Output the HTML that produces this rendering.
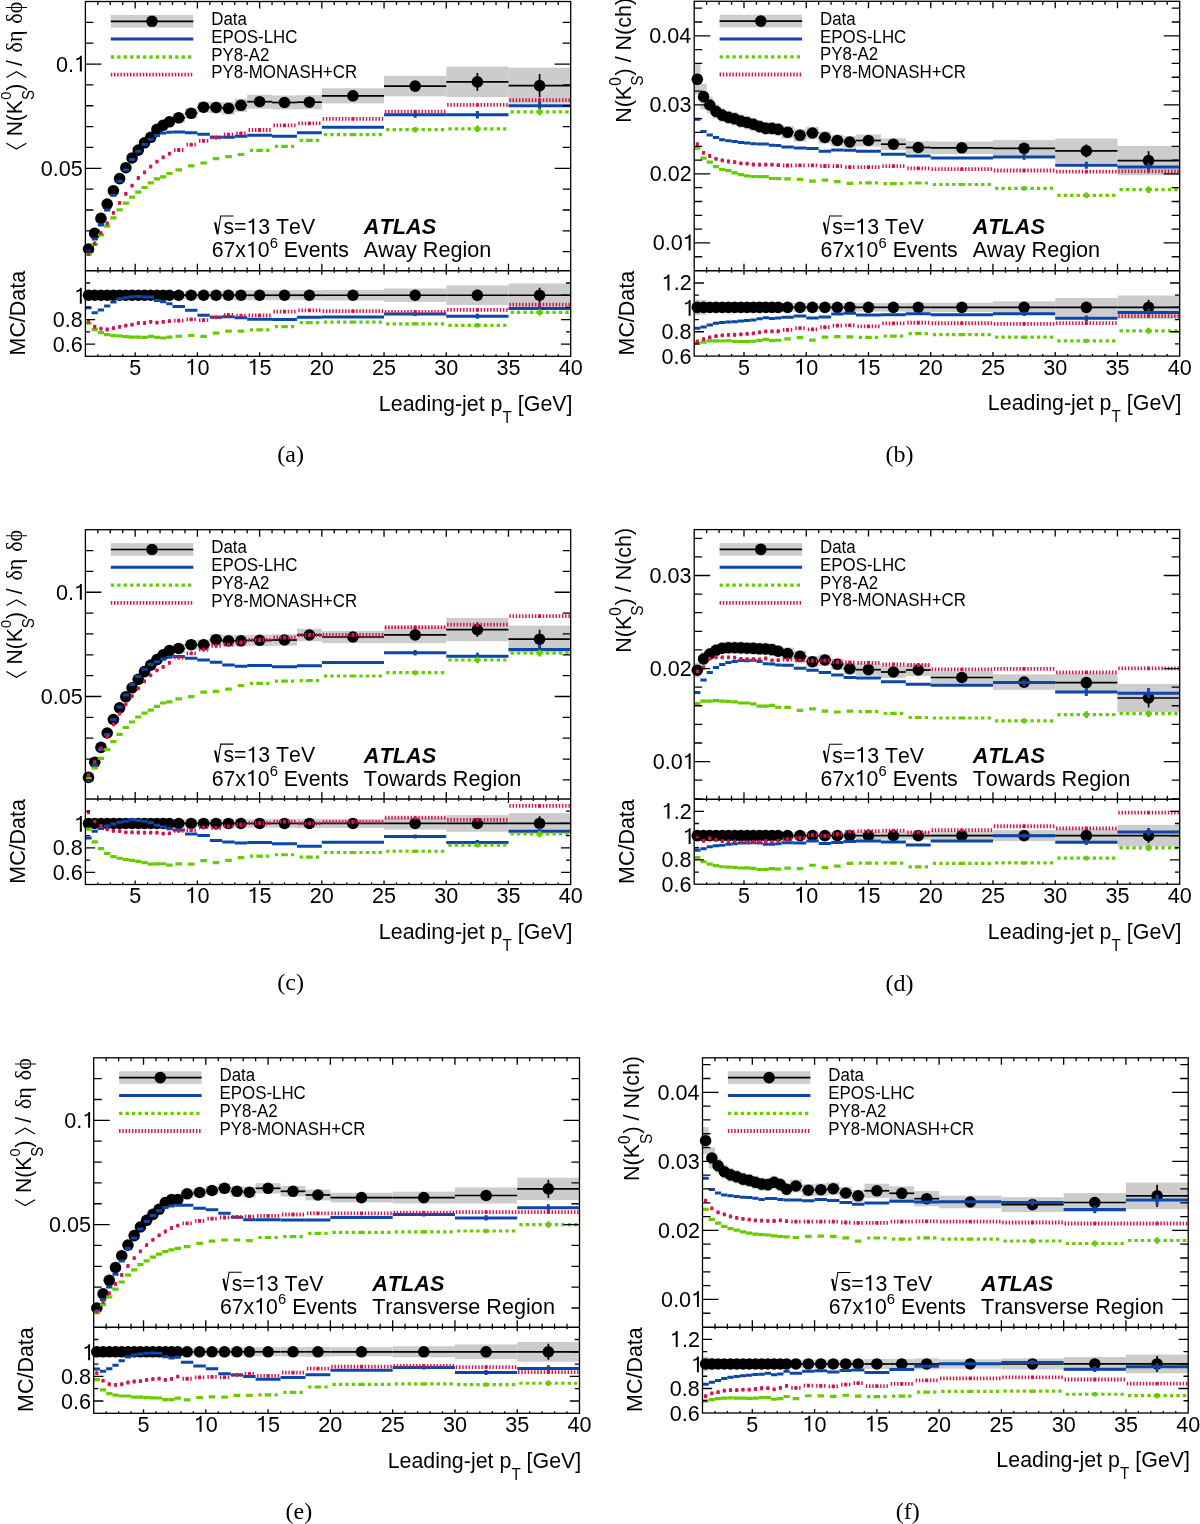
<!DOCTYPE html>
<html><head><meta charset="utf-8"><style>
html,body{margin:0;padding:0;background:#fff;width:1200px;height:1524px;overflow:hidden}
svg{display:block;will-change:transform}

</style></head><body>
<svg width="1200" height="1524" viewBox="0 0 1200 1524">
<rect width="1200" height="1524" fill="#fff"/>
<clipPath id="cma"><rect x="85.4" y="1.5" width="485.3" height="269.3"/></clipPath>
<clipPath id="cra"><rect x="85.4" y="270.8" width="485.3" height="85.5"/></clipPath>
<g clip-path="url(#cma)">
<rect x="85.4" y="248.41" width="6.22" height="1.18" fill="#cccccc"/>
<rect x="91.62" y="232.42" width="6.22" height="1.96" fill="#cccccc"/>
<rect x="97.84" y="217.05" width="6.22" height="2.71" fill="#cccccc"/>
<rect x="104.07" y="202.39" width="6.22" height="3.42" fill="#cccccc"/>
<rect x="110.29" y="188.65" width="6.22" height="4.09" fill="#cccccc"/>
<rect x="116.51" y="176.25" width="6.22" height="4.7" fill="#cccccc"/>
<rect x="122.73" y="165.08" width="6.22" height="5.24" fill="#cccccc"/>
<rect x="128.95" y="155.14" width="6.22" height="5.73" fill="#cccccc"/>
<rect x="135.17" y="147.04" width="6.22" height="6.12" fill="#cccccc"/>
<rect x="141.4" y="139.56" width="6.22" height="6.49" fill="#cccccc"/>
<rect x="147.62" y="133.92" width="6.22" height="6.76" fill="#cccccc"/>
<rect x="153.84" y="125.82" width="6.22" height="7.16" fill="#cccccc"/>
<rect x="160.06" y="121.52" width="6.22" height="7.37" fill="#cccccc"/>
<rect x="166.28" y="118.03" width="6.22" height="7.54" fill="#cccccc"/>
<rect x="172.51" y="113.16" width="12.44" height="9.29" fill="#cccccc"/>
<rect x="184.95" y="108.2" width="12.44" height="10.19" fill="#cccccc"/>
<rect x="197.39" y="101.74" width="12.44" height="10.91" fill="#cccccc"/>
<rect x="209.84" y="101.72" width="12.44" height="11.55" fill="#cccccc"/>
<rect x="222.28" y="102.06" width="12.44" height="12.48" fill="#cccccc"/>
<rect x="234.72" y="98.61" width="12.44" height="13.38" fill="#cccccc"/>
<rect x="247.17" y="94.7" width="24.89" height="14.01" fill="#cccccc"/>
<rect x="272.05" y="95.53" width="24.89" height="13.94" fill="#cccccc"/>
<rect x="296.94" y="95.22" width="24.89" height="13.97" fill="#cccccc"/>
<rect x="321.83" y="88.2" width="62.22" height="15.2" fill="#cccccc"/>
<rect x="384.05" y="75.85" width="62.22" height="20.51" fill="#cccccc"/>
<rect x="446.26" y="66.65" width="62.22" height="30.5" fill="#cccccc"/>
<rect x="508.48" y="67.65" width="62.22" height="35.89" fill="#cccccc"/>
</g>
<line x1="85.4" y1="249" x2="91.62" y2="249" stroke="#000" stroke-width="1.7"/>
<line x1="91.62" y1="233.4" x2="97.84" y2="233.4" stroke="#000" stroke-width="1.7"/>
<line x1="97.84" y1="218.4" x2="104.07" y2="218.4" stroke="#000" stroke-width="1.7"/>
<line x1="104.07" y1="204.1" x2="110.29" y2="204.1" stroke="#000" stroke-width="1.7"/>
<line x1="110.29" y1="190.7" x2="116.51" y2="190.7" stroke="#000" stroke-width="1.7"/>
<line x1="116.51" y1="178.6" x2="122.73" y2="178.6" stroke="#000" stroke-width="1.7"/>
<line x1="122.73" y1="167.7" x2="128.95" y2="167.7" stroke="#000" stroke-width="1.7"/>
<line x1="128.95" y1="158" x2="135.17" y2="158" stroke="#000" stroke-width="1.7"/>
<line x1="135.17" y1="150.1" x2="141.4" y2="150.1" stroke="#000" stroke-width="1.7"/>
<line x1="141.4" y1="142.8" x2="147.62" y2="142.8" stroke="#000" stroke-width="1.7"/>
<line x1="147.62" y1="137.3" x2="153.84" y2="137.3" stroke="#000" stroke-width="1.7"/>
<line x1="153.84" y1="129.4" x2="160.06" y2="129.4" stroke="#000" stroke-width="1.7"/>
<line x1="160.06" y1="125.2" x2="166.28" y2="125.2" stroke="#000" stroke-width="1.7"/>
<line x1="166.28" y1="121.8" x2="172.51" y2="121.8" stroke="#000" stroke-width="1.7"/>
<line x1="172.51" y1="117.8" x2="184.95" y2="117.8" stroke="#000" stroke-width="1.7"/>
<line x1="184.95" y1="113.3" x2="197.39" y2="113.3" stroke="#000" stroke-width="1.7"/>
<line x1="197.39" y1="107.2" x2="209.84" y2="107.2" stroke="#000" stroke-width="1.7"/>
<line x1="209.84" y1="107.5" x2="222.28" y2="107.5" stroke="#000" stroke-width="1.7"/>
<line x1="222.28" y1="108.3" x2="234.72" y2="108.3" stroke="#000" stroke-width="1.7"/>
<line x1="234.72" y1="105.3" x2="247.17" y2="105.3" stroke="#000" stroke-width="1.7"/>
<line x1="247.17" y1="101.7" x2="272.05" y2="101.7" stroke="#000" stroke-width="1.7"/>
<line x1="272.05" y1="102.5" x2="296.94" y2="102.5" stroke="#000" stroke-width="1.7"/>
<line x1="296.94" y1="102.2" x2="321.83" y2="102.2" stroke="#000" stroke-width="1.7"/>
<line x1="321.83" y1="95.8" x2="384.05" y2="95.8" stroke="#000" stroke-width="1.7"/>
<line x1="384.05" y1="86.1" x2="446.26" y2="86.1" stroke="#000" stroke-width="1.7"/>
<line x1="415.16" y1="81.44" x2="415.16" y2="90.76" stroke="#000" stroke-width="1.7"/>
<line x1="446.26" y1="81.9" x2="508.48" y2="81.9" stroke="#000" stroke-width="1.7"/>
<line x1="477.37" y1="72.94" x2="477.37" y2="90.86" stroke="#000" stroke-width="1.7"/>
<line x1="508.48" y1="85.6" x2="570.7" y2="85.6" stroke="#000" stroke-width="1.7"/>
<line x1="539.59" y1="74.01" x2="539.59" y2="97.19" stroke="#000" stroke-width="1.7"/>
<circle cx="88.51" cy="249" r="5.8" fill="#000"/>
<circle cx="94.73" cy="233.4" r="5.8" fill="#000"/>
<circle cx="100.95" cy="218.4" r="5.8" fill="#000"/>
<circle cx="107.18" cy="204.1" r="5.8" fill="#000"/>
<circle cx="113.4" cy="190.7" r="5.8" fill="#000"/>
<circle cx="119.62" cy="178.6" r="5.8" fill="#000"/>
<circle cx="125.84" cy="167.7" r="5.8" fill="#000"/>
<circle cx="132.06" cy="158" r="5.8" fill="#000"/>
<circle cx="138.29" cy="150.1" r="5.8" fill="#000"/>
<circle cx="144.51" cy="142.8" r="5.8" fill="#000"/>
<circle cx="150.73" cy="137.3" r="5.8" fill="#000"/>
<circle cx="156.95" cy="129.4" r="5.8" fill="#000"/>
<circle cx="163.17" cy="125.2" r="5.8" fill="#000"/>
<circle cx="169.39" cy="121.8" r="5.8" fill="#000"/>
<circle cx="178.73" cy="117.8" r="5.8" fill="#000"/>
<circle cx="191.17" cy="113.3" r="5.8" fill="#000"/>
<circle cx="203.61" cy="107.2" r="5.8" fill="#000"/>
<circle cx="216.06" cy="107.5" r="5.8" fill="#000"/>
<circle cx="228.5" cy="108.3" r="5.8" fill="#000"/>
<circle cx="240.94" cy="105.3" r="5.8" fill="#000"/>
<circle cx="259.61" cy="101.7" r="5.8" fill="#000"/>
<circle cx="284.5" cy="102.5" r="5.8" fill="#000"/>
<circle cx="309.38" cy="102.2" r="5.8" fill="#000"/>
<circle cx="352.94" cy="95.8" r="5.8" fill="#000"/>
<circle cx="415.16" cy="86.1" r="5.8" fill="#000"/>
<circle cx="477.37" cy="81.9" r="5.8" fill="#000"/>
<circle cx="539.59" cy="85.6" r="5.8" fill="#000"/>
<g clip-path="url(#cma)">
<path d="M88.51 251.4H85.4M88.51 251.4H91.62" stroke="#0b46a8" stroke-width="3" fill="none"/>
<path d="M94.73 239H91.62M94.73 239H97.84" stroke="#0b46a8" stroke-width="3" fill="none"/>
<path d="M100.95 225H97.84M100.95 225H104.07" stroke="#0b46a8" stroke-width="3" fill="none"/>
<path d="M107.18 210.1H104.07M107.18 210.1H110.29" stroke="#0b46a8" stroke-width="3" fill="none"/>
<path d="M113.4 195.3H110.29M113.4 195.3H116.51" stroke="#0b46a8" stroke-width="3" fill="none"/>
<path d="M119.62 181.3H116.51M119.62 181.3H122.73" stroke="#0b46a8" stroke-width="3" fill="none"/>
<path d="M125.84 169.9H122.73M125.84 169.9H128.95" stroke="#0b46a8" stroke-width="3" fill="none"/>
<path d="M132.06 159.4H128.95M132.06 159.4H135.17" stroke="#0b46a8" stroke-width="3" fill="none"/>
<path d="M138.29 151.3H135.17M138.29 151.3H141.4" stroke="#0b46a8" stroke-width="3" fill="none"/>
<path d="M144.51 144.6H141.4M144.51 144.6H147.62" stroke="#0b46a8" stroke-width="3" fill="none"/>
<path d="M150.73 139.2H147.62M150.73 139.2H153.84" stroke="#0b46a8" stroke-width="3" fill="none"/>
<path d="M156.95 135.5H153.84M156.95 135.5H160.06" stroke="#0b46a8" stroke-width="3" fill="none"/>
<path d="M163.17 133.1H160.06M163.17 133.1H166.28" stroke="#0b46a8" stroke-width="3" fill="none"/>
<path d="M169.39 132.2H166.28M169.39 132.2H172.51" stroke="#0b46a8" stroke-width="3" fill="none"/>
<path d="M178.73 132H172.51M178.73 132H184.95" stroke="#0b46a8" stroke-width="3" fill="none"/>
<path d="M191.17 132.8H184.95M191.17 132.8H197.39" stroke="#0b46a8" stroke-width="3" fill="none"/>
<path d="M203.61 134.2H197.39M203.61 134.2H209.84" stroke="#0b46a8" stroke-width="3" fill="none"/>
<path d="M216.06 137.2H209.84M216.06 137.2H222.28" stroke="#0b46a8" stroke-width="3" fill="none"/>
<path d="M228.5 137.2H222.28M228.5 137.2H234.72" stroke="#0b46a8" stroke-width="3" fill="none"/>
<path d="M240.94 136.3H234.72M240.94 136.3H247.17" stroke="#0b46a8" stroke-width="3" fill="none"/>
<path d="M259.61 135.3H247.17M259.61 135.3H272.05" stroke="#0b46a8" stroke-width="3" fill="none"/>
<path d="M284.5 136.2H272.05M284.5 136.2H296.94" stroke="#0b46a8" stroke-width="3" fill="none"/>
<path d="M309.38 132.8H296.94M309.38 132.8H321.83" stroke="#0b46a8" stroke-width="3" fill="none"/>
<path d="M352.94 127.3H321.83M352.94 127.3H384.05" stroke="#0b46a8" stroke-width="3" fill="none"/>
<path d="M415.16 114.7H384.05M415.16 114.7H446.26M415.16 114.7V111.7M415.16 114.7V117.7" stroke="#0b46a8" stroke-width="3" fill="none"/>
<path d="M477.37 114.7H446.26M477.37 114.7H508.48M477.37 114.7V110.91M477.37 114.7V118.49" stroke="#0b46a8" stroke-width="3" fill="none"/>
<path d="M539.59 105.8H508.48M539.59 105.8H570.7M539.59 105.8V100.8M539.59 105.8V110.8" stroke="#0b46a8" stroke-width="3" fill="none"/>
</g>
<g clip-path="url(#cma)">
<path d="M88.51 254.4H85.4M88.51 254.4H91.62" stroke="#66cc00" stroke-width="3.2" fill="none" stroke-dasharray="3.3 3.13"/>
<path d="M94.73 244.4H91.62M94.73 244.4H97.84" stroke="#66cc00" stroke-width="3.2" fill="none" stroke-dasharray="3.3 3.13"/>
<path d="M100.95 235H97.84M100.95 235H104.07" stroke="#66cc00" stroke-width="3.2" fill="none" stroke-dasharray="3.3 3.13"/>
<path d="M107.18 226.2H104.07M107.18 226.2H110.29" stroke="#66cc00" stroke-width="3.2" fill="none" stroke-dasharray="3.3 3.13"/>
<path d="M113.4 217.8H110.29M113.4 217.8H116.51" stroke="#66cc00" stroke-width="3.2" fill="none" stroke-dasharray="3.3 3.13"/>
<path d="M119.62 209.8H116.51M119.62 209.8H122.73" stroke="#66cc00" stroke-width="3.2" fill="none" stroke-dasharray="3.3 3.13"/>
<path d="M125.84 203.2H122.73M125.84 203.2H128.95" stroke="#66cc00" stroke-width="3.2" fill="none" stroke-dasharray="3.3 3.13"/>
<path d="M132.06 197.2H128.95M132.06 197.2H135.17" stroke="#66cc00" stroke-width="3.2" fill="none" stroke-dasharray="3.3 3.13"/>
<path d="M138.29 192.2H135.17M138.29 192.2H141.4" stroke="#66cc00" stroke-width="3.2" fill="none" stroke-dasharray="3.3 3.13"/>
<path d="M144.51 187.5H141.4M144.51 187.5H147.62" stroke="#66cc00" stroke-width="3.2" fill="none" stroke-dasharray="3.3 3.13"/>
<path d="M150.73 182.8H147.62M150.73 182.8H153.84" stroke="#66cc00" stroke-width="3.2" fill="none" stroke-dasharray="3.3 3.13"/>
<path d="M156.95 178.8H153.84M156.95 178.8H160.06" stroke="#66cc00" stroke-width="3.2" fill="none" stroke-dasharray="3.3 3.13"/>
<path d="M163.17 176.8H160.06M163.17 176.8H166.28" stroke="#66cc00" stroke-width="3.2" fill="none" stroke-dasharray="3.3 3.13"/>
<path d="M169.39 173.5H166.28M169.39 173.5H172.51" stroke="#66cc00" stroke-width="3.2" fill="none" stroke-dasharray="3.3 3.13"/>
<path d="M178.73 169.8H172.51M178.73 169.8H184.95" stroke="#66cc00" stroke-width="3.2" fill="none" stroke-dasharray="3.3 3.13"/>
<path d="M191.17 165.8H184.95M191.17 165.8H197.39" stroke="#66cc00" stroke-width="3.2" fill="none" stroke-dasharray="3.3 3.13"/>
<path d="M203.61 163H197.39M203.61 163H209.84" stroke="#66cc00" stroke-width="3.2" fill="none" stroke-dasharray="3.3 3.13"/>
<path d="M216.06 158.7H209.84M216.06 158.7H222.28" stroke="#66cc00" stroke-width="3.2" fill="none" stroke-dasharray="3.3 3.13"/>
<path d="M228.5 156.7H222.28M228.5 156.7H234.72" stroke="#66cc00" stroke-width="3.2" fill="none" stroke-dasharray="3.3 3.13"/>
<path d="M240.94 154.5H234.72M240.94 154.5H247.17" stroke="#66cc00" stroke-width="3.2" fill="none" stroke-dasharray="3.3 3.13"/>
<path d="M259.61 150.3H247.17M259.61 150.3H272.05" stroke="#66cc00" stroke-width="3.2" fill="none" stroke-dasharray="3.3 3.13"/>
<path d="M284.5 146.3H272.05M284.5 146.3H296.94" stroke="#66cc00" stroke-width="3.2" fill="none" stroke-dasharray="3.3 3.13"/>
<path d="M309.38 140.3H296.94M309.38 140.3H321.83" stroke="#66cc00" stroke-width="3.2" fill="none" stroke-dasharray="3.3 3.13"/>
<path d="M352.94 134.6H321.83M352.94 134.6H384.05" stroke="#66cc00" stroke-width="3.2" fill="none" stroke-dasharray="3.3 3.13"/>
<path d="M415.16 129.7H384.05M415.16 129.7H446.26M415.16 129.7V126.99M415.16 129.7V132.41" stroke="#66cc00" stroke-width="3.2" fill="none" stroke-dasharray="3.3 3.13"/>
<path d="M477.37 128.8H446.26M477.37 128.8H508.48M477.37 128.8V125.5M477.37 128.8V132.1" stroke="#66cc00" stroke-width="3.2" fill="none" stroke-dasharray="3.3 3.13"/>
<path d="M539.59 111.8H508.48M539.59 111.8H570.7M539.59 111.8V108.5M539.59 111.8V115.1" stroke="#66cc00" stroke-width="3.2" fill="none" stroke-dasharray="3.3 3.13"/>
</g>
<g clip-path="url(#cma)">
<path d="M88.51 254.1H85.4M88.51 254.1H91.62" stroke="#d4174a" stroke-width="3.8" fill="none" stroke-dasharray="1.45 1.75"/>
<circle cx="88.51" cy="254.1" r="1.65" fill="#d4174a"/>
<path d="M94.73 243.5H91.62M94.73 243.5H97.84" stroke="#d4174a" stroke-width="3.8" fill="none" stroke-dasharray="1.45 1.75"/>
<circle cx="94.73" cy="243.5" r="1.65" fill="#d4174a"/>
<path d="M100.95 233.2H97.84M100.95 233.2H104.07" stroke="#d4174a" stroke-width="3.8" fill="none" stroke-dasharray="1.45 1.75"/>
<circle cx="100.95" cy="233.2" r="1.65" fill="#d4174a"/>
<path d="M107.18 223.3H104.07M107.18 223.3H110.29" stroke="#d4174a" stroke-width="3.8" fill="none" stroke-dasharray="1.45 1.75"/>
<circle cx="107.18" cy="223.3" r="1.65" fill="#d4174a"/>
<path d="M113.4 212.8H110.29M113.4 212.8H116.51" stroke="#d4174a" stroke-width="3.8" fill="none" stroke-dasharray="1.45 1.75"/>
<circle cx="113.4" cy="212.8" r="1.65" fill="#d4174a"/>
<path d="M119.62 202.9H116.51M119.62 202.9H122.73" stroke="#d4174a" stroke-width="3.8" fill="none" stroke-dasharray="1.45 1.75"/>
<circle cx="119.62" cy="202.9" r="1.65" fill="#d4174a"/>
<path d="M125.84 193.8H122.73M125.84 193.8H128.95" stroke="#d4174a" stroke-width="3.8" fill="none" stroke-dasharray="1.45 1.75"/>
<circle cx="125.84" cy="193.8" r="1.65" fill="#d4174a"/>
<path d="M132.06 185.6H128.95M132.06 185.6H135.17" stroke="#d4174a" stroke-width="3.8" fill="none" stroke-dasharray="1.45 1.75"/>
<circle cx="132.06" cy="185.6" r="1.65" fill="#d4174a"/>
<path d="M138.29 178H135.17M138.29 178H141.4" stroke="#d4174a" stroke-width="3.8" fill="none" stroke-dasharray="1.45 1.75"/>
<circle cx="138.29" cy="178" r="1.65" fill="#d4174a"/>
<path d="M144.51 172.3H141.4M144.51 172.3H147.62" stroke="#d4174a" stroke-width="3.8" fill="none" stroke-dasharray="1.45 1.75"/>
<circle cx="144.51" cy="172.3" r="1.65" fill="#d4174a"/>
<path d="M150.73 166.7H147.62M150.73 166.7H153.84" stroke="#d4174a" stroke-width="3.8" fill="none" stroke-dasharray="1.45 1.75"/>
<circle cx="150.73" cy="166.7" r="1.65" fill="#d4174a"/>
<path d="M156.95 161.6H153.84M156.95 161.6H160.06" stroke="#d4174a" stroke-width="3.8" fill="none" stroke-dasharray="1.45 1.75"/>
<circle cx="156.95" cy="161.6" r="1.65" fill="#d4174a"/>
<path d="M163.17 157.4H160.06M163.17 157.4H166.28" stroke="#d4174a" stroke-width="3.8" fill="none" stroke-dasharray="1.45 1.75"/>
<circle cx="163.17" cy="157.4" r="1.65" fill="#d4174a"/>
<path d="M169.39 153.7H166.28M169.39 153.7H172.51" stroke="#d4174a" stroke-width="3.8" fill="none" stroke-dasharray="1.45 1.75"/>
<circle cx="169.39" cy="153.7" r="1.65" fill="#d4174a"/>
<path d="M178.73 150H172.51M178.73 150H184.95" stroke="#d4174a" stroke-width="3.8" fill="none" stroke-dasharray="1.45 1.75"/>
<circle cx="178.73" cy="150" r="1.65" fill="#d4174a"/>
<path d="M191.17 144.7H184.95M191.17 144.7H197.39" stroke="#d4174a" stroke-width="3.8" fill="none" stroke-dasharray="1.45 1.75"/>
<circle cx="191.17" cy="144.7" r="1.65" fill="#d4174a"/>
<path d="M203.61 140.8H197.39M203.61 140.8H209.84" stroke="#d4174a" stroke-width="3.8" fill="none" stroke-dasharray="1.45 1.75"/>
<circle cx="203.61" cy="140.8" r="1.65" fill="#d4174a"/>
<path d="M216.06 137.5H209.84M216.06 137.5H222.28" stroke="#d4174a" stroke-width="3.8" fill="none" stroke-dasharray="1.45 1.75"/>
<circle cx="216.06" cy="137.5" r="1.65" fill="#d4174a"/>
<path d="M228.5 134.7H222.28M228.5 134.7H234.72" stroke="#d4174a" stroke-width="3.8" fill="none" stroke-dasharray="1.45 1.75"/>
<circle cx="228.5" cy="134.7" r="1.65" fill="#d4174a"/>
<path d="M240.94 133.3H234.72M240.94 133.3H247.17" stroke="#d4174a" stroke-width="3.8" fill="none" stroke-dasharray="1.45 1.75"/>
<circle cx="240.94" cy="133.3" r="1.65" fill="#d4174a"/>
<path d="M259.61 130H247.17M259.61 130H272.05" stroke="#d4174a" stroke-width="3.8" fill="none" stroke-dasharray="1.45 1.75"/>
<circle cx="259.61" cy="130" r="1.65" fill="#d4174a"/>
<path d="M284.5 125.3H272.05M284.5 125.3H296.94" stroke="#d4174a" stroke-width="3.8" fill="none" stroke-dasharray="1.45 1.75"/>
<circle cx="284.5" cy="125.3" r="1.65" fill="#d4174a"/>
<path d="M309.38 123.3H296.94M309.38 123.3H321.83" stroke="#d4174a" stroke-width="3.8" fill="none" stroke-dasharray="1.45 1.75"/>
<circle cx="309.38" cy="123.3" r="1.65" fill="#d4174a"/>
<path d="M352.94 118.9H321.83M352.94 118.9H384.05" stroke="#d4174a" stroke-width="3.8" fill="none" stroke-dasharray="1.45 1.75"/>
<circle cx="352.94" cy="118.9" r="1.65" fill="#d4174a"/>
<path d="M415.16 111.6H384.05M415.16 111.6H446.26" stroke="#d4174a" stroke-width="3.8" fill="none" stroke-dasharray="1.45 1.75"/>
<circle cx="415.16" cy="111.6" r="1.65" fill="#d4174a"/>
<path d="M477.37 104.9H446.26M477.37 104.9H508.48" stroke="#d4174a" stroke-width="3.8" fill="none" stroke-dasharray="1.45 1.75"/>
<circle cx="477.37" cy="104.9" r="1.65" fill="#d4174a"/>
<path d="M539.59 100.1H508.48M539.59 100.1H570.7" stroke="#d4174a" stroke-width="3.8" fill="none" stroke-dasharray="1.45 1.75"/>
<circle cx="539.59" cy="100.1" r="1.65" fill="#d4174a"/>
</g>
<g clip-path="url(#cra)">
<rect x="85.4" y="292.18" width="6.22" height="6.11" fill="#cccccc"/>
<rect x="91.62" y="292.18" width="6.22" height="6.11" fill="#cccccc"/>
<rect x="97.84" y="292.18" width="6.22" height="6.11" fill="#cccccc"/>
<rect x="104.07" y="292.18" width="6.22" height="6.11" fill="#cccccc"/>
<rect x="110.29" y="292.18" width="6.22" height="6.11" fill="#cccccc"/>
<rect x="116.51" y="292.18" width="6.22" height="6.11" fill="#cccccc"/>
<rect x="122.73" y="292.18" width="6.22" height="6.11" fill="#cccccc"/>
<rect x="128.95" y="292.18" width="6.22" height="6.11" fill="#cccccc"/>
<rect x="135.17" y="292.18" width="6.22" height="6.11" fill="#cccccc"/>
<rect x="141.4" y="292.18" width="6.22" height="6.11" fill="#cccccc"/>
<rect x="147.62" y="292.18" width="6.22" height="6.11" fill="#cccccc"/>
<rect x="153.84" y="292.18" width="6.22" height="6.11" fill="#cccccc"/>
<rect x="160.06" y="292.18" width="6.22" height="6.11" fill="#cccccc"/>
<rect x="166.28" y="292.18" width="6.22" height="6.11" fill="#cccccc"/>
<rect x="172.51" y="291.56" width="12.44" height="7.33" fill="#cccccc"/>
<rect x="184.95" y="291.32" width="12.44" height="7.82" fill="#cccccc"/>
<rect x="197.39" y="291.2" width="12.44" height="8.06" fill="#cccccc"/>
<rect x="209.84" y="290.95" width="12.44" height="8.55" fill="#cccccc"/>
<rect x="222.28" y="290.59" width="12.44" height="9.28" fill="#cccccc"/>
<rect x="234.72" y="290.34" width="12.44" height="9.77" fill="#cccccc"/>
<rect x="247.17" y="290.22" width="24.89" height="10.02" fill="#cccccc"/>
<rect x="272.05" y="290.22" width="24.89" height="10.02" fill="#cccccc"/>
<rect x="296.94" y="290.22" width="24.89" height="10.02" fill="#cccccc"/>
<rect x="321.83" y="289.98" width="62.22" height="10.5" fill="#cccccc"/>
<rect x="384.05" y="288.51" width="62.22" height="13.44" fill="#cccccc"/>
<rect x="446.26" y="285.46" width="62.22" height="19.54" fill="#cccccc"/>
<rect x="508.48" y="283.5" width="62.22" height="23.45" fill="#cccccc"/>
</g>
<line x1="85.4" y1="295.23" x2="91.62" y2="295.23" stroke="#000" stroke-width="1.7"/>
<line x1="91.62" y1="295.23" x2="97.84" y2="295.23" stroke="#000" stroke-width="1.7"/>
<line x1="97.84" y1="295.23" x2="104.07" y2="295.23" stroke="#000" stroke-width="1.7"/>
<line x1="104.07" y1="295.23" x2="110.29" y2="295.23" stroke="#000" stroke-width="1.7"/>
<line x1="110.29" y1="295.23" x2="116.51" y2="295.23" stroke="#000" stroke-width="1.7"/>
<line x1="116.51" y1="295.23" x2="122.73" y2="295.23" stroke="#000" stroke-width="1.7"/>
<line x1="122.73" y1="295.23" x2="128.95" y2="295.23" stroke="#000" stroke-width="1.7"/>
<line x1="128.95" y1="295.23" x2="135.17" y2="295.23" stroke="#000" stroke-width="1.7"/>
<line x1="135.17" y1="295.23" x2="141.4" y2="295.23" stroke="#000" stroke-width="1.7"/>
<line x1="141.4" y1="295.23" x2="147.62" y2="295.23" stroke="#000" stroke-width="1.7"/>
<line x1="147.62" y1="295.23" x2="153.84" y2="295.23" stroke="#000" stroke-width="1.7"/>
<line x1="153.84" y1="295.23" x2="160.06" y2="295.23" stroke="#000" stroke-width="1.7"/>
<line x1="160.06" y1="295.23" x2="166.28" y2="295.23" stroke="#000" stroke-width="1.7"/>
<line x1="166.28" y1="295.23" x2="172.51" y2="295.23" stroke="#000" stroke-width="1.7"/>
<line x1="172.51" y1="295.23" x2="184.95" y2="295.23" stroke="#000" stroke-width="1.7"/>
<line x1="184.95" y1="295.23" x2="197.39" y2="295.23" stroke="#000" stroke-width="1.7"/>
<line x1="197.39" y1="295.23" x2="209.84" y2="295.23" stroke="#000" stroke-width="1.7"/>
<line x1="209.84" y1="295.23" x2="222.28" y2="295.23" stroke="#000" stroke-width="1.7"/>
<line x1="222.28" y1="295.23" x2="234.72" y2="295.23" stroke="#000" stroke-width="1.7"/>
<line x1="234.72" y1="295.23" x2="247.17" y2="295.23" stroke="#000" stroke-width="1.7"/>
<line x1="247.17" y1="295.23" x2="272.05" y2="295.23" stroke="#000" stroke-width="1.7"/>
<line x1="272.05" y1="295.23" x2="296.94" y2="295.23" stroke="#000" stroke-width="1.7"/>
<line x1="296.94" y1="295.23" x2="321.83" y2="295.23" stroke="#000" stroke-width="1.7"/>
<line x1="321.83" y1="295.23" x2="384.05" y2="295.23" stroke="#000" stroke-width="1.7"/>
<line x1="384.05" y1="295.23" x2="446.26" y2="295.23" stroke="#000" stroke-width="1.7"/>
<line x1="415.16" y1="292.18" x2="415.16" y2="298.28" stroke="#000" stroke-width="1.7"/>
<line x1="446.26" y1="295.23" x2="508.48" y2="295.23" stroke="#000" stroke-width="1.7"/>
<line x1="477.37" y1="289.49" x2="477.37" y2="300.97" stroke="#000" stroke-width="1.7"/>
<line x1="508.48" y1="295.23" x2="570.7" y2="295.23" stroke="#000" stroke-width="1.7"/>
<line x1="539.59" y1="287.66" x2="539.59" y2="302.8" stroke="#000" stroke-width="1.7"/>
<circle cx="88.51" cy="295.23" r="5.8" fill="#000"/>
<circle cx="94.73" cy="295.23" r="5.8" fill="#000"/>
<circle cx="100.95" cy="295.23" r="5.8" fill="#000"/>
<circle cx="107.18" cy="295.23" r="5.8" fill="#000"/>
<circle cx="113.4" cy="295.23" r="5.8" fill="#000"/>
<circle cx="119.62" cy="295.23" r="5.8" fill="#000"/>
<circle cx="125.84" cy="295.23" r="5.8" fill="#000"/>
<circle cx="132.06" cy="295.23" r="5.8" fill="#000"/>
<circle cx="138.29" cy="295.23" r="5.8" fill="#000"/>
<circle cx="144.51" cy="295.23" r="5.8" fill="#000"/>
<circle cx="150.73" cy="295.23" r="5.8" fill="#000"/>
<circle cx="156.95" cy="295.23" r="5.8" fill="#000"/>
<circle cx="163.17" cy="295.23" r="5.8" fill="#000"/>
<circle cx="169.39" cy="295.23" r="5.8" fill="#000"/>
<circle cx="178.73" cy="295.23" r="5.8" fill="#000"/>
<circle cx="191.17" cy="295.23" r="5.8" fill="#000"/>
<circle cx="203.61" cy="295.23" r="5.8" fill="#000"/>
<circle cx="216.06" cy="295.23" r="5.8" fill="#000"/>
<circle cx="228.5" cy="295.23" r="5.8" fill="#000"/>
<circle cx="240.94" cy="295.23" r="5.8" fill="#000"/>
<circle cx="259.61" cy="295.23" r="5.8" fill="#000"/>
<circle cx="284.5" cy="295.23" r="5.8" fill="#000"/>
<circle cx="309.38" cy="295.23" r="5.8" fill="#000"/>
<circle cx="352.94" cy="295.23" r="5.8" fill="#000"/>
<circle cx="415.16" cy="295.23" r="5.8" fill="#000"/>
<circle cx="477.37" cy="295.23" r="5.8" fill="#000"/>
<circle cx="539.59" cy="295.23" r="5.8" fill="#000"/>
<g clip-path="url(#cra)">
<path d="M88.51 307.68H85.4M88.51 307.68H91.62" stroke="#0b46a8" stroke-width="3" fill="none"/>
<path d="M94.73 312.7H91.62M94.73 312.7H97.84" stroke="#0b46a8" stroke-width="3" fill="none"/>
<path d="M100.95 310.12H97.84M100.95 310.12H104.07" stroke="#0b46a8" stroke-width="3" fill="none"/>
<path d="M107.18 305.94H104.07M107.18 305.94H110.29" stroke="#0b46a8" stroke-width="3" fill="none"/>
<path d="M113.4 302.09H110.29M113.4 302.09H116.51" stroke="#0b46a8" stroke-width="3" fill="none"/>
<path d="M119.62 298.74H116.51M119.62 298.74H122.73" stroke="#0b46a8" stroke-width="3" fill="none"/>
<path d="M125.84 297.79H122.73M125.84 297.79H128.95" stroke="#0b46a8" stroke-width="3" fill="none"/>
<path d="M132.06 296.72H128.95M132.06 296.72H135.17" stroke="#0b46a8" stroke-width="3" fill="none"/>
<path d="M138.29 296.43H135.17M138.29 296.43H141.4" stroke="#0b46a8" stroke-width="3" fill="none"/>
<path d="M144.51 296.92H141.4M144.51 296.92H147.62" stroke="#0b46a8" stroke-width="3" fill="none"/>
<path d="M150.73 296.94H147.62M150.73 296.94H153.84" stroke="#0b46a8" stroke-width="3" fill="none"/>
<path d="M156.95 300.43H153.84M156.95 300.43H160.06" stroke="#0b46a8" stroke-width="3" fill="none"/>
<path d="M163.17 301.78H160.06M163.17 301.78H166.28" stroke="#0b46a8" stroke-width="3" fill="none"/>
<path d="M169.39 303.66H166.28M169.39 303.66H172.51" stroke="#0b46a8" stroke-width="3" fill="none"/>
<path d="M178.73 306.44H172.51M178.73 306.44H184.95" stroke="#0b46a8" stroke-width="3" fill="none"/>
<path d="M191.17 310.18H184.95M191.17 310.18H197.39" stroke="#0b46a8" stroke-width="3" fill="none"/>
<path d="M203.61 315.17H197.39M203.61 315.17H209.84" stroke="#0b46a8" stroke-width="3" fill="none"/>
<path d="M216.06 317.21H209.84M216.06 317.21H222.28" stroke="#0b46a8" stroke-width="3" fill="none"/>
<path d="M228.5 316.72H222.28M228.5 316.72H234.72" stroke="#0b46a8" stroke-width="3" fill="none"/>
<path d="M240.94 317.87H234.72M240.94 317.87H247.17" stroke="#0b46a8" stroke-width="3" fill="none"/>
<path d="M259.61 319.25H247.17M259.61 319.25H272.05" stroke="#0b46a8" stroke-width="3" fill="none"/>
<path d="M284.5 319.43H272.05M284.5 319.43H296.94" stroke="#0b46a8" stroke-width="3" fill="none"/>
<path d="M309.38 317.17H296.94M309.38 317.17H321.83" stroke="#0b46a8" stroke-width="3" fill="none"/>
<path d="M352.94 317H321.83M352.94 317H384.05" stroke="#0b46a8" stroke-width="3" fill="none"/>
<path d="M415.16 313.96H384.05M415.16 313.96H446.26M415.16 313.96V312M415.16 313.96V315.93" stroke="#0b46a8" stroke-width="3" fill="none"/>
<path d="M477.37 316.24H446.26M477.37 316.24H508.48M477.37 316.24V313.82M477.37 316.24V318.67" stroke="#0b46a8" stroke-width="3" fill="none"/>
<path d="M539.59 308.43H508.48M539.59 308.43H570.7M539.59 308.43V305.16M539.59 308.43V311.69" stroke="#0b46a8" stroke-width="3" fill="none"/>
</g>
<g clip-path="url(#cra)">
<path d="M88.51 323.24H85.4M88.51 323.24H91.62" stroke="#66cc00" stroke-width="3.2" fill="none" stroke-dasharray="3.3 3.13"/>
<path d="M94.73 329.55H91.62M94.73 329.55H97.84" stroke="#66cc00" stroke-width="3.2" fill="none" stroke-dasharray="3.3 3.13"/>
<path d="M100.95 332.67H97.84M100.95 332.67H104.07" stroke="#66cc00" stroke-width="3.2" fill="none" stroke-dasharray="3.3 3.13"/>
<path d="M107.18 334.66H104.07M107.18 334.66H110.29" stroke="#66cc00" stroke-width="3.2" fill="none" stroke-dasharray="3.3 3.13"/>
<path d="M113.4 335.67H110.29M113.4 335.67H116.51" stroke="#66cc00" stroke-width="3.2" fill="none" stroke-dasharray="3.3 3.13"/>
<path d="M119.62 335.79H116.51M119.62 335.79H122.73" stroke="#66cc00" stroke-width="3.2" fill="none" stroke-dasharray="3.3 3.13"/>
<path d="M125.84 336.58H122.73M125.84 336.58H128.95" stroke="#66cc00" stroke-width="3.2" fill="none" stroke-dasharray="3.3 3.13"/>
<path d="M132.06 337.03H128.95M132.06 337.03H135.17" stroke="#66cc00" stroke-width="3.2" fill="none" stroke-dasharray="3.3 3.13"/>
<path d="M138.29 337.22H135.17M138.29 337.22H141.4" stroke="#66cc00" stroke-width="3.2" fill="none" stroke-dasharray="3.3 3.13"/>
<path d="M144.51 337.31H141.4M144.51 337.31H147.62" stroke="#66cc00" stroke-width="3.2" fill="none" stroke-dasharray="3.3 3.13"/>
<path d="M150.73 336.32H147.62M150.73 336.32H153.84" stroke="#66cc00" stroke-width="3.2" fill="none" stroke-dasharray="3.3 3.13"/>
<path d="M156.95 337.38H153.84M156.95 337.38H160.06" stroke="#66cc00" stroke-width="3.2" fill="none" stroke-dasharray="3.3 3.13"/>
<path d="M163.17 338H160.06M163.17 338H166.28" stroke="#66cc00" stroke-width="3.2" fill="none" stroke-dasharray="3.3 3.13"/>
<path d="M169.39 337.12H166.28M169.39 337.12H172.51" stroke="#66cc00" stroke-width="3.2" fill="none" stroke-dasharray="3.3 3.13"/>
<path d="M178.73 336.27H172.51M178.73 336.27H184.95" stroke="#66cc00" stroke-width="3.2" fill="none" stroke-dasharray="3.3 3.13"/>
<path d="M191.17 335.5H184.95M191.17 335.5H197.39" stroke="#66cc00" stroke-width="3.2" fill="none" stroke-dasharray="3.3 3.13"/>
<path d="M203.61 336.45H197.39M203.61 336.45H209.84" stroke="#66cc00" stroke-width="3.2" fill="none" stroke-dasharray="3.3 3.13"/>
<path d="M216.06 333.12H209.84M216.06 333.12H222.28" stroke="#66cc00" stroke-width="3.2" fill="none" stroke-dasharray="3.3 3.13"/>
<path d="M228.5 331.22H222.28M228.5 331.22H234.72" stroke="#66cc00" stroke-width="3.2" fill="none" stroke-dasharray="3.3 3.13"/>
<path d="M240.94 331.16H234.72M240.94 331.16H247.17" stroke="#66cc00" stroke-width="3.2" fill="none" stroke-dasharray="3.3 3.13"/>
<path d="M259.61 329.97H247.17M259.61 329.97H272.05" stroke="#66cc00" stroke-width="3.2" fill="none" stroke-dasharray="3.3 3.13"/>
<path d="M284.5 326.69H272.05M284.5 326.69H296.94" stroke="#66cc00" stroke-width="3.2" fill="none" stroke-dasharray="3.3 3.13"/>
<path d="M309.38 322.55H296.94M309.38 322.55H321.83" stroke="#66cc00" stroke-width="3.2" fill="none" stroke-dasharray="3.3 3.13"/>
<path d="M352.94 322.04H321.83M352.94 322.04H384.05" stroke="#66cc00" stroke-width="3.2" fill="none" stroke-dasharray="3.3 3.13"/>
<path d="M415.16 323.79H384.05M415.16 323.79H446.26M415.16 323.79V322.01M415.16 323.79V325.57" stroke="#66cc00" stroke-width="3.2" fill="none" stroke-dasharray="3.3 3.13"/>
<path d="M477.37 325.28H446.26M477.37 325.28H508.48M477.37 325.28V323.07M477.37 325.28V327.49" stroke="#66cc00" stroke-width="3.2" fill="none" stroke-dasharray="3.3 3.13"/>
<path d="M539.59 312.35H508.48M539.59 312.35H570.7M539.59 312.35V309.2M539.59 312.35V315.5" stroke="#66cc00" stroke-width="3.2" fill="none" stroke-dasharray="3.3 3.13"/>
</g>
<g clip-path="url(#cra)">
<path d="M88.51 321.68H85.4M88.51 321.68H91.62" stroke="#d4174a" stroke-width="3.8" fill="none" stroke-dasharray="1.45 1.75"/>
<circle cx="88.51" cy="321.68" r="1.65" fill="#d4174a"/>
<path d="M94.73 326.74H91.62M94.73 326.74H97.84" stroke="#d4174a" stroke-width="3.8" fill="none" stroke-dasharray="1.45 1.75"/>
<circle cx="94.73" cy="326.74" r="1.65" fill="#d4174a"/>
<path d="M100.95 328.61H97.84M100.95 328.61H104.07" stroke="#d4174a" stroke-width="3.8" fill="none" stroke-dasharray="1.45 1.75"/>
<circle cx="100.95" cy="328.61" r="1.65" fill="#d4174a"/>
<path d="M107.18 329.49H104.07M107.18 329.49H110.29" stroke="#d4174a" stroke-width="3.8" fill="none" stroke-dasharray="1.45 1.75"/>
<circle cx="107.18" cy="329.49" r="1.65" fill="#d4174a"/>
<path d="M113.4 328.21H110.29M113.4 328.21H116.51" stroke="#d4174a" stroke-width="3.8" fill="none" stroke-dasharray="1.45 1.75"/>
<circle cx="113.4" cy="328.21" r="1.65" fill="#d4174a"/>
<path d="M119.62 326.82H116.51M119.62 326.82H122.73" stroke="#d4174a" stroke-width="3.8" fill="none" stroke-dasharray="1.45 1.75"/>
<circle cx="119.62" cy="326.82" r="1.65" fill="#d4174a"/>
<path d="M125.84 325.63H122.73M125.84 325.63H128.95" stroke="#d4174a" stroke-width="3.8" fill="none" stroke-dasharray="1.45 1.75"/>
<circle cx="125.84" cy="325.63" r="1.65" fill="#d4174a"/>
<path d="M132.06 324.66H128.95M132.06 324.66H135.17" stroke="#d4174a" stroke-width="3.8" fill="none" stroke-dasharray="1.45 1.75"/>
<circle cx="132.06" cy="324.66" r="1.65" fill="#d4174a"/>
<path d="M138.29 323.06H135.17M138.29 323.06H141.4" stroke="#d4174a" stroke-width="3.8" fill="none" stroke-dasharray="1.45 1.75"/>
<circle cx="138.29" cy="323.06" r="1.65" fill="#d4174a"/>
<path d="M144.51 323H141.4M144.51 323H147.62" stroke="#d4174a" stroke-width="3.8" fill="none" stroke-dasharray="1.45 1.75"/>
<circle cx="144.51" cy="323" r="1.65" fill="#d4174a"/>
<path d="M150.73 321.78H147.62M150.73 321.78H153.84" stroke="#d4174a" stroke-width="3.8" fill="none" stroke-dasharray="1.45 1.75"/>
<circle cx="150.73" cy="321.78" r="1.65" fill="#d4174a"/>
<path d="M156.95 322.7H153.84M156.95 322.7H160.06" stroke="#d4174a" stroke-width="3.8" fill="none" stroke-dasharray="1.45 1.75"/>
<circle cx="156.95" cy="322.7" r="1.65" fill="#d4174a"/>
<path d="M163.17 321.92H160.06M163.17 321.92H166.28" stroke="#d4174a" stroke-width="3.8" fill="none" stroke-dasharray="1.45 1.75"/>
<circle cx="163.17" cy="321.92" r="1.65" fill="#d4174a"/>
<path d="M169.39 321.08H166.28M169.39 321.08H172.51" stroke="#d4174a" stroke-width="3.8" fill="none" stroke-dasharray="1.45 1.75"/>
<circle cx="169.39" cy="321.08" r="1.65" fill="#d4174a"/>
<path d="M178.73 320.64H172.51M178.73 320.64H184.95" stroke="#d4174a" stroke-width="3.8" fill="none" stroke-dasharray="1.45 1.75"/>
<circle cx="178.73" cy="320.64" r="1.65" fill="#d4174a"/>
<path d="M191.17 319.31H184.95M191.17 319.31H197.39" stroke="#d4174a" stroke-width="3.8" fill="none" stroke-dasharray="1.45 1.75"/>
<circle cx="191.17" cy="319.31" r="1.65" fill="#d4174a"/>
<path d="M203.61 320.05H197.39M203.61 320.05H209.84" stroke="#d4174a" stroke-width="3.8" fill="none" stroke-dasharray="1.45 1.75"/>
<circle cx="203.61" cy="320.05" r="1.65" fill="#d4174a"/>
<path d="M216.06 317.43H209.84M216.06 317.43H222.28" stroke="#d4174a" stroke-width="3.8" fill="none" stroke-dasharray="1.45 1.75"/>
<circle cx="216.06" cy="317.43" r="1.65" fill="#d4174a"/>
<path d="M228.5 314.86H222.28M228.5 314.86H234.72" stroke="#d4174a" stroke-width="3.8" fill="none" stroke-dasharray="1.45 1.75"/>
<circle cx="228.5" cy="314.86" r="1.65" fill="#d4174a"/>
<path d="M240.94 315.68H234.72M240.94 315.68H247.17" stroke="#d4174a" stroke-width="3.8" fill="none" stroke-dasharray="1.45 1.75"/>
<circle cx="240.94" cy="315.68" r="1.65" fill="#d4174a"/>
<path d="M259.61 315.46H247.17M259.61 315.46H272.05" stroke="#d4174a" stroke-width="3.8" fill="none" stroke-dasharray="1.45 1.75"/>
<circle cx="259.61" cy="315.46" r="1.65" fill="#d4174a"/>
<path d="M284.5 311.61H272.05M284.5 311.61H296.94" stroke="#d4174a" stroke-width="3.8" fill="none" stroke-dasharray="1.45 1.75"/>
<circle cx="284.5" cy="311.61" r="1.65" fill="#d4174a"/>
<path d="M309.38 310.36H296.94M309.38 310.36H321.83" stroke="#d4174a" stroke-width="3.8" fill="none" stroke-dasharray="1.45 1.75"/>
<circle cx="309.38" cy="310.36" r="1.65" fill="#d4174a"/>
<path d="M352.94 311.19H321.83M352.94 311.19H384.05" stroke="#d4174a" stroke-width="3.8" fill="none" stroke-dasharray="1.45 1.75"/>
<circle cx="352.94" cy="311.19" r="1.65" fill="#d4174a"/>
<path d="M415.16 311.93H384.05M415.16 311.93H446.26" stroke="#d4174a" stroke-width="3.8" fill="none" stroke-dasharray="1.45 1.75"/>
<circle cx="415.16" cy="311.93" r="1.65" fill="#d4174a"/>
<path d="M477.37 309.96H446.26M477.37 309.96H508.48" stroke="#d4174a" stroke-width="3.8" fill="none" stroke-dasharray="1.45 1.75"/>
<circle cx="477.37" cy="309.96" r="1.65" fill="#d4174a"/>
<path d="M539.59 304.7H508.48M539.59 304.7H570.7" stroke="#d4174a" stroke-width="3.8" fill="none" stroke-dasharray="1.45 1.75"/>
<circle cx="539.59" cy="304.7" r="1.65" fill="#d4174a"/>
</g>
<rect x="85.4" y="1.5" width="485.3" height="354.8" fill="none" stroke="#000" stroke-width="1.3"/>
<line x1="85.4" y1="270.8" x2="570.7" y2="270.8" stroke="#000" stroke-width="1.6"/>
<path d="M97.84 1.5v3.5M97.84 270.8v-3.5M97.84 270.8v2M97.84 356.3v-2M110.29 1.5v3.5M110.29 270.8v-3.5M110.29 270.8v2M110.29 356.3v-2M122.73 1.5v3.5M122.73 270.8v-3.5M122.73 270.8v2M122.73 356.3v-2M135.17 1.5v7M135.17 270.8v-7M135.17 270.8v4M135.17 356.3v-4M147.62 1.5v3.5M147.62 270.8v-3.5M147.62 270.8v2M147.62 356.3v-2M160.06 1.5v3.5M160.06 270.8v-3.5M160.06 270.8v2M160.06 356.3v-2M172.51 1.5v3.5M172.51 270.8v-3.5M172.51 270.8v2M172.51 356.3v-2M184.95 1.5v3.5M184.95 270.8v-3.5M184.95 270.8v2M184.95 356.3v-2M197.39 1.5v7M197.39 270.8v-7M197.39 270.8v4M197.39 356.3v-4M209.84 1.5v3.5M209.84 270.8v-3.5M209.84 270.8v2M209.84 356.3v-2M222.28 1.5v3.5M222.28 270.8v-3.5M222.28 270.8v2M222.28 356.3v-2M234.72 1.5v3.5M234.72 270.8v-3.5M234.72 270.8v2M234.72 356.3v-2M247.17 1.5v3.5M247.17 270.8v-3.5M247.17 270.8v2M247.17 356.3v-2M259.61 1.5v7M259.61 270.8v-7M259.61 270.8v4M259.61 356.3v-4M272.05 1.5v3.5M272.05 270.8v-3.5M272.05 270.8v2M272.05 356.3v-2M284.5 1.5v3.5M284.5 270.8v-3.5M284.5 270.8v2M284.5 356.3v-2M296.94 1.5v3.5M296.94 270.8v-3.5M296.94 270.8v2M296.94 356.3v-2M309.38 1.5v3.5M309.38 270.8v-3.5M309.38 270.8v2M309.38 356.3v-2M321.83 1.5v7M321.83 270.8v-7M321.83 270.8v4M321.83 356.3v-4M334.27 1.5v3.5M334.27 270.8v-3.5M334.27 270.8v2M334.27 356.3v-2M346.72 1.5v3.5M346.72 270.8v-3.5M346.72 270.8v2M346.72 356.3v-2M359.16 1.5v3.5M359.16 270.8v-3.5M359.16 270.8v2M359.16 356.3v-2M371.6 1.5v3.5M371.6 270.8v-3.5M371.6 270.8v2M371.6 356.3v-2M384.05 1.5v7M384.05 270.8v-7M384.05 270.8v4M384.05 356.3v-4M396.49 1.5v3.5M396.49 270.8v-3.5M396.49 270.8v2M396.49 356.3v-2M408.93 1.5v3.5M408.93 270.8v-3.5M408.93 270.8v2M408.93 356.3v-2M421.38 1.5v3.5M421.38 270.8v-3.5M421.38 270.8v2M421.38 356.3v-2M433.82 1.5v3.5M433.82 270.8v-3.5M433.82 270.8v2M433.82 356.3v-2M446.26 1.5v7M446.26 270.8v-7M446.26 270.8v4M446.26 356.3v-4M458.71 1.5v3.5M458.71 270.8v-3.5M458.71 270.8v2M458.71 356.3v-2M471.15 1.5v3.5M471.15 270.8v-3.5M471.15 270.8v2M471.15 356.3v-2M483.59 1.5v3.5M483.59 270.8v-3.5M483.59 270.8v2M483.59 356.3v-2M496.04 1.5v3.5M496.04 270.8v-3.5M496.04 270.8v2M496.04 356.3v-2M508.48 1.5v7M508.48 270.8v-7M508.48 270.8v4M508.48 356.3v-4M520.93 1.5v3.5M520.93 270.8v-3.5M520.93 270.8v2M520.93 356.3v-2M533.37 1.5v3.5M533.37 270.8v-3.5M533.37 270.8v2M533.37 356.3v-2M545.81 1.5v3.5M545.81 270.8v-3.5M545.81 270.8v2M545.81 356.3v-2M558.26 1.5v3.5M558.26 270.8v-3.5M558.26 270.8v2M558.26 356.3v-2M85.4 251.7h8M570.7 251.7h-8M85.4 230.85h8M570.7 230.85h-8M85.4 210h8M570.7 210h-8M85.4 189.15h8M570.7 189.15h-8M85.4 168.3h16M570.7 168.3h-16M85.4 147.45h8M570.7 147.45h-8M85.4 126.6h8M570.7 126.6h-8M85.4 105.75h8M570.7 105.75h-8M85.4 84.9h8M570.7 84.9h-8M85.4 64.05h16M570.7 64.05h-16M85.4 43.2h8M570.7 43.2h-8M85.4 22.35h8M570.7 22.35h-8M85.4 344.09h9.7M570.7 344.09h-9.7M85.4 331.87h4.7M570.7 331.87h-4.7M85.4 319.66h9.7M570.7 319.66h-9.7M85.4 307.44h4.7M570.7 307.44h-4.7M85.4 295.23h9.7M570.7 295.23h-9.7M85.4 283.01h4.7M570.7 283.01h-4.7" stroke="#000" stroke-width="1.3" fill="none"/>
<text transform="translate(129.17 374.8) scale(1 1.045)" font-size="21.6" font-family="'Liberation Sans', sans-serif" fill="#000" style="white-space:pre;font-kerning:none">5</text>
<text transform="translate(185.38 374.8) scale(1 1.045)" font-size="21.6" font-family="'Liberation Sans', sans-serif" fill="#000" style="white-space:pre;font-kerning:none"> 0</text>
<path transform="translate(185.38 374.8) scale(21.600 -22.572)" d="M.359 0V.703H.29C.266 .632 .205 .588 .101 .574V.503C.172 .511 .232 .535 .268 .566V0Z" fill="#000"/>
<text transform="translate(247.6 374.8) scale(1 1.045)" font-size="21.6" font-family="'Liberation Sans', sans-serif" fill="#000" style="white-space:pre;font-kerning:none"> 5</text>
<path transform="translate(247.6 374.8) scale(21.600 -22.572)" d="M.359 0V.703H.29C.266 .632 .205 .588 .101 .574V.503C.172 .511 .232 .535 .268 .566V0Z" fill="#000"/>
<text transform="translate(309.82 374.8) scale(1 1.045)" font-size="21.6" font-family="'Liberation Sans', sans-serif" fill="#000" style="white-space:pre;font-kerning:none">20</text>
<text transform="translate(372.03 374.8) scale(1 1.045)" font-size="21.6" font-family="'Liberation Sans', sans-serif" fill="#000" style="white-space:pre;font-kerning:none">25</text>
<text transform="translate(434.25 374.8) scale(1 1.045)" font-size="21.6" font-family="'Liberation Sans', sans-serif" fill="#000" style="white-space:pre;font-kerning:none">30</text>
<text transform="translate(496.47 374.8) scale(1 1.045)" font-size="21.6" font-family="'Liberation Sans', sans-serif" fill="#000" style="white-space:pre;font-kerning:none">35</text>
<text transform="translate(558.69 374.8) scale(1 1.045)" font-size="21.6" font-family="'Liberation Sans', sans-serif" fill="#000" style="white-space:pre;font-kerning:none">40</text>
<text transform="translate(40.67 175.8) scale(1 1.045)" font-size="21.6" font-family="'Liberation Sans', sans-serif" fill="#000" style="white-space:pre;font-kerning:none">0.05</text>
<text transform="translate(56.03 71.55) scale(1 1.045)" font-size="21.6" font-family="'Liberation Sans', sans-serif" fill="#000" style="white-space:pre;font-kerning:none">0. </text>
<path transform="translate(74.05 71.55) scale(21.600 -22.572)" d="M.359 0V.703H.29C.266 .632 .205 .588 .101 .574V.503C.172 .511 .232 .535 .268 .566V0Z" fill="#000"/>
<text transform="translate(52.72 351.59) scale(1 1.045)" font-size="21.6" font-family="'Liberation Sans', sans-serif" fill="#000" style="white-space:pre;font-kerning:none">0.6</text>
<text transform="translate(52.71 327.16) scale(1 1.045)" font-size="21.6" font-family="'Liberation Sans', sans-serif" fill="#000" style="white-space:pre;font-kerning:none">0.8</text>
<text transform="translate(74.05 303.63) scale(1 1.045)" font-size="21.6" font-family="'Liberation Sans', sans-serif" fill="#000" style="white-space:pre;font-kerning:none"> </text>
<path transform="translate(74.05 303.63) scale(21.600 -22.572)" d="M.359 0V.703H.29C.266 .632 .205 .588 .101 .574V.503C.172 .511 .232 .535 .268 .566V0Z" fill="#000"/>
<text transform="translate(378.84 410.6) scale(1 1.045)" font-size="21.4" font-family="'Liberation Sans', sans-serif" fill="#000" style="white-space:pre;font-kerning:none">Leading-jet p</text>
<text transform="translate(502.58 422.6) scale(1 1.045)" font-size="15.2" font-family="'Liberation Sans', sans-serif" fill="#000" style="white-space:pre;font-kerning:none">T</text>
<text transform="translate(511.87 410.6) scale(1 1.045)" font-size="21.4" font-family="'Liberation Sans', sans-serif" fill="#000" style="white-space:pre;font-kerning:none"> [GeV]</text>
<text transform="translate(24.9 270.9) rotate(-90) scale(1 1.045)" font-size="21.45" text-anchor="end" font-family="'Liberation Sans', sans-serif">MC/Data</text>
<path d="M6.4 143.2 L16.4 149 L26.4 143.2" stroke="#000" fill="none" stroke-width="1.2"/>
<path d="M6.4 77.4 L16.4 71.7 L26.4 77.4" stroke="#000" fill="none" stroke-width="1.2"/>
<text transform="translate(22 136.3) rotate(-90) scale(1 1.045)" font-size="21" font-family="'Liberation Sans', sans-serif">N(K</text>
<text transform="translate(10.8 99.8) rotate(-90) scale(1 1.045)" font-size="14.5" font-family="'Liberation Sans', sans-serif">0</text>
<text transform="translate(34 100.1) rotate(-90) scale(1 1.045)" font-size="15" font-family="'Liberation Sans', sans-serif">S</text>
<text transform="translate(22 90.8) rotate(-90) scale(1 1.045)" font-size="21" font-family="'Liberation Sans', sans-serif">)</text>
<text transform="translate(22 66.1) rotate(-90) scale(1 1.045)" font-size="21" font-family="'Liberation Sans', sans-serif">/</text>
<text transform="translate(22 52.4) rotate(-90) scale(1 1.045)" font-size="22" font-family="'Liberation Serif', serif">&#948;&#951;</text>
<text transform="translate(22 23.63) rotate(-90) scale(1 1.045)" font-size="22" font-family="'Liberation Serif', serif">&#948;&#981;</text>
<rect x="110.8" y="15" width="82.5" height="12.6" fill="#cccccc"/>
<line x1="110.8" y1="21.3" x2="193.3" y2="21.3" stroke="#000" stroke-width="1.7"/>
<circle cx="152" cy="21.3" r="5.8" fill="#000"/>
<line x1="110.8" y1="39.1" x2="193.3" y2="39.1" stroke="#0b46a8" stroke-width="3"/>
<line x1="110.8" y1="57" x2="193.3" y2="57" stroke="#66cc00" stroke-width="3.3" stroke-dasharray="3.3 3.13"/>
<line x1="110.8" y1="74.7" x2="193.3" y2="74.7" stroke="#d4174a" stroke-width="3.8" stroke-dasharray="1.45 1.75"/>
<text transform="translate(211.2 25) scale(1 1.045)" font-size="16.9" font-family="'Liberation Sans', sans-serif" fill="#000" style="white-space:pre;font-kerning:none">Data</text>
<text transform="translate(211.2 42.8) scale(1 1.045)" font-size="16.9" font-family="'Liberation Sans', sans-serif" fill="#000" style="white-space:pre;font-kerning:none">EPOS-LHC</text>
<text transform="translate(211.2 60.5) scale(1 1.045)" font-size="16.9" font-family="'Liberation Sans', sans-serif" fill="#000" style="white-space:pre;font-kerning:none">PY8-A2</text>
<text transform="translate(211.2 78.3) scale(1 1.045)" font-size="16.9" font-family="'Liberation Sans', sans-serif" fill="#000" style="white-space:pre;font-kerning:none">PY8-MONASH+CR</text>
<path d="M214.85 222.25 L217.65 234.35 L220.75 215.95 L233.45 215.95" stroke="#000" fill="none" stroke-width="1.1" stroke-linejoin="miter"/>
<path d="M215.15 222.55 L217.65 233.95" stroke="#000" fill="none" stroke-width="2"/>
<text transform="translate(223.45 234.25) scale(1 1.045)" font-size="21.3" font-family="'Liberation Sans', sans-serif" fill="#000" style="white-space:pre;font-kerning:none">s= 3 TeV</text>
<path transform="translate(246.54 234.25) scale(21.300 -22.258)" d="M.359 0V.703H.29C.266 .632 .205 .588 .101 .574V.503C.172 .511 .232 .535 .268 .566V0Z" fill="#000"/>
<text transform="translate(211.65 257.45) scale(1 1.045)" font-size="21.3" font-family="'Liberation Sans', sans-serif" fill="#000" style="white-space:pre;font-kerning:none">67x 0</text>
<path transform="translate(245.99 257.45) scale(21.300 -22.258)" d="M.359 0V.703H.29C.266 .632 .205 .588 .101 .574V.503C.172 .511 .232 .535 .268 .566V0Z" fill="#000"/>
<text transform="translate(269.68 247.75) scale(1 1.045)" font-size="14.8" font-family="'Liberation Sans', sans-serif" fill="#000" style="white-space:pre;font-kerning:none">6</text>
<text transform="translate(277.92 257.45) scale(1 1.045)" font-size="21.3" font-family="'Liberation Sans', sans-serif" fill="#000" style="white-space:pre;font-kerning:none"> Events</text>
<text transform="translate(363.85 234.35) scale(1 1.045)" font-size="21.7" font-family="'Liberation Sans', sans-serif" font-weight="bold" font-style="italic" fill="#000" style="white-space:pre;font-kerning:none">ATLAS</text>
<text transform="translate(363.85 257.45) scale(1 1.045)" font-size="21.65" font-family="'Liberation Sans', sans-serif" fill="#000" style="white-space:pre;font-kerning:none">Away Region</text>
<text x="290.6" y="462.1" font-size="24" text-anchor="middle" font-family="'Liberation Serif', serif">(a)</text>
<clipPath id="cmb"><rect x="694.2" y="1.3" width="485.5" height="269.5"/></clipPath>
<clipPath id="crb"><rect x="694.2" y="270.8" width="485.5" height="85.3"/></clipPath>
<g clip-path="url(#cmb)">
<rect x="694.2" y="64.17" width="6.22" height="30.25" fill="#cccccc"/>
<rect x="700.42" y="83.68" width="6.22" height="25.85" fill="#cccccc"/>
<rect x="706.65" y="96.72" width="6.22" height="16.56" fill="#cccccc"/>
<rect x="712.87" y="104.38" width="6.22" height="14.04" fill="#cccccc"/>
<rect x="719.1" y="108.21" width="6.22" height="13.78" fill="#cccccc"/>
<rect x="725.32" y="110.59" width="6.22" height="13.62" fill="#cccccc"/>
<rect x="731.55" y="112.04" width="6.22" height="13.52" fill="#cccccc"/>
<rect x="737.77" y="114.42" width="6.22" height="13.36" fill="#cccccc"/>
<rect x="743.99" y="115.87" width="6.22" height="13.27" fill="#cccccc"/>
<rect x="750.22" y="117.73" width="6.22" height="13.14" fill="#cccccc"/>
<rect x="756.44" y="120.11" width="6.22" height="12.98" fill="#cccccc"/>
<rect x="762.67" y="121.97" width="6.22" height="12.85" fill="#cccccc"/>
<rect x="768.89" y="121.97" width="6.22" height="12.85" fill="#cccccc"/>
<rect x="775.12" y="123.01" width="6.22" height="12.78" fill="#cccccc"/>
<rect x="781.34" y="126.01" width="12.45" height="12.58" fill="#cccccc"/>
<rect x="793.79" y="129.12" width="12.45" height="12.37" fill="#cccccc"/>
<rect x="806.24" y="126.74" width="12.45" height="12.53" fill="#cccccc"/>
<rect x="818.69" y="131.39" width="12.45" height="12.22" fill="#cccccc"/>
<rect x="831.14" y="134.5" width="12.45" height="12" fill="#cccccc"/>
<rect x="843.58" y="136.05" width="12.45" height="11.9" fill="#cccccc"/>
<rect x="856.03" y="134.5" width="24.9" height="12" fill="#cccccc"/>
<rect x="880.93" y="138.33" width="24.9" height="11.75" fill="#cccccc"/>
<rect x="905.83" y="141.25" width="24.9" height="12.5" fill="#cccccc"/>
<rect x="930.73" y="141.56" width="62.24" height="12.48" fill="#cccccc"/>
<rect x="992.97" y="140.12" width="62.24" height="16.37" fill="#cccccc"/>
<rect x="1055.21" y="138.5" width="62.24" height="24.81" fill="#cccccc"/>
<rect x="1117.46" y="145.91" width="62.24" height="29.37" fill="#cccccc"/>
</g>
<line x1="694.2" y1="79.3" x2="700.42" y2="79.3" stroke="#000" stroke-width="1.7"/>
<line x1="700.42" y1="96.6" x2="706.65" y2="96.6" stroke="#000" stroke-width="1.7"/>
<line x1="706.65" y1="105" x2="712.87" y2="105" stroke="#000" stroke-width="1.7"/>
<line x1="712.87" y1="111.4" x2="719.1" y2="111.4" stroke="#000" stroke-width="1.7"/>
<line x1="719.1" y1="115.1" x2="725.32" y2="115.1" stroke="#000" stroke-width="1.7"/>
<line x1="725.32" y1="117.4" x2="731.55" y2="117.4" stroke="#000" stroke-width="1.7"/>
<line x1="731.55" y1="118.8" x2="737.77" y2="118.8" stroke="#000" stroke-width="1.7"/>
<line x1="737.77" y1="121.1" x2="743.99" y2="121.1" stroke="#000" stroke-width="1.7"/>
<line x1="743.99" y1="122.5" x2="750.22" y2="122.5" stroke="#000" stroke-width="1.7"/>
<line x1="750.22" y1="124.3" x2="756.44" y2="124.3" stroke="#000" stroke-width="1.7"/>
<line x1="756.44" y1="126.6" x2="762.67" y2="126.6" stroke="#000" stroke-width="1.7"/>
<line x1="762.67" y1="128.4" x2="768.89" y2="128.4" stroke="#000" stroke-width="1.7"/>
<line x1="768.89" y1="128.4" x2="775.12" y2="128.4" stroke="#000" stroke-width="1.7"/>
<line x1="775.12" y1="129.4" x2="781.34" y2="129.4" stroke="#000" stroke-width="1.7"/>
<line x1="781.34" y1="132.3" x2="793.79" y2="132.3" stroke="#000" stroke-width="1.7"/>
<line x1="793.79" y1="135.3" x2="806.24" y2="135.3" stroke="#000" stroke-width="1.7"/>
<line x1="806.24" y1="133" x2="818.69" y2="133" stroke="#000" stroke-width="1.7"/>
<line x1="818.69" y1="137.5" x2="831.14" y2="137.5" stroke="#000" stroke-width="1.7"/>
<line x1="831.14" y1="140.5" x2="843.58" y2="140.5" stroke="#000" stroke-width="1.7"/>
<line x1="843.58" y1="142" x2="856.03" y2="142" stroke="#000" stroke-width="1.7"/>
<line x1="856.03" y1="140.5" x2="880.93" y2="140.5" stroke="#000" stroke-width="1.7"/>
<line x1="880.93" y1="144.2" x2="905.83" y2="144.2" stroke="#000" stroke-width="1.7"/>
<line x1="905.83" y1="147.5" x2="930.73" y2="147.5" stroke="#000" stroke-width="1.7"/>
<line x1="930.73" y1="147.8" x2="992.97" y2="147.8" stroke="#000" stroke-width="1.7"/>
<line x1="992.97" y1="148.3" x2="1055.21" y2="148.3" stroke="#000" stroke-width="1.7"/>
<line x1="1055.21" y1="150.9" x2="1117.46" y2="150.9" stroke="#000" stroke-width="1.7"/>
<line x1="1086.33" y1="144.46" x2="1086.33" y2="157.34" stroke="#000" stroke-width="1.7"/>
<line x1="1117.46" y1="160.6" x2="1179.7" y2="160.6" stroke="#000" stroke-width="1.7"/>
<line x1="1148.58" y1="151.21" x2="1148.58" y2="169.99" stroke="#000" stroke-width="1.7"/>
<circle cx="697.31" cy="79.3" r="5.8" fill="#000"/>
<circle cx="703.54" cy="96.6" r="5.8" fill="#000"/>
<circle cx="709.76" cy="105" r="5.8" fill="#000"/>
<circle cx="715.99" cy="111.4" r="5.8" fill="#000"/>
<circle cx="722.21" cy="115.1" r="5.8" fill="#000"/>
<circle cx="728.43" cy="117.4" r="5.8" fill="#000"/>
<circle cx="734.66" cy="118.8" r="5.8" fill="#000"/>
<circle cx="740.88" cy="121.1" r="5.8" fill="#000"/>
<circle cx="747.11" cy="122.5" r="5.8" fill="#000"/>
<circle cx="753.33" cy="124.3" r="5.8" fill="#000"/>
<circle cx="759.56" cy="126.6" r="5.8" fill="#000"/>
<circle cx="765.78" cy="128.4" r="5.8" fill="#000"/>
<circle cx="772" cy="128.4" r="5.8" fill="#000"/>
<circle cx="778.23" cy="129.4" r="5.8" fill="#000"/>
<circle cx="787.57" cy="132.3" r="5.8" fill="#000"/>
<circle cx="800.01" cy="135.3" r="5.8" fill="#000"/>
<circle cx="812.46" cy="133" r="5.8" fill="#000"/>
<circle cx="824.91" cy="137.5" r="5.8" fill="#000"/>
<circle cx="837.36" cy="140.5" r="5.8" fill="#000"/>
<circle cx="849.81" cy="142" r="5.8" fill="#000"/>
<circle cx="868.48" cy="140.5" r="5.8" fill="#000"/>
<circle cx="893.38" cy="144.2" r="5.8" fill="#000"/>
<circle cx="918.28" cy="147.5" r="5.8" fill="#000"/>
<circle cx="961.85" cy="147.8" r="5.8" fill="#000"/>
<circle cx="1024.09" cy="148.3" r="5.8" fill="#000"/>
<circle cx="1086.33" cy="150.9" r="5.8" fill="#000"/>
<circle cx="1148.58" cy="160.6" r="5.8" fill="#000"/>
<g clip-path="url(#cmb)">
<path d="M697.31 119.3H694.2M697.31 119.3H700.42" stroke="#0b46a8" stroke-width="3" fill="none"/>
<path d="M703.54 131.5H700.42M703.54 131.5H706.65" stroke="#0b46a8" stroke-width="3" fill="none"/>
<path d="M709.76 135.1H706.65M709.76 135.1H712.87" stroke="#0b46a8" stroke-width="3" fill="none"/>
<path d="M715.99 137.6H712.87M715.99 137.6H719.1" stroke="#0b46a8" stroke-width="3" fill="none"/>
<path d="M722.21 139.7H719.1M722.21 139.7H725.32" stroke="#0b46a8" stroke-width="3" fill="none"/>
<path d="M728.43 140.7H725.32M728.43 140.7H731.55" stroke="#0b46a8" stroke-width="3" fill="none"/>
<path d="M734.66 141.6H731.55M734.66 141.6H737.77" stroke="#0b46a8" stroke-width="3" fill="none"/>
<path d="M740.88 142.5H737.77M740.88 142.5H743.99" stroke="#0b46a8" stroke-width="3" fill="none"/>
<path d="M747.11 143.1H743.99M747.11 143.1H750.22" stroke="#0b46a8" stroke-width="3" fill="none"/>
<path d="M753.33 143.8H750.22M753.33 143.8H756.44" stroke="#0b46a8" stroke-width="3" fill="none"/>
<path d="M759.56 144.1H756.44M759.56 144.1H762.67" stroke="#0b46a8" stroke-width="3" fill="none"/>
<path d="M765.78 144.1H762.67M765.78 144.1H768.89" stroke="#0b46a8" stroke-width="3" fill="none"/>
<path d="M772 145.2H768.89M772 145.2H775.12" stroke="#0b46a8" stroke-width="3" fill="none"/>
<path d="M778.23 145.4H775.12M778.23 145.4H781.34" stroke="#0b46a8" stroke-width="3" fill="none"/>
<path d="M787.57 147H781.34M787.57 147H793.79" stroke="#0b46a8" stroke-width="3" fill="none"/>
<path d="M800.01 148H793.79M800.01 148H806.24" stroke="#0b46a8" stroke-width="3" fill="none"/>
<path d="M812.46 148.5H806.24M812.46 148.5H818.69" stroke="#0b46a8" stroke-width="3" fill="none"/>
<path d="M824.91 151.3H818.69M824.91 151.3H831.14" stroke="#0b46a8" stroke-width="3" fill="none"/>
<path d="M837.36 150H831.14M837.36 150H843.58" stroke="#0b46a8" stroke-width="3" fill="none"/>
<path d="M849.81 150.3H843.58M849.81 150.3H856.03" stroke="#0b46a8" stroke-width="3" fill="none"/>
<path d="M868.48 151.2H856.03M868.48 151.2H880.93" stroke="#0b46a8" stroke-width="3" fill="none"/>
<path d="M893.38 154.3H880.93M893.38 154.3H905.83" stroke="#0b46a8" stroke-width="3" fill="none"/>
<path d="M918.28 156H905.83M918.28 156H930.73" stroke="#0b46a8" stroke-width="3" fill="none"/>
<path d="M961.85 157.9H930.73M961.85 157.9H992.97" stroke="#0b46a8" stroke-width="3" fill="none"/>
<path d="M1024.09 156.9H992.97M1024.09 156.9H1055.21M1024.09 156.9V153.95M1024.09 156.9V159.85" stroke="#0b46a8" stroke-width="3" fill="none"/>
<path d="M1086.33 165.3H1055.21M1086.33 165.3H1117.46M1086.33 165.3V161.78M1086.33 165.3V168.82" stroke="#0b46a8" stroke-width="3" fill="none"/>
<path d="M1148.58 167.1H1117.46M1148.58 167.1H1179.7M1148.58 167.1V162.75M1148.58 167.1V171.45" stroke="#0b46a8" stroke-width="3" fill="none"/>
</g>
<g clip-path="url(#cmb)">
<path d="M697.31 148.2H694.2M697.31 148.2H700.42" stroke="#66cc00" stroke-width="3.2" fill="none" stroke-dasharray="3.3 3.13"/>
<path d="M703.54 158.1H700.42M703.54 158.1H706.65" stroke="#66cc00" stroke-width="3.2" fill="none" stroke-dasharray="3.3 3.13"/>
<path d="M709.76 162.1H706.65M709.76 162.1H712.87" stroke="#66cc00" stroke-width="3.2" fill="none" stroke-dasharray="3.3 3.13"/>
<path d="M715.99 166.6H712.87M715.99 166.6H719.1" stroke="#66cc00" stroke-width="3.2" fill="none" stroke-dasharray="3.3 3.13"/>
<path d="M722.21 169.5H719.1M722.21 169.5H725.32" stroke="#66cc00" stroke-width="3.2" fill="none" stroke-dasharray="3.3 3.13"/>
<path d="M728.43 170.7H725.32M728.43 170.7H731.55" stroke="#66cc00" stroke-width="3.2" fill="none" stroke-dasharray="3.3 3.13"/>
<path d="M734.66 172.8H731.55M734.66 172.8H737.77" stroke="#66cc00" stroke-width="3.2" fill="none" stroke-dasharray="3.3 3.13"/>
<path d="M740.88 174.6H737.77M740.88 174.6H743.99" stroke="#66cc00" stroke-width="3.2" fill="none" stroke-dasharray="3.3 3.13"/>
<path d="M747.11 175.9H743.99M747.11 175.9H750.22" stroke="#66cc00" stroke-width="3.2" fill="none" stroke-dasharray="3.3 3.13"/>
<path d="M753.33 176.5H750.22M753.33 176.5H756.44" stroke="#66cc00" stroke-width="3.2" fill="none" stroke-dasharray="3.3 3.13"/>
<path d="M759.56 176.7H756.44M759.56 176.7H762.67" stroke="#66cc00" stroke-width="3.2" fill="none" stroke-dasharray="3.3 3.13"/>
<path d="M765.78 176.7H762.67M765.78 176.7H768.89" stroke="#66cc00" stroke-width="3.2" fill="none" stroke-dasharray="3.3 3.13"/>
<path d="M772 178.5H768.89M772 178.5H775.12" stroke="#66cc00" stroke-width="3.2" fill="none" stroke-dasharray="3.3 3.13"/>
<path d="M778.23 178.7H775.12M778.23 178.7H781.34" stroke="#66cc00" stroke-width="3.2" fill="none" stroke-dasharray="3.3 3.13"/>
<path d="M787.57 178.8H781.34M787.57 178.8H793.79" stroke="#66cc00" stroke-width="3.2" fill="none" stroke-dasharray="3.3 3.13"/>
<path d="M800.01 179.3H793.79M800.01 179.3H806.24" stroke="#66cc00" stroke-width="3.2" fill="none" stroke-dasharray="3.3 3.13"/>
<path d="M812.46 181.2H806.24M812.46 181.2H818.69" stroke="#66cc00" stroke-width="3.2" fill="none" stroke-dasharray="3.3 3.13"/>
<path d="M824.91 180.2H818.69M824.91 180.2H831.14" stroke="#66cc00" stroke-width="3.2" fill="none" stroke-dasharray="3.3 3.13"/>
<path d="M837.36 181.7H831.14M837.36 181.7H843.58" stroke="#66cc00" stroke-width="3.2" fill="none" stroke-dasharray="3.3 3.13"/>
<path d="M849.81 183.3H843.58M849.81 183.3H856.03" stroke="#66cc00" stroke-width="3.2" fill="none" stroke-dasharray="3.3 3.13"/>
<path d="M868.48 182.8H856.03M868.48 182.8H880.93" stroke="#66cc00" stroke-width="3.2" fill="none" stroke-dasharray="3.3 3.13"/>
<path d="M893.38 183.7H880.93M893.38 183.7H905.83" stroke="#66cc00" stroke-width="3.2" fill="none" stroke-dasharray="3.3 3.13"/>
<path d="M918.28 183H905.83M918.28 183H930.73" stroke="#66cc00" stroke-width="3.2" fill="none" stroke-dasharray="3.3 3.13"/>
<path d="M961.85 184.5H930.73M961.85 184.5H992.97" stroke="#66cc00" stroke-width="3.2" fill="none" stroke-dasharray="3.3 3.13"/>
<path d="M1024.09 188.3H992.97M1024.09 188.3H1055.21M1024.09 188.3V185.95M1024.09 188.3V190.65" stroke="#66cc00" stroke-width="3.2" fill="none" stroke-dasharray="3.3 3.13"/>
<path d="M1086.33 195.3H1055.21M1086.33 195.3H1117.46M1086.33 195.3V192.5M1086.33 195.3V198.1" stroke="#66cc00" stroke-width="3.2" fill="none" stroke-dasharray="3.3 3.13"/>
<path d="M1148.58 189.7H1117.46M1148.58 189.7H1179.7M1148.58 189.7V186.4M1148.58 189.7V193" stroke="#66cc00" stroke-width="3.2" fill="none" stroke-dasharray="3.3 3.13"/>
</g>
<g clip-path="url(#cmb)">
<path d="M697.31 144.1H694.2M697.31 144.1H700.42" stroke="#d4174a" stroke-width="3.8" fill="none" stroke-dasharray="1.45 1.75"/>
<circle cx="697.31" cy="144.1" r="1.65" fill="#d4174a"/>
<path d="M703.54 152.8H700.42M703.54 152.8H706.65" stroke="#d4174a" stroke-width="3.8" fill="none" stroke-dasharray="1.45 1.75"/>
<circle cx="703.54" cy="152.8" r="1.65" fill="#d4174a"/>
<path d="M709.76 156H706.65M709.76 156H712.87" stroke="#d4174a" stroke-width="3.8" fill="none" stroke-dasharray="1.45 1.75"/>
<circle cx="709.76" cy="156" r="1.65" fill="#d4174a"/>
<path d="M715.99 158.8H712.87M715.99 158.8H719.1" stroke="#d4174a" stroke-width="3.8" fill="none" stroke-dasharray="1.45 1.75"/>
<circle cx="715.99" cy="158.8" r="1.65" fill="#d4174a"/>
<path d="M722.21 160.4H719.1M722.21 160.4H725.32" stroke="#d4174a" stroke-width="3.8" fill="none" stroke-dasharray="1.45 1.75"/>
<circle cx="722.21" cy="160.4" r="1.65" fill="#d4174a"/>
<path d="M728.43 161.5H725.32M728.43 161.5H731.55" stroke="#d4174a" stroke-width="3.8" fill="none" stroke-dasharray="1.45 1.75"/>
<circle cx="728.43" cy="161.5" r="1.65" fill="#d4174a"/>
<path d="M734.66 162.2H731.55M734.66 162.2H737.77" stroke="#d4174a" stroke-width="3.8" fill="none" stroke-dasharray="1.45 1.75"/>
<circle cx="734.66" cy="162.2" r="1.65" fill="#d4174a"/>
<path d="M740.88 163.3H737.77M740.88 163.3H743.99" stroke="#d4174a" stroke-width="3.8" fill="none" stroke-dasharray="1.45 1.75"/>
<circle cx="740.88" cy="163.3" r="1.65" fill="#d4174a"/>
<path d="M747.11 163.6H743.99M747.11 163.6H750.22" stroke="#d4174a" stroke-width="3.8" fill="none" stroke-dasharray="1.45 1.75"/>
<circle cx="747.11" cy="163.6" r="1.65" fill="#d4174a"/>
<path d="M753.33 164.5H750.22M753.33 164.5H756.44" stroke="#d4174a" stroke-width="3.8" fill="none" stroke-dasharray="1.45 1.75"/>
<circle cx="753.33" cy="164.5" r="1.65" fill="#d4174a"/>
<path d="M759.56 164.7H756.44M759.56 164.7H762.67" stroke="#d4174a" stroke-width="3.8" fill="none" stroke-dasharray="1.45 1.75"/>
<circle cx="759.56" cy="164.7" r="1.65" fill="#d4174a"/>
<path d="M765.78 164.7H762.67M765.78 164.7H768.89" stroke="#d4174a" stroke-width="3.8" fill="none" stroke-dasharray="1.45 1.75"/>
<circle cx="765.78" cy="164.7" r="1.65" fill="#d4174a"/>
<path d="M772 164.7H768.89M772 164.7H775.12" stroke="#d4174a" stroke-width="3.8" fill="none" stroke-dasharray="1.45 1.75"/>
<circle cx="772" cy="164.7" r="1.65" fill="#d4174a"/>
<path d="M778.23 165.2H775.12M778.23 165.2H781.34" stroke="#d4174a" stroke-width="3.8" fill="none" stroke-dasharray="1.45 1.75"/>
<circle cx="778.23" cy="165.2" r="1.65" fill="#d4174a"/>
<path d="M787.57 165.5H781.34M787.57 165.5H793.79" stroke="#d4174a" stroke-width="3.8" fill="none" stroke-dasharray="1.45 1.75"/>
<circle cx="787.57" cy="165.5" r="1.65" fill="#d4174a"/>
<path d="M800.01 165.4H793.79M800.01 165.4H806.24" stroke="#d4174a" stroke-width="3.8" fill="none" stroke-dasharray="1.45 1.75"/>
<circle cx="800.01" cy="165.4" r="1.65" fill="#d4174a"/>
<path d="M812.46 165.3H806.24M812.46 165.3H818.69" stroke="#d4174a" stroke-width="3.8" fill="none" stroke-dasharray="1.45 1.75"/>
<circle cx="812.46" cy="165.3" r="1.65" fill="#d4174a"/>
<path d="M824.91 166H818.69M824.91 166H831.14" stroke="#d4174a" stroke-width="3.8" fill="none" stroke-dasharray="1.45 1.75"/>
<circle cx="824.91" cy="166" r="1.65" fill="#d4174a"/>
<path d="M837.36 166.2H831.14M837.36 166.2H843.58" stroke="#d4174a" stroke-width="3.8" fill="none" stroke-dasharray="1.45 1.75"/>
<circle cx="837.36" cy="166.2" r="1.65" fill="#d4174a"/>
<path d="M849.81 167.2H843.58M849.81 167.2H856.03" stroke="#d4174a" stroke-width="3.8" fill="none" stroke-dasharray="1.45 1.75"/>
<circle cx="849.81" cy="167.2" r="1.65" fill="#d4174a"/>
<path d="M868.48 167.2H856.03M868.48 167.2H880.93" stroke="#d4174a" stroke-width="3.8" fill="none" stroke-dasharray="1.45 1.75"/>
<circle cx="868.48" cy="167.2" r="1.65" fill="#d4174a"/>
<path d="M893.38 166.2H880.93M893.38 166.2H905.83" stroke="#d4174a" stroke-width="3.8" fill="none" stroke-dasharray="1.45 1.75"/>
<circle cx="893.38" cy="166.2" r="1.65" fill="#d4174a"/>
<path d="M918.28 168.3H905.83M918.28 168.3H930.73" stroke="#d4174a" stroke-width="3.8" fill="none" stroke-dasharray="1.45 1.75"/>
<circle cx="918.28" cy="168.3" r="1.65" fill="#d4174a"/>
<path d="M961.85 169.2H930.73M961.85 169.2H992.97" stroke="#d4174a" stroke-width="3.8" fill="none" stroke-dasharray="1.45 1.75"/>
<circle cx="961.85" cy="169.2" r="1.65" fill="#d4174a"/>
<path d="M1024.09 170.5H992.97M1024.09 170.5H1055.21" stroke="#d4174a" stroke-width="3.8" fill="none" stroke-dasharray="1.45 1.75"/>
<circle cx="1024.09" cy="170.5" r="1.65" fill="#d4174a"/>
<path d="M1086.33 171.7H1055.21M1086.33 171.7H1117.46" stroke="#d4174a" stroke-width="3.8" fill="none" stroke-dasharray="1.45 1.75"/>
<circle cx="1086.33" cy="171.7" r="1.65" fill="#d4174a"/>
<path d="M1148.58 171.4H1117.46M1148.58 171.4H1179.7" stroke="#d4174a" stroke-width="3.8" fill="none" stroke-dasharray="1.45 1.75"/>
<circle cx="1148.58" cy="171.4" r="1.65" fill="#d4174a"/>
</g>
<g clip-path="url(#crb)">
<rect x="694.2" y="299.44" width="6.22" height="15.84" fill="#cccccc"/>
<rect x="700.42" y="300.05" width="6.22" height="14.62" fill="#cccccc"/>
<rect x="706.65" y="302.48" width="6.22" height="9.75" fill="#cccccc"/>
<rect x="712.87" y="303.09" width="6.22" height="8.53" fill="#cccccc"/>
<rect x="719.1" y="303.09" width="6.22" height="8.53" fill="#cccccc"/>
<rect x="725.32" y="303.09" width="6.22" height="8.53" fill="#cccccc"/>
<rect x="731.55" y="303.09" width="6.22" height="8.53" fill="#cccccc"/>
<rect x="737.77" y="303.09" width="6.22" height="8.53" fill="#cccccc"/>
<rect x="743.99" y="303.09" width="6.22" height="8.53" fill="#cccccc"/>
<rect x="750.22" y="303.09" width="6.22" height="8.53" fill="#cccccc"/>
<rect x="756.44" y="303.09" width="6.22" height="8.53" fill="#cccccc"/>
<rect x="762.67" y="303.09" width="6.22" height="8.53" fill="#cccccc"/>
<rect x="768.89" y="303.09" width="6.22" height="8.53" fill="#cccccc"/>
<rect x="775.12" y="303.09" width="6.22" height="8.53" fill="#cccccc"/>
<rect x="781.34" y="303.09" width="12.45" height="8.53" fill="#cccccc"/>
<rect x="793.79" y="303.09" width="12.45" height="8.53" fill="#cccccc"/>
<rect x="806.24" y="303.09" width="12.45" height="8.53" fill="#cccccc"/>
<rect x="818.69" y="303.09" width="12.45" height="8.53" fill="#cccccc"/>
<rect x="831.14" y="303.09" width="12.45" height="8.53" fill="#cccccc"/>
<rect x="843.58" y="303.09" width="12.45" height="8.53" fill="#cccccc"/>
<rect x="856.03" y="303.09" width="24.9" height="8.53" fill="#cccccc"/>
<rect x="880.93" y="303.09" width="24.9" height="8.53" fill="#cccccc"/>
<rect x="905.83" y="302.73" width="24.9" height="9.26" fill="#cccccc"/>
<rect x="930.73" y="302.73" width="62.24" height="9.26" fill="#cccccc"/>
<rect x="992.97" y="301.26" width="62.24" height="12.19" fill="#cccccc"/>
<rect x="1055.21" y="297.97" width="62.24" height="18.77" fill="#cccccc"/>
<rect x="1117.46" y="295.54" width="62.24" height="23.64" fill="#cccccc"/>
</g>
<line x1="694.2" y1="307.36" x2="700.42" y2="307.36" stroke="#000" stroke-width="1.7"/>
<line x1="700.42" y1="307.36" x2="706.65" y2="307.36" stroke="#000" stroke-width="1.7"/>
<line x1="706.65" y1="307.36" x2="712.87" y2="307.36" stroke="#000" stroke-width="1.7"/>
<line x1="712.87" y1="307.36" x2="719.1" y2="307.36" stroke="#000" stroke-width="1.7"/>
<line x1="719.1" y1="307.36" x2="725.32" y2="307.36" stroke="#000" stroke-width="1.7"/>
<line x1="725.32" y1="307.36" x2="731.55" y2="307.36" stroke="#000" stroke-width="1.7"/>
<line x1="731.55" y1="307.36" x2="737.77" y2="307.36" stroke="#000" stroke-width="1.7"/>
<line x1="737.77" y1="307.36" x2="743.99" y2="307.36" stroke="#000" stroke-width="1.7"/>
<line x1="743.99" y1="307.36" x2="750.22" y2="307.36" stroke="#000" stroke-width="1.7"/>
<line x1="750.22" y1="307.36" x2="756.44" y2="307.36" stroke="#000" stroke-width="1.7"/>
<line x1="756.44" y1="307.36" x2="762.67" y2="307.36" stroke="#000" stroke-width="1.7"/>
<line x1="762.67" y1="307.36" x2="768.89" y2="307.36" stroke="#000" stroke-width="1.7"/>
<line x1="768.89" y1="307.36" x2="775.12" y2="307.36" stroke="#000" stroke-width="1.7"/>
<line x1="775.12" y1="307.36" x2="781.34" y2="307.36" stroke="#000" stroke-width="1.7"/>
<line x1="781.34" y1="307.36" x2="793.79" y2="307.36" stroke="#000" stroke-width="1.7"/>
<line x1="793.79" y1="307.36" x2="806.24" y2="307.36" stroke="#000" stroke-width="1.7"/>
<line x1="806.24" y1="307.36" x2="818.69" y2="307.36" stroke="#000" stroke-width="1.7"/>
<line x1="818.69" y1="307.36" x2="831.14" y2="307.36" stroke="#000" stroke-width="1.7"/>
<line x1="831.14" y1="307.36" x2="843.58" y2="307.36" stroke="#000" stroke-width="1.7"/>
<line x1="843.58" y1="307.36" x2="856.03" y2="307.36" stroke="#000" stroke-width="1.7"/>
<line x1="856.03" y1="307.36" x2="880.93" y2="307.36" stroke="#000" stroke-width="1.7"/>
<line x1="880.93" y1="307.36" x2="905.83" y2="307.36" stroke="#000" stroke-width="1.7"/>
<line x1="905.83" y1="307.36" x2="930.73" y2="307.36" stroke="#000" stroke-width="1.7"/>
<line x1="930.73" y1="307.36" x2="992.97" y2="307.36" stroke="#000" stroke-width="1.7"/>
<line x1="992.97" y1="307.36" x2="1055.21" y2="307.36" stroke="#000" stroke-width="1.7"/>
<line x1="1055.21" y1="307.36" x2="1117.46" y2="307.36" stroke="#000" stroke-width="1.7"/>
<line x1="1086.33" y1="302.48" x2="1086.33" y2="312.23" stroke="#000" stroke-width="1.7"/>
<line x1="1117.46" y1="307.36" x2="1179.7" y2="307.36" stroke="#000" stroke-width="1.7"/>
<line x1="1148.58" y1="299.8" x2="1148.58" y2="314.91" stroke="#000" stroke-width="1.7"/>
<circle cx="697.31" cy="307.36" r="5.8" fill="#000"/>
<circle cx="703.54" cy="307.36" r="5.8" fill="#000"/>
<circle cx="709.76" cy="307.36" r="5.8" fill="#000"/>
<circle cx="715.99" cy="307.36" r="5.8" fill="#000"/>
<circle cx="722.21" cy="307.36" r="5.8" fill="#000"/>
<circle cx="728.43" cy="307.36" r="5.8" fill="#000"/>
<circle cx="734.66" cy="307.36" r="5.8" fill="#000"/>
<circle cx="740.88" cy="307.36" r="5.8" fill="#000"/>
<circle cx="747.11" cy="307.36" r="5.8" fill="#000"/>
<circle cx="753.33" cy="307.36" r="5.8" fill="#000"/>
<circle cx="759.56" cy="307.36" r="5.8" fill="#000"/>
<circle cx="765.78" cy="307.36" r="5.8" fill="#000"/>
<circle cx="772" cy="307.36" r="5.8" fill="#000"/>
<circle cx="778.23" cy="307.36" r="5.8" fill="#000"/>
<circle cx="787.57" cy="307.36" r="5.8" fill="#000"/>
<circle cx="800.01" cy="307.36" r="5.8" fill="#000"/>
<circle cx="812.46" cy="307.36" r="5.8" fill="#000"/>
<circle cx="824.91" cy="307.36" r="5.8" fill="#000"/>
<circle cx="837.36" cy="307.36" r="5.8" fill="#000"/>
<circle cx="849.81" cy="307.36" r="5.8" fill="#000"/>
<circle cx="868.48" cy="307.36" r="5.8" fill="#000"/>
<circle cx="893.38" cy="307.36" r="5.8" fill="#000"/>
<circle cx="918.28" cy="307.36" r="5.8" fill="#000"/>
<circle cx="961.85" cy="307.36" r="5.8" fill="#000"/>
<circle cx="1024.09" cy="307.36" r="5.8" fill="#000"/>
<circle cx="1086.33" cy="307.36" r="5.8" fill="#000"/>
<circle cx="1148.58" cy="307.36" r="5.8" fill="#000"/>
<g clip-path="url(#crb)">
<path d="M697.31 328.3H694.2M697.31 328.3H700.42" stroke="#0b46a8" stroke-width="3" fill="none"/>
<path d="M703.54 327.1H700.42M703.54 327.1H706.65" stroke="#0b46a8" stroke-width="3" fill="none"/>
<path d="M709.76 325.08H706.65M709.76 325.08H712.87" stroke="#0b46a8" stroke-width="3" fill="none"/>
<path d="M715.99 323.27H712.87M715.99 323.27H719.1" stroke="#0b46a8" stroke-width="3" fill="none"/>
<path d="M722.21 322.58H719.1M722.21 322.58H725.32" stroke="#0b46a8" stroke-width="3" fill="none"/>
<path d="M728.43 321.95H725.32M728.43 321.95H731.55" stroke="#0b46a8" stroke-width="3" fill="none"/>
<path d="M734.66 321.74H731.55M734.66 321.74H737.77" stroke="#0b46a8" stroke-width="3" fill="none"/>
<path d="M740.88 321.02H737.77M740.88 321.02H743.99" stroke="#0b46a8" stroke-width="3" fill="none"/>
<path d="M747.11 320.6H743.99M747.11 320.6H750.22" stroke="#0b46a8" stroke-width="3" fill="none"/>
<path d="M753.33 320.02H750.22M753.33 320.02H756.44" stroke="#0b46a8" stroke-width="3" fill="none"/>
<path d="M759.56 318.86H756.44M759.56 318.86H762.67" stroke="#0b46a8" stroke-width="3" fill="none"/>
<path d="M765.78 317.78H762.67M765.78 317.78H768.89" stroke="#0b46a8" stroke-width="3" fill="none"/>
<path d="M772 318.51H768.89M772 318.51H775.12" stroke="#0b46a8" stroke-width="3" fill="none"/>
<path d="M778.23 318.03H775.12M778.23 318.03H781.34" stroke="#0b46a8" stroke-width="3" fill="none"/>
<path d="M787.57 317.33H781.34M787.57 317.33H793.79" stroke="#0b46a8" stroke-width="3" fill="none"/>
<path d="M800.01 316.12H793.79M800.01 316.12H806.24" stroke="#0b46a8" stroke-width="3" fill="none"/>
<path d="M812.46 317.91H806.24M812.46 317.91H818.69" stroke="#0b46a8" stroke-width="3" fill="none"/>
<path d="M824.91 316.99H818.69M824.91 316.99H831.14" stroke="#0b46a8" stroke-width="3" fill="none"/>
<path d="M837.36 314.11H831.14M837.36 314.11H843.58" stroke="#0b46a8" stroke-width="3" fill="none"/>
<path d="M849.81 313.31H843.58M849.81 313.31H856.03" stroke="#0b46a8" stroke-width="3" fill="none"/>
<path d="M868.48 314.96H856.03M868.48 314.96H880.93" stroke="#0b46a8" stroke-width="3" fill="none"/>
<path d="M893.38 314.69H880.93M893.38 314.69H905.83" stroke="#0b46a8" stroke-width="3" fill="none"/>
<path d="M918.28 313.65H905.83M918.28 313.65H930.73" stroke="#0b46a8" stroke-width="3" fill="none"/>
<path d="M961.85 314.85H930.73M961.85 314.85H992.97" stroke="#0b46a8" stroke-width="3" fill="none"/>
<path d="M1024.09 313.76H992.97M1024.09 313.76H1055.21M1024.09 313.76V311.57M1024.09 313.76V315.95" stroke="#0b46a8" stroke-width="3" fill="none"/>
<path d="M1086.33 318.25H1055.21M1086.33 318.25H1117.46M1086.33 318.25V315.59M1086.33 318.25V320.91" stroke="#0b46a8" stroke-width="3" fill="none"/>
<path d="M1148.58 312.59H1117.46M1148.58 312.59H1179.7M1148.58 312.59V309.09M1148.58 312.59V316.09" stroke="#0b46a8" stroke-width="3" fill="none"/>
</g>
<g clip-path="url(#crb)">
<path d="M697.31 343.44H694.2M697.31 343.44H700.42" stroke="#66cc00" stroke-width="3.2" fill="none" stroke-dasharray="3.3 3.13"/>
<path d="M703.54 342.15H700.42M703.54 342.15H706.65" stroke="#66cc00" stroke-width="3.2" fill="none" stroke-dasharray="3.3 3.13"/>
<path d="M709.76 340.97H706.65M709.76 340.97H712.87" stroke="#66cc00" stroke-width="3.2" fill="none" stroke-dasharray="3.3 3.13"/>
<path d="M715.99 340.89H712.87M715.99 340.89H719.1" stroke="#66cc00" stroke-width="3.2" fill="none" stroke-dasharray="3.3 3.13"/>
<path d="M722.21 341.02H719.1M722.21 341.02H725.32" stroke="#66cc00" stroke-width="3.2" fill="none" stroke-dasharray="3.3 3.13"/>
<path d="M728.43 340.73H725.32M728.43 340.73H731.55" stroke="#66cc00" stroke-width="3.2" fill="none" stroke-dasharray="3.3 3.13"/>
<path d="M734.66 341.42H731.55M734.66 341.42H737.77" stroke="#66cc00" stroke-width="3.2" fill="none" stroke-dasharray="3.3 3.13"/>
<path d="M740.88 341.51H737.77M740.88 341.51H743.99" stroke="#66cc00" stroke-width="3.2" fill="none" stroke-dasharray="3.3 3.13"/>
<path d="M747.11 341.7H743.99M747.11 341.7H750.22" stroke="#66cc00" stroke-width="3.2" fill="none" stroke-dasharray="3.3 3.13"/>
<path d="M753.33 341.25H750.22M753.33 341.25H756.44" stroke="#66cc00" stroke-width="3.2" fill="none" stroke-dasharray="3.3 3.13"/>
<path d="M759.56 340.29H756.44M759.56 340.29H762.67" stroke="#66cc00" stroke-width="3.2" fill="none" stroke-dasharray="3.3 3.13"/>
<path d="M765.78 339.41H762.67M765.78 339.41H768.89" stroke="#66cc00" stroke-width="3.2" fill="none" stroke-dasharray="3.3 3.13"/>
<path d="M772 340.61H768.89M772 340.61H775.12" stroke="#66cc00" stroke-width="3.2" fill="none" stroke-dasharray="3.3 3.13"/>
<path d="M778.23 340.26H775.12M778.23 340.26H781.34" stroke="#66cc00" stroke-width="3.2" fill="none" stroke-dasharray="3.3 3.13"/>
<path d="M787.57 338.89H781.34M787.57 338.89H793.79" stroke="#66cc00" stroke-width="3.2" fill="none" stroke-dasharray="3.3 3.13"/>
<path d="M800.01 337.7H793.79M800.01 337.7H806.24" stroke="#66cc00" stroke-width="3.2" fill="none" stroke-dasharray="3.3 3.13"/>
<path d="M812.46 340.17H806.24M812.46 340.17H818.69" stroke="#66cc00" stroke-width="3.2" fill="none" stroke-dasharray="3.3 3.13"/>
<path d="M824.91 337.18H818.69M824.91 337.18H831.14" stroke="#66cc00" stroke-width="3.2" fill="none" stroke-dasharray="3.3 3.13"/>
<path d="M837.36 336.63H831.14M837.36 336.63H843.58" stroke="#66cc00" stroke-width="3.2" fill="none" stroke-dasharray="3.3 3.13"/>
<path d="M849.81 336.96H843.58M849.81 336.96H856.03" stroke="#66cc00" stroke-width="3.2" fill="none" stroke-dasharray="3.3 3.13"/>
<path d="M868.48 337.41H856.03M868.48 337.41H880.93" stroke="#66cc00" stroke-width="3.2" fill="none" stroke-dasharray="3.3 3.13"/>
<path d="M893.38 336.04H880.93M893.38 336.04H905.83" stroke="#66cc00" stroke-width="3.2" fill="none" stroke-dasharray="3.3 3.13"/>
<path d="M918.28 333.65H905.83M918.28 333.65H930.73" stroke="#66cc00" stroke-width="3.2" fill="none" stroke-dasharray="3.3 3.13"/>
<path d="M961.85 334.59H930.73M961.85 334.59H992.97" stroke="#66cc00" stroke-width="3.2" fill="none" stroke-dasharray="3.3 3.13"/>
<path d="M1024.09 337.13H992.97M1024.09 337.13H1055.21M1024.09 337.13V335.38M1024.09 337.13V338.88" stroke="#66cc00" stroke-width="3.2" fill="none" stroke-dasharray="3.3 3.13"/>
<path d="M1086.33 340.94H1055.21M1086.33 340.94H1117.46M1086.33 340.94V338.82M1086.33 340.94V343.06" stroke="#66cc00" stroke-width="3.2" fill="none" stroke-dasharray="3.3 3.13"/>
<path d="M1148.58 330.78H1117.46M1148.58 330.78H1179.7M1148.58 330.78V327.83M1148.58 330.78V333.73" stroke="#66cc00" stroke-width="3.2" fill="none" stroke-dasharray="3.3 3.13"/>
</g>
<g clip-path="url(#crb)">
<path d="M697.31 341.29H694.2M697.31 341.29H700.42" stroke="#d4174a" stroke-width="3.8" fill="none" stroke-dasharray="1.45 1.75"/>
<circle cx="697.31" cy="341.29" r="1.65" fill="#d4174a"/>
<path d="M703.54 339.15H700.42M703.54 339.15H706.65" stroke="#d4174a" stroke-width="3.8" fill="none" stroke-dasharray="1.45 1.75"/>
<circle cx="703.54" cy="339.15" r="1.65" fill="#d4174a"/>
<path d="M709.76 337.38H706.65M709.76 337.38H712.87" stroke="#d4174a" stroke-width="3.8" fill="none" stroke-dasharray="1.45 1.75"/>
<circle cx="709.76" cy="337.38" r="1.65" fill="#d4174a"/>
<path d="M715.99 336.15H712.87M715.99 336.15H719.1" stroke="#d4174a" stroke-width="3.8" fill="none" stroke-dasharray="1.45 1.75"/>
<circle cx="715.99" cy="336.15" r="1.65" fill="#d4174a"/>
<path d="M722.21 335.39H719.1M722.21 335.39H725.32" stroke="#d4174a" stroke-width="3.8" fill="none" stroke-dasharray="1.45 1.75"/>
<circle cx="722.21" cy="335.39" r="1.65" fill="#d4174a"/>
<path d="M728.43 334.97H725.32M728.43 334.97H731.55" stroke="#d4174a" stroke-width="3.8" fill="none" stroke-dasharray="1.45 1.75"/>
<circle cx="728.43" cy="334.97" r="1.65" fill="#d4174a"/>
<path d="M734.66 334.73H731.55M734.66 334.73H737.77" stroke="#d4174a" stroke-width="3.8" fill="none" stroke-dasharray="1.45 1.75"/>
<circle cx="734.66" cy="334.73" r="1.65" fill="#d4174a"/>
<path d="M740.88 334.29H737.77M740.88 334.29H743.99" stroke="#d4174a" stroke-width="3.8" fill="none" stroke-dasharray="1.45 1.75"/>
<circle cx="740.88" cy="334.29" r="1.65" fill="#d4174a"/>
<path d="M747.11 333.79H743.99M747.11 333.79H750.22" stroke="#d4174a" stroke-width="3.8" fill="none" stroke-dasharray="1.45 1.75"/>
<circle cx="747.11" cy="333.79" r="1.65" fill="#d4174a"/>
<path d="M753.33 333.46H750.22M753.33 333.46H756.44" stroke="#d4174a" stroke-width="3.8" fill="none" stroke-dasharray="1.45 1.75"/>
<circle cx="753.33" cy="333.46" r="1.65" fill="#d4174a"/>
<path d="M759.56 332.4H756.44M759.56 332.4H762.67" stroke="#d4174a" stroke-width="3.8" fill="none" stroke-dasharray="1.45 1.75"/>
<circle cx="759.56" cy="332.4" r="1.65" fill="#d4174a"/>
<path d="M765.78 331.45H762.67M765.78 331.45H768.89" stroke="#d4174a" stroke-width="3.8" fill="none" stroke-dasharray="1.45 1.75"/>
<circle cx="765.78" cy="331.45" r="1.65" fill="#d4174a"/>
<path d="M772 331.45H768.89M772 331.45H775.12" stroke="#d4174a" stroke-width="3.8" fill="none" stroke-dasharray="1.45 1.75"/>
<circle cx="772" cy="331.45" r="1.65" fill="#d4174a"/>
<path d="M778.23 331.25H775.12M778.23 331.25H781.34" stroke="#d4174a" stroke-width="3.8" fill="none" stroke-dasharray="1.45 1.75"/>
<circle cx="778.23" cy="331.25" r="1.65" fill="#d4174a"/>
<path d="M787.57 329.87H781.34M787.57 329.87H793.79" stroke="#d4174a" stroke-width="3.8" fill="none" stroke-dasharray="1.45 1.75"/>
<circle cx="787.57" cy="329.87" r="1.65" fill="#d4174a"/>
<path d="M800.01 328.11H793.79M800.01 328.11H806.24" stroke="#d4174a" stroke-width="3.8" fill="none" stroke-dasharray="1.45 1.75"/>
<circle cx="800.01" cy="328.11" r="1.65" fill="#d4174a"/>
<path d="M812.46 329.35H806.24M812.46 329.35H818.69" stroke="#d4174a" stroke-width="3.8" fill="none" stroke-dasharray="1.45 1.75"/>
<circle cx="812.46" cy="329.35" r="1.65" fill="#d4174a"/>
<path d="M824.91 327.26H818.69M824.91 327.26H831.14" stroke="#d4174a" stroke-width="3.8" fill="none" stroke-dasharray="1.45 1.75"/>
<circle cx="824.91" cy="327.26" r="1.65" fill="#d4174a"/>
<path d="M837.36 325.62H831.14M837.36 325.62H843.58" stroke="#d4174a" stroke-width="3.8" fill="none" stroke-dasharray="1.45 1.75"/>
<circle cx="837.36" cy="325.62" r="1.65" fill="#d4174a"/>
<path d="M849.81 325.42H843.58M849.81 325.42H856.03" stroke="#d4174a" stroke-width="3.8" fill="none" stroke-dasharray="1.45 1.75"/>
<circle cx="849.81" cy="325.42" r="1.65" fill="#d4174a"/>
<path d="M868.48 326.33H856.03M868.48 326.33H880.93" stroke="#d4174a" stroke-width="3.8" fill="none" stroke-dasharray="1.45 1.75"/>
<circle cx="868.48" cy="326.33" r="1.65" fill="#d4174a"/>
<path d="M893.38 323.33H880.93M893.38 323.33H905.83" stroke="#d4174a" stroke-width="3.8" fill="none" stroke-dasharray="1.45 1.75"/>
<circle cx="893.38" cy="323.33" r="1.65" fill="#d4174a"/>
<path d="M918.28 322.77H905.83M918.28 322.77H930.73" stroke="#d4174a" stroke-width="3.8" fill="none" stroke-dasharray="1.45 1.75"/>
<circle cx="918.28" cy="322.77" r="1.65" fill="#d4174a"/>
<path d="M961.85 323.24H930.73M961.85 323.24H992.97" stroke="#d4174a" stroke-width="3.8" fill="none" stroke-dasharray="1.45 1.75"/>
<circle cx="961.85" cy="323.24" r="1.65" fill="#d4174a"/>
<path d="M1024.09 323.88H992.97M1024.09 323.88H1055.21" stroke="#d4174a" stroke-width="3.8" fill="none" stroke-dasharray="1.45 1.75"/>
<circle cx="1024.09" cy="323.88" r="1.65" fill="#d4174a"/>
<path d="M1086.33 323.09H1055.21M1086.33 323.09H1117.46" stroke="#d4174a" stroke-width="3.8" fill="none" stroke-dasharray="1.45 1.75"/>
<circle cx="1086.33" cy="323.09" r="1.65" fill="#d4174a"/>
<path d="M1148.58 316.05H1117.46M1148.58 316.05H1179.7" stroke="#d4174a" stroke-width="3.8" fill="none" stroke-dasharray="1.45 1.75"/>
<circle cx="1148.58" cy="316.05" r="1.65" fill="#d4174a"/>
</g>
<rect x="694.2" y="1.3" width="485.5" height="354.8" fill="none" stroke="#000" stroke-width="1.3"/>
<line x1="694.2" y1="270.8" x2="1179.7" y2="270.8" stroke="#000" stroke-width="1.6"/>
<path d="M706.65 1.3v3.5M706.65 270.8v-3.5M706.65 270.8v2M706.65 356.1v-2M719.1 1.3v3.5M719.1 270.8v-3.5M719.1 270.8v2M719.1 356.1v-2M731.55 1.3v3.5M731.55 270.8v-3.5M731.55 270.8v2M731.55 356.1v-2M743.99 1.3v7M743.99 270.8v-7M743.99 270.8v4M743.99 356.1v-4M756.44 1.3v3.5M756.44 270.8v-3.5M756.44 270.8v2M756.44 356.1v-2M768.89 1.3v3.5M768.89 270.8v-3.5M768.89 270.8v2M768.89 356.1v-2M781.34 1.3v3.5M781.34 270.8v-3.5M781.34 270.8v2M781.34 356.1v-2M793.79 1.3v3.5M793.79 270.8v-3.5M793.79 270.8v2M793.79 356.1v-2M806.24 1.3v7M806.24 270.8v-7M806.24 270.8v4M806.24 356.1v-4M818.69 1.3v3.5M818.69 270.8v-3.5M818.69 270.8v2M818.69 356.1v-2M831.14 1.3v3.5M831.14 270.8v-3.5M831.14 270.8v2M831.14 356.1v-2M843.58 1.3v3.5M843.58 270.8v-3.5M843.58 270.8v2M843.58 356.1v-2M856.03 1.3v3.5M856.03 270.8v-3.5M856.03 270.8v2M856.03 356.1v-2M868.48 1.3v7M868.48 270.8v-7M868.48 270.8v4M868.48 356.1v-4M880.93 1.3v3.5M880.93 270.8v-3.5M880.93 270.8v2M880.93 356.1v-2M893.38 1.3v3.5M893.38 270.8v-3.5M893.38 270.8v2M893.38 356.1v-2M905.83 1.3v3.5M905.83 270.8v-3.5M905.83 270.8v2M905.83 356.1v-2M918.28 1.3v3.5M918.28 270.8v-3.5M918.28 270.8v2M918.28 356.1v-2M930.73 1.3v7M930.73 270.8v-7M930.73 270.8v4M930.73 356.1v-4M943.17 1.3v3.5M943.17 270.8v-3.5M943.17 270.8v2M943.17 356.1v-2M955.62 1.3v3.5M955.62 270.8v-3.5M955.62 270.8v2M955.62 356.1v-2M968.07 1.3v3.5M968.07 270.8v-3.5M968.07 270.8v2M968.07 356.1v-2M980.52 1.3v3.5M980.52 270.8v-3.5M980.52 270.8v2M980.52 356.1v-2M992.97 1.3v7M992.97 270.8v-7M992.97 270.8v4M992.97 356.1v-4M1005.42 1.3v3.5M1005.42 270.8v-3.5M1005.42 270.8v2M1005.42 356.1v-2M1017.87 1.3v3.5M1017.87 270.8v-3.5M1017.87 270.8v2M1017.87 356.1v-2M1030.32 1.3v3.5M1030.32 270.8v-3.5M1030.32 270.8v2M1030.32 356.1v-2M1042.76 1.3v3.5M1042.76 270.8v-3.5M1042.76 270.8v2M1042.76 356.1v-2M1055.21 1.3v7M1055.21 270.8v-7M1055.21 270.8v4M1055.21 356.1v-4M1067.66 1.3v3.5M1067.66 270.8v-3.5M1067.66 270.8v2M1067.66 356.1v-2M1080.11 1.3v3.5M1080.11 270.8v-3.5M1080.11 270.8v2M1080.11 356.1v-2M1092.56 1.3v3.5M1092.56 270.8v-3.5M1092.56 270.8v2M1092.56 356.1v-2M1105.01 1.3v3.5M1105.01 270.8v-3.5M1105.01 270.8v2M1105.01 356.1v-2M1117.46 1.3v7M1117.46 270.8v-7M1117.46 270.8v4M1117.46 356.1v-4M1129.91 1.3v3.5M1129.91 270.8v-3.5M1129.91 270.8v2M1129.91 356.1v-2M1142.35 1.3v3.5M1142.35 270.8v-3.5M1142.35 270.8v2M1142.35 356.1v-2M1154.8 1.3v3.5M1154.8 270.8v-3.5M1154.8 270.8v2M1154.8 356.1v-2M1167.25 1.3v3.5M1167.25 270.8v-3.5M1167.25 270.8v2M1167.25 356.1v-2M694.2 256.76h8M1179.7 256.76h-8M694.2 242.95h16M1179.7 242.95h-16M694.2 229.14h8M1179.7 229.14h-8M694.2 215.33h8M1179.7 215.33h-8M694.2 201.52h8M1179.7 201.52h-8M694.2 187.71h8M1179.7 187.71h-8M694.2 173.9h16M1179.7 173.9h-16M694.2 160.09h8M1179.7 160.09h-8M694.2 146.28h8M1179.7 146.28h-8M694.2 132.47h8M1179.7 132.47h-8M694.2 118.66h8M1179.7 118.66h-8M694.2 104.85h16M1179.7 104.85h-16M694.2 91.04h8M1179.7 91.04h-8M694.2 77.23h8M1179.7 77.23h-8M694.2 63.42h8M1179.7 63.42h-8M694.2 49.61h8M1179.7 49.61h-8M694.2 35.8h16M1179.7 35.8h-16M694.2 21.99h8M1179.7 21.99h-8M694.2 8.18h8M1179.7 8.18h-8M694.2 343.91h4.7M1179.7 343.91h-4.7M694.2 331.73h9.7M1179.7 331.73h-9.7M694.2 319.54h4.7M1179.7 319.54h-4.7M694.2 307.36h9.7M1179.7 307.36h-9.7M694.2 295.17h4.7M1179.7 295.17h-4.7M694.2 282.99h9.7M1179.7 282.99h-9.7" stroke="#000" stroke-width="1.3" fill="none"/>
<text transform="translate(737.99 374.6) scale(1 1.045)" font-size="21.6" font-family="'Liberation Sans', sans-serif" fill="#000" style="white-space:pre;font-kerning:none">5</text>
<text transform="translate(794.23 374.6) scale(1 1.045)" font-size="21.6" font-family="'Liberation Sans', sans-serif" fill="#000" style="white-space:pre;font-kerning:none"> 0</text>
<path transform="translate(794.23 374.6) scale(21.600 -22.572)" d="M.359 0V.703H.29C.266 .632 .205 .588 .101 .574V.503C.172 .511 .232 .535 .268 .566V0Z" fill="#000"/>
<text transform="translate(856.47 374.6) scale(1 1.045)" font-size="21.6" font-family="'Liberation Sans', sans-serif" fill="#000" style="white-space:pre;font-kerning:none"> 5</text>
<path transform="translate(856.47 374.6) scale(21.600 -22.572)" d="M.359 0V.703H.29C.266 .632 .205 .588 .101 .574V.503C.172 .511 .232 .535 .268 .566V0Z" fill="#000"/>
<text transform="translate(918.71 374.6) scale(1 1.045)" font-size="21.6" font-family="'Liberation Sans', sans-serif" fill="#000" style="white-space:pre;font-kerning:none">20</text>
<text transform="translate(980.96 374.6) scale(1 1.045)" font-size="21.6" font-family="'Liberation Sans', sans-serif" fill="#000" style="white-space:pre;font-kerning:none">25</text>
<text transform="translate(1043.2 374.6) scale(1 1.045)" font-size="21.6" font-family="'Liberation Sans', sans-serif" fill="#000" style="white-space:pre;font-kerning:none">30</text>
<text transform="translate(1105.44 374.6) scale(1 1.045)" font-size="21.6" font-family="'Liberation Sans', sans-serif" fill="#000" style="white-space:pre;font-kerning:none">35</text>
<text transform="translate(1167.69 374.6) scale(1 1.045)" font-size="21.6" font-family="'Liberation Sans', sans-serif" fill="#000" style="white-space:pre;font-kerning:none">40</text>
<text transform="translate(652.82 250.45) scale(1 1.045)" font-size="21.6" font-family="'Liberation Sans', sans-serif" fill="#000" style="white-space:pre;font-kerning:none">0.0 </text>
<path transform="translate(682.85 250.45) scale(21.600 -22.572)" d="M.359 0V.703H.29C.266 .632 .205 .588 .101 .574V.503C.172 .511 .232 .535 .268 .566V0Z" fill="#000"/>
<text transform="translate(649.65 181.4) scale(1 1.045)" font-size="21.6" font-family="'Liberation Sans', sans-serif" fill="#000" style="white-space:pre;font-kerning:none">0.02</text>
<text transform="translate(649.51 112.35) scale(1 1.045)" font-size="21.6" font-family="'Liberation Sans', sans-serif" fill="#000" style="white-space:pre;font-kerning:none">0.03</text>
<text transform="translate(649.19 43.3) scale(1 1.045)" font-size="21.6" font-family="'Liberation Sans', sans-serif" fill="#000" style="white-space:pre;font-kerning:none">0.04</text>
<text transform="translate(661.52 363.6) scale(1 1.045)" font-size="21.6" font-family="'Liberation Sans', sans-serif" fill="#000" style="white-space:pre;font-kerning:none">0.6</text>
<text transform="translate(661.51 339.23) scale(1 1.045)" font-size="21.6" font-family="'Liberation Sans', sans-serif" fill="#000" style="white-space:pre;font-kerning:none">0.8</text>
<text transform="translate(682.85 315.76) scale(1 1.045)" font-size="21.6" font-family="'Liberation Sans', sans-serif" fill="#000" style="white-space:pre;font-kerning:none"> </text>
<path transform="translate(682.85 315.76) scale(21.600 -22.572)" d="M.359 0V.703H.29C.266 .632 .205 .588 .101 .574V.503C.172 .511 .232 .535 .268 .566V0Z" fill="#000"/>
<text transform="translate(661.66 290.49) scale(1 1.045)" font-size="21.6" font-family="'Liberation Sans', sans-serif" fill="#000" style="white-space:pre;font-kerning:none"> .2</text>
<path transform="translate(661.66 290.49) scale(21.600 -22.572)" d="M.359 0V.703H.29C.266 .632 .205 .588 .101 .574V.503C.172 .511 .232 .535 .268 .566V0Z" fill="#000"/>
<text transform="translate(987.84 410.4) scale(1 1.045)" font-size="21.4" font-family="'Liberation Sans', sans-serif" fill="#000" style="white-space:pre;font-kerning:none">Leading-jet p</text>
<text transform="translate(1111.58 422.4) scale(1 1.045)" font-size="15.2" font-family="'Liberation Sans', sans-serif" fill="#000" style="white-space:pre;font-kerning:none">T</text>
<text transform="translate(1120.87 410.4) scale(1 1.045)" font-size="21.4" font-family="'Liberation Sans', sans-serif" fill="#000" style="white-space:pre;font-kerning:none"> [GeV]</text>
<text transform="translate(633.7 270.9) rotate(-90) scale(1 1.045)" font-size="21.45" text-anchor="end" font-family="'Liberation Sans', sans-serif">MC/Data</text>
<text transform="translate(630.9 -2.1) rotate(-90) scale(1 1.045)" font-size="21.5" text-anchor="end" font-family="'Liberation Sans', sans-serif">N(K<tspan font-size="15.5" dy="-9.2">0</tspan><tspan font-size="15.5" dx="-8.6" dy="21.1">S</tspan><tspan dy="-11.9">) / N(ch)</tspan></text>
<rect x="719.6" y="14.8" width="82.5" height="12.6" fill="#cccccc"/>
<line x1="719.6" y1="21.1" x2="802.1" y2="21.1" stroke="#000" stroke-width="1.7"/>
<circle cx="760.8" cy="21.1" r="5.8" fill="#000"/>
<line x1="719.6" y1="38.9" x2="802.1" y2="38.9" stroke="#0b46a8" stroke-width="3"/>
<line x1="719.6" y1="56.8" x2="802.1" y2="56.8" stroke="#66cc00" stroke-width="3.3" stroke-dasharray="3.3 3.13"/>
<line x1="719.6" y1="74.5" x2="802.1" y2="74.5" stroke="#d4174a" stroke-width="3.8" stroke-dasharray="1.45 1.75"/>
<text transform="translate(820 24.8) scale(1 1.045)" font-size="16.9" font-family="'Liberation Sans', sans-serif" fill="#000" style="white-space:pre;font-kerning:none">Data</text>
<text transform="translate(820 42.6) scale(1 1.045)" font-size="16.9" font-family="'Liberation Sans', sans-serif" fill="#000" style="white-space:pre;font-kerning:none">EPOS-LHC</text>
<text transform="translate(820 60.3) scale(1 1.045)" font-size="16.9" font-family="'Liberation Sans', sans-serif" fill="#000" style="white-space:pre;font-kerning:none">PY8-A2</text>
<text transform="translate(820 78.1) scale(1 1.045)" font-size="16.9" font-family="'Liberation Sans', sans-serif" fill="#000" style="white-space:pre;font-kerning:none">PY8-MONASH+CR</text>
<path d="M823.65 222.25 L826.45 234.35 L829.55 215.95 L842.25 215.95" stroke="#000" fill="none" stroke-width="1.1" stroke-linejoin="miter"/>
<path d="M823.95 222.55 L826.45 233.95" stroke="#000" fill="none" stroke-width="2"/>
<text transform="translate(832.25 234.25) scale(1 1.045)" font-size="21.3" font-family="'Liberation Sans', sans-serif" fill="#000" style="white-space:pre;font-kerning:none">s= 3 TeV</text>
<path transform="translate(855.34 234.25) scale(21.300 -22.258)" d="M.359 0V.703H.29C.266 .632 .205 .588 .101 .574V.503C.172 .511 .232 .535 .268 .566V0Z" fill="#000"/>
<text transform="translate(820.45 257.45) scale(1 1.045)" font-size="21.3" font-family="'Liberation Sans', sans-serif" fill="#000" style="white-space:pre;font-kerning:none">67x 0</text>
<path transform="translate(854.79 257.45) scale(21.300 -22.258)" d="M.359 0V.703H.29C.266 .632 .205 .588 .101 .574V.503C.172 .511 .232 .535 .268 .566V0Z" fill="#000"/>
<text transform="translate(878.48 247.75) scale(1 1.045)" font-size="14.8" font-family="'Liberation Sans', sans-serif" fill="#000" style="white-space:pre;font-kerning:none">6</text>
<text transform="translate(886.72 257.45) scale(1 1.045)" font-size="21.3" font-family="'Liberation Sans', sans-serif" fill="#000" style="white-space:pre;font-kerning:none"> Events</text>
<text transform="translate(972.65 234.35) scale(1 1.045)" font-size="21.7" font-family="'Liberation Sans', sans-serif" font-weight="bold" font-style="italic" fill="#000" style="white-space:pre;font-kerning:none">ATLAS</text>
<text transform="translate(972.65 257.45) scale(1 1.045)" font-size="21.65" font-family="'Liberation Sans', sans-serif" fill="#000" style="white-space:pre;font-kerning:none">Away Region</text>
<text x="899.5" y="462.3" font-size="24" text-anchor="middle" font-family="'Liberation Serif', serif">(b)</text>
<clipPath id="cmc"><rect x="85.4" y="529.7" width="485.3" height="269.3"/></clipPath>
<clipPath id="crc"><rect x="85.4" y="799" width="485.3" height="85.5"/></clipPath>
<g clip-path="url(#cmc)">
<rect x="85.4" y="776.82" width="6.22" height="1.17" fill="#cccccc"/>
<rect x="91.62" y="761.24" width="6.22" height="1.93" fill="#cccccc"/>
<rect x="97.84" y="746.07" width="6.22" height="2.67" fill="#cccccc"/>
<rect x="104.07" y="731.31" width="6.22" height="3.39" fill="#cccccc"/>
<rect x="110.29" y="717.47" width="6.22" height="4.06" fill="#cccccc"/>
<rect x="116.51" y="705.48" width="6.22" height="4.65" fill="#cccccc"/>
<rect x="122.73" y="694.2" width="6.22" height="5.2" fill="#cccccc"/>
<rect x="128.95" y="684.98" width="6.22" height="5.65" fill="#cccccc"/>
<rect x="135.17" y="676.26" width="6.22" height="6.07" fill="#cccccc"/>
<rect x="141.4" y="668.37" width="6.22" height="6.46" fill="#cccccc"/>
<rect x="147.62" y="661.71" width="6.22" height="6.78" fill="#cccccc"/>
<rect x="153.84" y="656.07" width="6.22" height="7.06" fill="#cccccc"/>
<rect x="160.06" y="651.15" width="6.22" height="7.3" fill="#cccccc"/>
<rect x="166.28" y="646.85" width="6.22" height="7.51" fill="#cccccc"/>
<rect x="172.51" y="643.93" width="12.44" height="9.13" fill="#cccccc"/>
<rect x="184.95" y="639.71" width="12.44" height="9.99" fill="#cccccc"/>
<rect x="197.39" y="639.55" width="12.44" height="10.3" fill="#cccccc"/>
<rect x="209.84" y="634.06" width="12.44" height="11.27" fill="#cccccc"/>
<rect x="222.28" y="635.2" width="12.44" height="11.2" fill="#cccccc"/>
<rect x="234.72" y="635.2" width="12.44" height="11.2" fill="#cccccc"/>
<rect x="247.17" y="634.68" width="24.89" height="11.23" fill="#cccccc"/>
<rect x="272.05" y="634.37" width="24.89" height="11.25" fill="#cccccc"/>
<rect x="296.94" y="628.7" width="24.89" height="12.6" fill="#cccccc"/>
<rect x="321.83" y="630.94" width="62.22" height="12.12" fill="#cccccc"/>
<rect x="384.05" y="626.61" width="62.22" height="16.59" fill="#cccccc"/>
<rect x="446.26" y="617.96" width="62.22" height="23.28" fill="#cccccc"/>
<rect x="508.48" y="625.63" width="62.22" height="27.14" fill="#cccccc"/>
</g>
<line x1="85.4" y1="777.4" x2="91.62" y2="777.4" stroke="#000" stroke-width="1.7"/>
<line x1="91.62" y1="762.2" x2="97.84" y2="762.2" stroke="#000" stroke-width="1.7"/>
<line x1="97.84" y1="747.4" x2="104.07" y2="747.4" stroke="#000" stroke-width="1.7"/>
<line x1="104.07" y1="733" x2="110.29" y2="733" stroke="#000" stroke-width="1.7"/>
<line x1="110.29" y1="719.5" x2="116.51" y2="719.5" stroke="#000" stroke-width="1.7"/>
<line x1="116.51" y1="707.8" x2="122.73" y2="707.8" stroke="#000" stroke-width="1.7"/>
<line x1="122.73" y1="696.8" x2="128.95" y2="696.8" stroke="#000" stroke-width="1.7"/>
<line x1="128.95" y1="687.8" x2="135.17" y2="687.8" stroke="#000" stroke-width="1.7"/>
<line x1="135.17" y1="679.3" x2="141.4" y2="679.3" stroke="#000" stroke-width="1.7"/>
<line x1="141.4" y1="671.6" x2="147.62" y2="671.6" stroke="#000" stroke-width="1.7"/>
<line x1="147.62" y1="665.1" x2="153.84" y2="665.1" stroke="#000" stroke-width="1.7"/>
<line x1="153.84" y1="659.6" x2="160.06" y2="659.6" stroke="#000" stroke-width="1.7"/>
<line x1="160.06" y1="654.8" x2="166.28" y2="654.8" stroke="#000" stroke-width="1.7"/>
<line x1="166.28" y1="650.6" x2="172.51" y2="650.6" stroke="#000" stroke-width="1.7"/>
<line x1="172.51" y1="648.5" x2="184.95" y2="648.5" stroke="#000" stroke-width="1.7"/>
<line x1="184.95" y1="644.7" x2="197.39" y2="644.7" stroke="#000" stroke-width="1.7"/>
<line x1="197.39" y1="644.7" x2="209.84" y2="644.7" stroke="#000" stroke-width="1.7"/>
<line x1="209.84" y1="639.7" x2="222.28" y2="639.7" stroke="#000" stroke-width="1.7"/>
<line x1="222.28" y1="640.8" x2="234.72" y2="640.8" stroke="#000" stroke-width="1.7"/>
<line x1="234.72" y1="640.8" x2="247.17" y2="640.8" stroke="#000" stroke-width="1.7"/>
<line x1="247.17" y1="640.3" x2="272.05" y2="640.3" stroke="#000" stroke-width="1.7"/>
<line x1="272.05" y1="640" x2="296.94" y2="640" stroke="#000" stroke-width="1.7"/>
<line x1="296.94" y1="635" x2="321.83" y2="635" stroke="#000" stroke-width="1.7"/>
<line x1="321.83" y1="637" x2="384.05" y2="637" stroke="#000" stroke-width="1.7"/>
<line x1="384.05" y1="634.9" x2="446.26" y2="634.9" stroke="#000" stroke-width="1.7"/>
<line x1="415.16" y1="631.58" x2="415.16" y2="638.22" stroke="#000" stroke-width="1.7"/>
<line x1="446.26" y1="629.6" x2="508.48" y2="629.6" stroke="#000" stroke-width="1.7"/>
<line x1="477.37" y1="622.41" x2="477.37" y2="636.79" stroke="#000" stroke-width="1.7"/>
<line x1="508.48" y1="639.2" x2="570.7" y2="639.2" stroke="#000" stroke-width="1.7"/>
<line x1="539.59" y1="629.67" x2="539.59" y2="648.73" stroke="#000" stroke-width="1.7"/>
<circle cx="88.51" cy="777.4" r="5.8" fill="#000"/>
<circle cx="94.73" cy="762.2" r="5.8" fill="#000"/>
<circle cx="100.95" cy="747.4" r="5.8" fill="#000"/>
<circle cx="107.18" cy="733" r="5.8" fill="#000"/>
<circle cx="113.4" cy="719.5" r="5.8" fill="#000"/>
<circle cx="119.62" cy="707.8" r="5.8" fill="#000"/>
<circle cx="125.84" cy="696.8" r="5.8" fill="#000"/>
<circle cx="132.06" cy="687.8" r="5.8" fill="#000"/>
<circle cx="138.29" cy="679.3" r="5.8" fill="#000"/>
<circle cx="144.51" cy="671.6" r="5.8" fill="#000"/>
<circle cx="150.73" cy="665.1" r="5.8" fill="#000"/>
<circle cx="156.95" cy="659.6" r="5.8" fill="#000"/>
<circle cx="163.17" cy="654.8" r="5.8" fill="#000"/>
<circle cx="169.39" cy="650.6" r="5.8" fill="#000"/>
<circle cx="178.73" cy="648.5" r="5.8" fill="#000"/>
<circle cx="191.17" cy="644.7" r="5.8" fill="#000"/>
<circle cx="203.61" cy="644.7" r="5.8" fill="#000"/>
<circle cx="216.06" cy="639.7" r="5.8" fill="#000"/>
<circle cx="228.5" cy="640.8" r="5.8" fill="#000"/>
<circle cx="240.94" cy="640.8" r="5.8" fill="#000"/>
<circle cx="259.61" cy="640.3" r="5.8" fill="#000"/>
<circle cx="284.5" cy="640" r="5.8" fill="#000"/>
<circle cx="309.38" cy="635" r="5.8" fill="#000"/>
<circle cx="352.94" cy="637" r="5.8" fill="#000"/>
<circle cx="415.16" cy="634.9" r="5.8" fill="#000"/>
<circle cx="477.37" cy="629.6" r="5.8" fill="#000"/>
<circle cx="539.59" cy="639.2" r="5.8" fill="#000"/>
<g clip-path="url(#cmc)">
<path d="M88.51 780.2H85.4M88.51 780.2H91.62" stroke="#0b46a8" stroke-width="3" fill="none"/>
<path d="M94.73 764.7H91.62M94.73 764.7H97.84" stroke="#0b46a8" stroke-width="3" fill="none"/>
<path d="M100.95 749.6H97.84M100.95 749.6H104.07" stroke="#0b46a8" stroke-width="3" fill="none"/>
<path d="M107.18 734.4H104.07M107.18 734.4H110.29" stroke="#0b46a8" stroke-width="3" fill="none"/>
<path d="M113.4 719.8H110.29M113.4 719.8H116.51" stroke="#0b46a8" stroke-width="3" fill="none"/>
<path d="M119.62 706.9H116.51M119.62 706.9H122.73" stroke="#0b46a8" stroke-width="3" fill="none"/>
<path d="M125.84 695H122.73M125.84 695H128.95" stroke="#0b46a8" stroke-width="3" fill="none"/>
<path d="M132.06 684.5H128.95M132.06 684.5H135.17" stroke="#0b46a8" stroke-width="3" fill="none"/>
<path d="M138.29 676.5H135.17M138.29 676.5H141.4" stroke="#0b46a8" stroke-width="3" fill="none"/>
<path d="M144.51 669.2H141.4M144.51 669.2H147.62" stroke="#0b46a8" stroke-width="3" fill="none"/>
<path d="M150.73 664.4H147.62M150.73 664.4H153.84" stroke="#0b46a8" stroke-width="3" fill="none"/>
<path d="M156.95 661.7H153.84M156.95 661.7H160.06" stroke="#0b46a8" stroke-width="3" fill="none"/>
<path d="M163.17 658.9H160.06M163.17 658.9H166.28" stroke="#0b46a8" stroke-width="3" fill="none"/>
<path d="M169.39 657.2H166.28M169.39 657.2H172.51" stroke="#0b46a8" stroke-width="3" fill="none"/>
<path d="M178.73 656.6H172.51M178.73 656.6H184.95" stroke="#0b46a8" stroke-width="3" fill="none"/>
<path d="M191.17 658.3H184.95M191.17 658.3H197.39" stroke="#0b46a8" stroke-width="3" fill="none"/>
<path d="M203.61 660H197.39M203.61 660H209.84" stroke="#0b46a8" stroke-width="3" fill="none"/>
<path d="M216.06 662.2H209.84M216.06 662.2H222.28" stroke="#0b46a8" stroke-width="3" fill="none"/>
<path d="M228.5 665H222.28M228.5 665H234.72" stroke="#0b46a8" stroke-width="3" fill="none"/>
<path d="M240.94 666.3H234.72M240.94 666.3H247.17" stroke="#0b46a8" stroke-width="3" fill="none"/>
<path d="M259.61 665.5H247.17M259.61 665.5H272.05" stroke="#0b46a8" stroke-width="3" fill="none"/>
<path d="M284.5 666.7H272.05M284.5 666.7H296.94" stroke="#0b46a8" stroke-width="3" fill="none"/>
<path d="M309.38 665.8H296.94M309.38 665.8H321.83" stroke="#0b46a8" stroke-width="3" fill="none"/>
<path d="M352.94 662.4H321.83M352.94 662.4H384.05" stroke="#0b46a8" stroke-width="3" fill="none"/>
<path d="M415.16 652.7H384.05M415.16 652.7H446.26M415.16 652.7V649.89M415.16 652.7V655.51" stroke="#0b46a8" stroke-width="3" fill="none"/>
<path d="M477.37 656.3H446.26M477.37 656.3H508.48M477.37 656.3V652.83M477.37 656.3V659.77" stroke="#0b46a8" stroke-width="3" fill="none"/>
<path d="M539.59 649.4H508.48M539.59 649.4H570.7M539.59 649.4V644.86M539.59 649.4V653.94" stroke="#0b46a8" stroke-width="3" fill="none"/>
</g>
<g clip-path="url(#cmc)">
<path d="M88.51 778.5H85.4M88.51 778.5H91.62" stroke="#66cc00" stroke-width="3.2" fill="none" stroke-dasharray="3.3 3.13"/>
<path d="M94.73 768H91.62M94.73 768H97.84" stroke="#66cc00" stroke-width="3.2" fill="none" stroke-dasharray="3.3 3.13"/>
<path d="M100.95 758.4H97.84M100.95 758.4H104.07" stroke="#66cc00" stroke-width="3.2" fill="none" stroke-dasharray="3.3 3.13"/>
<path d="M107.18 749.6H104.07M107.18 749.6H110.29" stroke="#66cc00" stroke-width="3.2" fill="none" stroke-dasharray="3.3 3.13"/>
<path d="M113.4 741.6H110.29M113.4 741.6H116.51" stroke="#66cc00" stroke-width="3.2" fill="none" stroke-dasharray="3.3 3.13"/>
<path d="M119.62 734.3H116.51M119.62 734.3H122.73" stroke="#66cc00" stroke-width="3.2" fill="none" stroke-dasharray="3.3 3.13"/>
<path d="M125.84 727.5H122.73M125.84 727.5H128.95" stroke="#66cc00" stroke-width="3.2" fill="none" stroke-dasharray="3.3 3.13"/>
<path d="M132.06 722H128.95M132.06 722H135.17" stroke="#66cc00" stroke-width="3.2" fill="none" stroke-dasharray="3.3 3.13"/>
<path d="M138.29 717H135.17M138.29 717H141.4" stroke="#66cc00" stroke-width="3.2" fill="none" stroke-dasharray="3.3 3.13"/>
<path d="M144.51 713.1H141.4M144.51 713.1H147.62" stroke="#66cc00" stroke-width="3.2" fill="none" stroke-dasharray="3.3 3.13"/>
<path d="M150.73 710.2H147.62M150.73 710.2H153.84" stroke="#66cc00" stroke-width="3.2" fill="none" stroke-dasharray="3.3 3.13"/>
<path d="M156.95 706.4H153.84M156.95 706.4H160.06" stroke="#66cc00" stroke-width="3.2" fill="none" stroke-dasharray="3.3 3.13"/>
<path d="M163.17 703H160.06M163.17 703H166.28" stroke="#66cc00" stroke-width="3.2" fill="none" stroke-dasharray="3.3 3.13"/>
<path d="M169.39 701.9H166.28M169.39 701.9H172.51" stroke="#66cc00" stroke-width="3.2" fill="none" stroke-dasharray="3.3 3.13"/>
<path d="M178.73 698.9H172.51M178.73 698.9H184.95" stroke="#66cc00" stroke-width="3.2" fill="none" stroke-dasharray="3.3 3.13"/>
<path d="M191.17 696.7H184.95M191.17 696.7H197.39" stroke="#66cc00" stroke-width="3.2" fill="none" stroke-dasharray="3.3 3.13"/>
<path d="M203.61 692.2H197.39M203.61 692.2H209.84" stroke="#66cc00" stroke-width="3.2" fill="none" stroke-dasharray="3.3 3.13"/>
<path d="M216.06 691.3H209.84M216.06 691.3H222.28" stroke="#66cc00" stroke-width="3.2" fill="none" stroke-dasharray="3.3 3.13"/>
<path d="M228.5 689.2H222.28M228.5 689.2H234.72" stroke="#66cc00" stroke-width="3.2" fill="none" stroke-dasharray="3.3 3.13"/>
<path d="M240.94 685.7H234.72M240.94 685.7H247.17" stroke="#66cc00" stroke-width="3.2" fill="none" stroke-dasharray="3.3 3.13"/>
<path d="M259.61 683.3H247.17M259.61 683.3H272.05" stroke="#66cc00" stroke-width="3.2" fill="none" stroke-dasharray="3.3 3.13"/>
<path d="M284.5 681.2H272.05M284.5 681.2H296.94" stroke="#66cc00" stroke-width="3.2" fill="none" stroke-dasharray="3.3 3.13"/>
<path d="M309.38 680.7H296.94M309.38 680.7H321.83" stroke="#66cc00" stroke-width="3.2" fill="none" stroke-dasharray="3.3 3.13"/>
<path d="M352.94 676H321.83M352.94 676H384.05" stroke="#66cc00" stroke-width="3.2" fill="none" stroke-dasharray="3.3 3.13"/>
<path d="M415.16 672.7H384.05M415.16 672.7H446.26M415.16 672.7V670.27M415.16 672.7V675.13" stroke="#66cc00" stroke-width="3.2" fill="none" stroke-dasharray="3.3 3.13"/>
<path d="M477.37 660H446.26M477.37 660H508.48M477.37 660V656.7M477.37 660V663.3" stroke="#66cc00" stroke-width="3.2" fill="none" stroke-dasharray="3.3 3.13"/>
<path d="M539.59 653.2H508.48M539.59 653.2H570.7M539.59 653.2V649.9M539.59 653.2V656.5" stroke="#66cc00" stroke-width="3.2" fill="none" stroke-dasharray="3.3 3.13"/>
</g>
<g clip-path="url(#cmc)">
<path d="M88.51 775.3H85.4M88.51 775.3H91.62" stroke="#d4174a" stroke-width="3.8" fill="none" stroke-dasharray="1.45 1.75"/>
<circle cx="88.51" cy="775.3" r="1.65" fill="#d4174a"/>
<path d="M94.73 761.6H91.62M94.73 761.6H97.84" stroke="#d4174a" stroke-width="3.8" fill="none" stroke-dasharray="1.45 1.75"/>
<circle cx="94.73" cy="761.6" r="1.65" fill="#d4174a"/>
<path d="M100.95 748.5H97.84M100.95 748.5H104.07" stroke="#d4174a" stroke-width="3.8" fill="none" stroke-dasharray="1.45 1.75"/>
<circle cx="100.95" cy="748.5" r="1.65" fill="#d4174a"/>
<path d="M107.18 736.3H104.07M107.18 736.3H110.29" stroke="#d4174a" stroke-width="3.8" fill="none" stroke-dasharray="1.45 1.75"/>
<circle cx="107.18" cy="736.3" r="1.65" fill="#d4174a"/>
<path d="M113.4 724.4H110.29M113.4 724.4H116.51" stroke="#d4174a" stroke-width="3.8" fill="none" stroke-dasharray="1.45 1.75"/>
<circle cx="113.4" cy="724.4" r="1.65" fill="#d4174a"/>
<path d="M119.62 713.7H116.51M119.62 713.7H122.73" stroke="#d4174a" stroke-width="3.8" fill="none" stroke-dasharray="1.45 1.75"/>
<circle cx="119.62" cy="713.7" r="1.65" fill="#d4174a"/>
<path d="M125.84 704.4H122.73M125.84 704.4H128.95" stroke="#d4174a" stroke-width="3.8" fill="none" stroke-dasharray="1.45 1.75"/>
<circle cx="125.84" cy="704.4" r="1.65" fill="#d4174a"/>
<path d="M132.06 696.1H128.95M132.06 696.1H135.17" stroke="#d4174a" stroke-width="3.8" fill="none" stroke-dasharray="1.45 1.75"/>
<circle cx="132.06" cy="696.1" r="1.65" fill="#d4174a"/>
<path d="M138.29 688.3H135.17M138.29 688.3H141.4" stroke="#d4174a" stroke-width="3.8" fill="none" stroke-dasharray="1.45 1.75"/>
<circle cx="138.29" cy="688.3" r="1.65" fill="#d4174a"/>
<path d="M144.51 681.4H141.4M144.51 681.4H147.62" stroke="#d4174a" stroke-width="3.8" fill="none" stroke-dasharray="1.45 1.75"/>
<circle cx="144.51" cy="681.4" r="1.65" fill="#d4174a"/>
<path d="M150.73 675.4H147.62M150.73 675.4H153.84" stroke="#d4174a" stroke-width="3.8" fill="none" stroke-dasharray="1.45 1.75"/>
<circle cx="150.73" cy="675.4" r="1.65" fill="#d4174a"/>
<path d="M156.95 670.3H153.84M156.95 670.3H160.06" stroke="#d4174a" stroke-width="3.8" fill="none" stroke-dasharray="1.45 1.75"/>
<circle cx="156.95" cy="670.3" r="1.65" fill="#d4174a"/>
<path d="M163.17 666.9H160.06M163.17 666.9H166.28" stroke="#d4174a" stroke-width="3.8" fill="none" stroke-dasharray="1.45 1.75"/>
<circle cx="163.17" cy="666.9" r="1.65" fill="#d4174a"/>
<path d="M169.39 662.8H166.28M169.39 662.8H172.51" stroke="#d4174a" stroke-width="3.8" fill="none" stroke-dasharray="1.45 1.75"/>
<circle cx="169.39" cy="662.8" r="1.65" fill="#d4174a"/>
<path d="M178.73 657.6H172.51M178.73 657.6H184.95" stroke="#d4174a" stroke-width="3.8" fill="none" stroke-dasharray="1.45 1.75"/>
<circle cx="178.73" cy="657.6" r="1.65" fill="#d4174a"/>
<path d="M191.17 653.3H184.95M191.17 653.3H197.39" stroke="#d4174a" stroke-width="3.8" fill="none" stroke-dasharray="1.45 1.75"/>
<circle cx="191.17" cy="653.3" r="1.65" fill="#d4174a"/>
<path d="M203.61 649.7H197.39M203.61 649.7H209.84" stroke="#d4174a" stroke-width="3.8" fill="none" stroke-dasharray="1.45 1.75"/>
<circle cx="203.61" cy="649.7" r="1.65" fill="#d4174a"/>
<path d="M216.06 645.8H209.84M216.06 645.8H222.28" stroke="#d4174a" stroke-width="3.8" fill="none" stroke-dasharray="1.45 1.75"/>
<circle cx="216.06" cy="645.8" r="1.65" fill="#d4174a"/>
<path d="M228.5 644.7H222.28M228.5 644.7H234.72" stroke="#d4174a" stroke-width="3.8" fill="none" stroke-dasharray="1.45 1.75"/>
<circle cx="228.5" cy="644.7" r="1.65" fill="#d4174a"/>
<path d="M240.94 642.5H234.72M240.94 642.5H247.17" stroke="#d4174a" stroke-width="3.8" fill="none" stroke-dasharray="1.45 1.75"/>
<circle cx="240.94" cy="642.5" r="1.65" fill="#d4174a"/>
<path d="M259.61 640H247.17M259.61 640H272.05" stroke="#d4174a" stroke-width="3.8" fill="none" stroke-dasharray="1.45 1.75"/>
<circle cx="259.61" cy="640" r="1.65" fill="#d4174a"/>
<path d="M284.5 637.5H272.05M284.5 637.5H296.94" stroke="#d4174a" stroke-width="3.8" fill="none" stroke-dasharray="1.45 1.75"/>
<circle cx="284.5" cy="637.5" r="1.65" fill="#d4174a"/>
<path d="M309.38 635H296.94M309.38 635H321.83" stroke="#d4174a" stroke-width="3.8" fill="none" stroke-dasharray="1.45 1.75"/>
<circle cx="309.38" cy="635" r="1.65" fill="#d4174a"/>
<path d="M352.94 634.9H321.83M352.94 634.9H384.05" stroke="#d4174a" stroke-width="3.8" fill="none" stroke-dasharray="1.45 1.75"/>
<circle cx="352.94" cy="634.9" r="1.65" fill="#d4174a"/>
<path d="M415.16 627.2H384.05M415.16 627.2H446.26" stroke="#d4174a" stroke-width="3.8" fill="none" stroke-dasharray="1.45 1.75"/>
<circle cx="415.16" cy="627.2" r="1.65" fill="#d4174a"/>
<path d="M477.37 624.7H446.26M477.37 624.7H508.48" stroke="#d4174a" stroke-width="3.8" fill="none" stroke-dasharray="1.45 1.75"/>
<circle cx="477.37" cy="624.7" r="1.65" fill="#d4174a"/>
<path d="M539.59 616.1H508.48M539.59 616.1H570.7" stroke="#d4174a" stroke-width="3.8" fill="none" stroke-dasharray="1.45 1.75"/>
<circle cx="539.59" cy="616.1" r="1.65" fill="#d4174a"/>
</g>
<g clip-path="url(#crc)">
<rect x="85.4" y="820.38" width="6.22" height="6.11" fill="#cccccc"/>
<rect x="91.62" y="820.38" width="6.22" height="6.11" fill="#cccccc"/>
<rect x="97.84" y="820.38" width="6.22" height="6.11" fill="#cccccc"/>
<rect x="104.07" y="820.38" width="6.22" height="6.11" fill="#cccccc"/>
<rect x="110.29" y="820.38" width="6.22" height="6.11" fill="#cccccc"/>
<rect x="116.51" y="820.38" width="6.22" height="6.11" fill="#cccccc"/>
<rect x="122.73" y="820.38" width="6.22" height="6.11" fill="#cccccc"/>
<rect x="128.95" y="820.38" width="6.22" height="6.11" fill="#cccccc"/>
<rect x="135.17" y="820.38" width="6.22" height="6.11" fill="#cccccc"/>
<rect x="141.4" y="820.38" width="6.22" height="6.11" fill="#cccccc"/>
<rect x="147.62" y="820.38" width="6.22" height="6.11" fill="#cccccc"/>
<rect x="153.84" y="820.38" width="6.22" height="6.11" fill="#cccccc"/>
<rect x="160.06" y="820.38" width="6.22" height="6.11" fill="#cccccc"/>
<rect x="166.28" y="820.38" width="6.22" height="6.11" fill="#cccccc"/>
<rect x="172.51" y="819.76" width="12.44" height="7.33" fill="#cccccc"/>
<rect x="184.95" y="819.52" width="12.44" height="7.82" fill="#cccccc"/>
<rect x="197.39" y="819.4" width="12.44" height="8.06" fill="#cccccc"/>
<rect x="209.84" y="819.15" width="12.44" height="8.55" fill="#cccccc"/>
<rect x="222.28" y="819.15" width="12.44" height="8.55" fill="#cccccc"/>
<rect x="234.72" y="819.15" width="12.44" height="8.55" fill="#cccccc"/>
<rect x="247.17" y="819.15" width="24.89" height="8.55" fill="#cccccc"/>
<rect x="272.05" y="819.15" width="24.89" height="8.55" fill="#cccccc"/>
<rect x="296.94" y="818.79" width="24.89" height="9.28" fill="#cccccc"/>
<rect x="321.83" y="818.91" width="62.22" height="9.04" fill="#cccccc"/>
<rect x="384.05" y="817.32" width="62.22" height="12.21" fill="#cccccc"/>
<rect x="446.26" y="815.12" width="62.22" height="16.61" fill="#cccccc"/>
<rect x="508.48" y="813.17" width="62.22" height="20.52" fill="#cccccc"/>
</g>
<line x1="85.4" y1="823.43" x2="91.62" y2="823.43" stroke="#000" stroke-width="1.7"/>
<line x1="91.62" y1="823.43" x2="97.84" y2="823.43" stroke="#000" stroke-width="1.7"/>
<line x1="97.84" y1="823.43" x2="104.07" y2="823.43" stroke="#000" stroke-width="1.7"/>
<line x1="104.07" y1="823.43" x2="110.29" y2="823.43" stroke="#000" stroke-width="1.7"/>
<line x1="110.29" y1="823.43" x2="116.51" y2="823.43" stroke="#000" stroke-width="1.7"/>
<line x1="116.51" y1="823.43" x2="122.73" y2="823.43" stroke="#000" stroke-width="1.7"/>
<line x1="122.73" y1="823.43" x2="128.95" y2="823.43" stroke="#000" stroke-width="1.7"/>
<line x1="128.95" y1="823.43" x2="135.17" y2="823.43" stroke="#000" stroke-width="1.7"/>
<line x1="135.17" y1="823.43" x2="141.4" y2="823.43" stroke="#000" stroke-width="1.7"/>
<line x1="141.4" y1="823.43" x2="147.62" y2="823.43" stroke="#000" stroke-width="1.7"/>
<line x1="147.62" y1="823.43" x2="153.84" y2="823.43" stroke="#000" stroke-width="1.7"/>
<line x1="153.84" y1="823.43" x2="160.06" y2="823.43" stroke="#000" stroke-width="1.7"/>
<line x1="160.06" y1="823.43" x2="166.28" y2="823.43" stroke="#000" stroke-width="1.7"/>
<line x1="166.28" y1="823.43" x2="172.51" y2="823.43" stroke="#000" stroke-width="1.7"/>
<line x1="172.51" y1="823.43" x2="184.95" y2="823.43" stroke="#000" stroke-width="1.7"/>
<line x1="184.95" y1="823.43" x2="197.39" y2="823.43" stroke="#000" stroke-width="1.7"/>
<line x1="197.39" y1="823.43" x2="209.84" y2="823.43" stroke="#000" stroke-width="1.7"/>
<line x1="209.84" y1="823.43" x2="222.28" y2="823.43" stroke="#000" stroke-width="1.7"/>
<line x1="222.28" y1="823.43" x2="234.72" y2="823.43" stroke="#000" stroke-width="1.7"/>
<line x1="234.72" y1="823.43" x2="247.17" y2="823.43" stroke="#000" stroke-width="1.7"/>
<line x1="247.17" y1="823.43" x2="272.05" y2="823.43" stroke="#000" stroke-width="1.7"/>
<line x1="272.05" y1="823.43" x2="296.94" y2="823.43" stroke="#000" stroke-width="1.7"/>
<line x1="296.94" y1="823.43" x2="321.83" y2="823.43" stroke="#000" stroke-width="1.7"/>
<line x1="321.83" y1="823.43" x2="384.05" y2="823.43" stroke="#000" stroke-width="1.7"/>
<line x1="384.05" y1="823.43" x2="446.26" y2="823.43" stroke="#000" stroke-width="1.7"/>
<line x1="415.16" y1="820.99" x2="415.16" y2="825.87" stroke="#000" stroke-width="1.7"/>
<line x1="446.26" y1="823.43" x2="508.48" y2="823.43" stroke="#000" stroke-width="1.7"/>
<line x1="477.37" y1="818.3" x2="477.37" y2="828.56" stroke="#000" stroke-width="1.7"/>
<line x1="508.48" y1="823.43" x2="570.7" y2="823.43" stroke="#000" stroke-width="1.7"/>
<line x1="539.59" y1="816.22" x2="539.59" y2="830.63" stroke="#000" stroke-width="1.7"/>
<circle cx="88.51" cy="823.43" r="5.8" fill="#000"/>
<circle cx="94.73" cy="823.43" r="5.8" fill="#000"/>
<circle cx="100.95" cy="823.43" r="5.8" fill="#000"/>
<circle cx="107.18" cy="823.43" r="5.8" fill="#000"/>
<circle cx="113.4" cy="823.43" r="5.8" fill="#000"/>
<circle cx="119.62" cy="823.43" r="5.8" fill="#000"/>
<circle cx="125.84" cy="823.43" r="5.8" fill="#000"/>
<circle cx="132.06" cy="823.43" r="5.8" fill="#000"/>
<circle cx="138.29" cy="823.43" r="5.8" fill="#000"/>
<circle cx="144.51" cy="823.43" r="5.8" fill="#000"/>
<circle cx="150.73" cy="823.43" r="5.8" fill="#000"/>
<circle cx="156.95" cy="823.43" r="5.8" fill="#000"/>
<circle cx="163.17" cy="823.43" r="5.8" fill="#000"/>
<circle cx="169.39" cy="823.43" r="5.8" fill="#000"/>
<circle cx="178.73" cy="823.43" r="5.8" fill="#000"/>
<circle cx="191.17" cy="823.43" r="5.8" fill="#000"/>
<circle cx="203.61" cy="823.43" r="5.8" fill="#000"/>
<circle cx="216.06" cy="823.43" r="5.8" fill="#000"/>
<circle cx="228.5" cy="823.43" r="5.8" fill="#000"/>
<circle cx="240.94" cy="823.43" r="5.8" fill="#000"/>
<circle cx="259.61" cy="823.43" r="5.8" fill="#000"/>
<circle cx="284.5" cy="823.43" r="5.8" fill="#000"/>
<circle cx="309.38" cy="823.43" r="5.8" fill="#000"/>
<circle cx="352.94" cy="823.43" r="5.8" fill="#000"/>
<circle cx="415.16" cy="823.43" r="5.8" fill="#000"/>
<circle cx="477.37" cy="823.43" r="5.8" fill="#000"/>
<circle cx="539.59" cy="823.43" r="5.8" fill="#000"/>
<g clip-path="url(#crc)">
<path d="M88.51 838.08H85.4M88.51 838.08H91.62" stroke="#0b46a8" stroke-width="3" fill="none"/>
<path d="M94.73 831.35H91.62M94.73 831.35H97.84" stroke="#0b46a8" stroke-width="3" fill="none"/>
<path d="M100.95 828.47H97.84M100.95 828.47H104.07" stroke="#0b46a8" stroke-width="3" fill="none"/>
<path d="M107.18 825.95H104.07M107.18 825.95H110.29" stroke="#0b46a8" stroke-width="3" fill="none"/>
<path d="M113.4 823.88H110.29M113.4 823.88H116.51" stroke="#0b46a8" stroke-width="3" fill="none"/>
<path d="M119.62 822.25H116.51M119.62 822.25H122.73" stroke="#0b46a8" stroke-width="3" fill="none"/>
<path d="M125.84 821.31H122.73M125.84 821.31H128.95" stroke="#0b46a8" stroke-width="3" fill="none"/>
<path d="M132.06 819.86H128.95M132.06 819.86H135.17" stroke="#0b46a8" stroke-width="3" fill="none"/>
<path d="M138.29 820.61H135.17M138.29 820.61H141.4" stroke="#0b46a8" stroke-width="3" fill="none"/>
<path d="M144.51 821.16H141.4M144.51 821.16H147.62" stroke="#0b46a8" stroke-width="3" fill="none"/>
<path d="M150.73 822.8H147.62M150.73 822.8H153.84" stroke="#0b46a8" stroke-width="3" fill="none"/>
<path d="M156.95 825.25H153.84M156.95 825.25H160.06" stroke="#0b46a8" stroke-width="3" fill="none"/>
<path d="M163.17 826.86H160.06M163.17 826.86H166.28" stroke="#0b46a8" stroke-width="3" fill="none"/>
<path d="M169.39 828.8H166.28M169.39 828.8H172.51" stroke="#0b46a8" stroke-width="3" fill="none"/>
<path d="M178.73 829.93H172.51M178.73 829.93H184.95" stroke="#0b46a8" stroke-width="3" fill="none"/>
<path d="M191.17 834.07H184.95M191.17 834.07H197.39" stroke="#0b46a8" stroke-width="3" fill="none"/>
<path d="M203.61 835.4H197.39M203.61 835.4H209.84" stroke="#0b46a8" stroke-width="3" fill="none"/>
<path d="M216.06 840.49H209.84M216.06 840.49H222.28" stroke="#0b46a8" stroke-width="3" fill="none"/>
<path d="M228.5 841.91H222.28M228.5 841.91H234.72" stroke="#0b46a8" stroke-width="3" fill="none"/>
<path d="M240.94 842.9H234.72M240.94 842.9H247.17" stroke="#0b46a8" stroke-width="3" fill="none"/>
<path d="M259.61 842.61H247.17M259.61 842.61H272.05" stroke="#0b46a8" stroke-width="3" fill="none"/>
<path d="M284.5 843.72H272.05M284.5 843.72H296.94" stroke="#0b46a8" stroke-width="3" fill="none"/>
<path d="M309.38 846.13H296.94M309.38 846.13H321.83" stroke="#0b46a8" stroke-width="3" fill="none"/>
<path d="M352.94 842.37H321.83M352.94 842.37H384.05" stroke="#0b46a8" stroke-width="3" fill="none"/>
<path d="M415.16 836.54H384.05M415.16 836.54H446.26M415.16 836.54V834.47M415.16 836.54V838.61" stroke="#0b46a8" stroke-width="3" fill="none"/>
<path d="M477.37 842.48H446.26M477.37 842.48H508.48M477.37 842.48V840.01M477.37 842.48V844.96" stroke="#0b46a8" stroke-width="3" fill="none"/>
<path d="M539.59 831.14H508.48M539.59 831.14H570.7M539.59 831.14V827.71M539.59 831.14V834.57" stroke="#0b46a8" stroke-width="3" fill="none"/>
</g>
<g clip-path="url(#crc)">
<path d="M88.51 829.18H85.4M88.51 829.18H91.62" stroke="#66cc00" stroke-width="3.2" fill="none" stroke-dasharray="3.3 3.13"/>
<path d="M94.73 841.81H91.62M94.73 841.81H97.84" stroke="#66cc00" stroke-width="3.2" fill="none" stroke-dasharray="3.3 3.13"/>
<path d="M100.95 848.61H97.84M100.95 848.61H104.07" stroke="#66cc00" stroke-width="3.2" fill="none" stroke-dasharray="3.3 3.13"/>
<path d="M107.18 853.36H104.07M107.18 853.36H110.29" stroke="#66cc00" stroke-width="3.2" fill="none" stroke-dasharray="3.3 3.13"/>
<path d="M113.4 856.65H110.29M113.4 856.65H116.51" stroke="#66cc00" stroke-width="3.2" fill="none" stroke-dasharray="3.3 3.13"/>
<path d="M119.62 858.25H116.51M119.62 858.25H122.73" stroke="#66cc00" stroke-width="3.2" fill="none" stroke-dasharray="3.3 3.13"/>
<path d="M125.84 859.5H122.73M125.84 859.5H128.95" stroke="#66cc00" stroke-width="3.2" fill="none" stroke-dasharray="3.3 3.13"/>
<path d="M132.06 860.41H128.95M132.06 860.41H135.17" stroke="#66cc00" stroke-width="3.2" fill="none" stroke-dasharray="3.3 3.13"/>
<path d="M138.29 861.34H135.17M138.29 861.34H141.4" stroke="#66cc00" stroke-width="3.2" fill="none" stroke-dasharray="3.3 3.13"/>
<path d="M144.51 862.68H141.4M144.51 862.68H147.62" stroke="#66cc00" stroke-width="3.2" fill="none" stroke-dasharray="3.3 3.13"/>
<path d="M150.73 864.04H147.62M150.73 864.04H153.84" stroke="#66cc00" stroke-width="3.2" fill="none" stroke-dasharray="3.3 3.13"/>
<path d="M156.95 863.93H153.84M156.95 863.93H160.06" stroke="#66cc00" stroke-width="3.2" fill="none" stroke-dasharray="3.3 3.13"/>
<path d="M163.17 863.77H160.06M163.17 863.77H166.28" stroke="#66cc00" stroke-width="3.2" fill="none" stroke-dasharray="3.3 3.13"/>
<path d="M169.39 865.16H166.28M169.39 865.16H172.51" stroke="#66cc00" stroke-width="3.2" fill="none" stroke-dasharray="3.3 3.13"/>
<path d="M178.73 863.86H172.51M178.73 863.86H184.95" stroke="#66cc00" stroke-width="3.2" fill="none" stroke-dasharray="3.3 3.13"/>
<path d="M191.17 864.13H184.95M191.17 864.13H197.39" stroke="#66cc00" stroke-width="3.2" fill="none" stroke-dasharray="3.3 3.13"/>
<path d="M203.61 860.61H197.39M203.61 860.61H209.84" stroke="#66cc00" stroke-width="3.2" fill="none" stroke-dasharray="3.3 3.13"/>
<path d="M216.06 862.56H209.84M216.06 862.56H222.28" stroke="#66cc00" stroke-width="3.2" fill="none" stroke-dasharray="3.3 3.13"/>
<path d="M228.5 860.39H222.28M228.5 860.39H234.72" stroke="#66cc00" stroke-width="3.2" fill="none" stroke-dasharray="3.3 3.13"/>
<path d="M240.94 857.72H234.72M240.94 857.72H247.17" stroke="#66cc00" stroke-width="3.2" fill="none" stroke-dasharray="3.3 3.13"/>
<path d="M259.61 856.16H247.17M259.61 856.16H272.05" stroke="#66cc00" stroke-width="3.2" fill="none" stroke-dasharray="3.3 3.13"/>
<path d="M284.5 854.73H272.05M284.5 854.73H296.94" stroke="#66cc00" stroke-width="3.2" fill="none" stroke-dasharray="3.3 3.13"/>
<path d="M309.38 857.11H296.94M309.38 857.11H321.83" stroke="#66cc00" stroke-width="3.2" fill="none" stroke-dasharray="3.3 3.13"/>
<path d="M352.94 852.52H321.83M352.94 852.52H384.05" stroke="#66cc00" stroke-width="3.2" fill="none" stroke-dasharray="3.3 3.13"/>
<path d="M415.16 851.27H384.05M415.16 851.27H446.26M415.16 851.27V849.48M415.16 851.27V853.06" stroke="#66cc00" stroke-width="3.2" fill="none" stroke-dasharray="3.3 3.13"/>
<path d="M477.37 845.12H446.26M477.37 845.12H508.48M477.37 845.12V842.71M477.37 845.12V847.53" stroke="#66cc00" stroke-width="3.2" fill="none" stroke-dasharray="3.3 3.13"/>
<path d="M539.59 834.01H508.48M539.59 834.01H570.7M539.59 834.01V830.71M539.59 834.01V837.31" stroke="#66cc00" stroke-width="3.2" fill="none" stroke-dasharray="3.3 3.13"/>
</g>
<g clip-path="url(#crc)">
<path d="M88.51 812.44H85.4M88.51 812.44H91.62" stroke="#d4174a" stroke-width="3.8" fill="none" stroke-dasharray="1.45 1.75"/>
<circle cx="88.51" cy="812.44" r="1.65" fill="#d4174a"/>
<path d="M94.73 821.53H91.62M94.73 821.53H97.84" stroke="#d4174a" stroke-width="3.8" fill="none" stroke-dasharray="1.45 1.75"/>
<circle cx="94.73" cy="821.53" r="1.65" fill="#d4174a"/>
<path d="M100.95 825.95H97.84M100.95 825.95H104.07" stroke="#d4174a" stroke-width="3.8" fill="none" stroke-dasharray="1.45 1.75"/>
<circle cx="100.95" cy="825.95" r="1.65" fill="#d4174a"/>
<path d="M107.18 829.38H104.07M107.18 829.38H110.29" stroke="#d4174a" stroke-width="3.8" fill="none" stroke-dasharray="1.45 1.75"/>
<circle cx="107.18" cy="829.38" r="1.65" fill="#d4174a"/>
<path d="M113.4 830.79H110.29M113.4 830.79H116.51" stroke="#d4174a" stroke-width="3.8" fill="none" stroke-dasharray="1.45 1.75"/>
<circle cx="113.4" cy="830.79" r="1.65" fill="#d4174a"/>
<path d="M119.62 831.18H116.51M119.62 831.18H122.73" stroke="#d4174a" stroke-width="3.8" fill="none" stroke-dasharray="1.45 1.75"/>
<circle cx="119.62" cy="831.18" r="1.65" fill="#d4174a"/>
<path d="M125.84 832.36H122.73M125.84 832.36H128.95" stroke="#d4174a" stroke-width="3.8" fill="none" stroke-dasharray="1.45 1.75"/>
<circle cx="125.84" cy="832.36" r="1.65" fill="#d4174a"/>
<path d="M132.06 832.4H128.95M132.06 832.4H135.17" stroke="#d4174a" stroke-width="3.8" fill="none" stroke-dasharray="1.45 1.75"/>
<circle cx="132.06" cy="832.4" r="1.65" fill="#d4174a"/>
<path d="M138.29 832.48H135.17M138.29 832.48H141.4" stroke="#d4174a" stroke-width="3.8" fill="none" stroke-dasharray="1.45 1.75"/>
<circle cx="138.29" cy="832.48" r="1.65" fill="#d4174a"/>
<path d="M144.51 832.7H141.4M144.51 832.7H147.62" stroke="#d4174a" stroke-width="3.8" fill="none" stroke-dasharray="1.45 1.75"/>
<circle cx="144.51" cy="832.7" r="1.65" fill="#d4174a"/>
<path d="M150.73 832.7H147.62M150.73 832.7H153.84" stroke="#d4174a" stroke-width="3.8" fill="none" stroke-dasharray="1.45 1.75"/>
<circle cx="150.73" cy="832.7" r="1.65" fill="#d4174a"/>
<path d="M156.95 832.69H153.84M156.95 832.69H160.06" stroke="#d4174a" stroke-width="3.8" fill="none" stroke-dasharray="1.45 1.75"/>
<circle cx="156.95" cy="832.69" r="1.65" fill="#d4174a"/>
<path d="M163.17 833.55H160.06M163.17 833.55H166.28" stroke="#d4174a" stroke-width="3.8" fill="none" stroke-dasharray="1.45 1.75"/>
<circle cx="163.17" cy="833.55" r="1.65" fill="#d4174a"/>
<path d="M169.39 833.35H166.28M169.39 833.35H172.51" stroke="#d4174a" stroke-width="3.8" fill="none" stroke-dasharray="1.45 1.75"/>
<circle cx="169.39" cy="833.35" r="1.65" fill="#d4174a"/>
<path d="M178.73 830.73H172.51M178.73 830.73H184.95" stroke="#d4174a" stroke-width="3.8" fill="none" stroke-dasharray="1.45 1.75"/>
<circle cx="178.73" cy="830.73" r="1.65" fill="#d4174a"/>
<path d="M191.17 830.16H184.95M191.17 830.16H197.39" stroke="#d4174a" stroke-width="3.8" fill="none" stroke-dasharray="1.45 1.75"/>
<circle cx="191.17" cy="830.16" r="1.65" fill="#d4174a"/>
<path d="M203.61 827.34H197.39M203.61 827.34H209.84" stroke="#d4174a" stroke-width="3.8" fill="none" stroke-dasharray="1.45 1.75"/>
<circle cx="203.61" cy="827.34" r="1.65" fill="#d4174a"/>
<path d="M216.06 828.05H209.84M216.06 828.05H222.28" stroke="#d4174a" stroke-width="3.8" fill="none" stroke-dasharray="1.45 1.75"/>
<circle cx="216.06" cy="828.05" r="1.65" fill="#d4174a"/>
<path d="M228.5 826.41H222.28M228.5 826.41H234.72" stroke="#d4174a" stroke-width="3.8" fill="none" stroke-dasharray="1.45 1.75"/>
<circle cx="228.5" cy="826.41" r="1.65" fill="#d4174a"/>
<path d="M240.94 824.73H234.72M240.94 824.73H247.17" stroke="#d4174a" stroke-width="3.8" fill="none" stroke-dasharray="1.45 1.75"/>
<circle cx="240.94" cy="824.73" r="1.65" fill="#d4174a"/>
<path d="M259.61 823.2H247.17M259.61 823.2H272.05" stroke="#d4174a" stroke-width="3.8" fill="none" stroke-dasharray="1.45 1.75"/>
<circle cx="259.61" cy="823.2" r="1.65" fill="#d4174a"/>
<path d="M284.5 821.53H272.05M284.5 821.53H296.94" stroke="#d4174a" stroke-width="3.8" fill="none" stroke-dasharray="1.45 1.75"/>
<circle cx="284.5" cy="821.53" r="1.65" fill="#d4174a"/>
<path d="M309.38 823.43H296.94M309.38 823.43H321.83" stroke="#d4174a" stroke-width="3.8" fill="none" stroke-dasharray="1.45 1.75"/>
<circle cx="309.38" cy="823.43" r="1.65" fill="#d4174a"/>
<path d="M352.94 821.86H321.83M352.94 821.86H384.05" stroke="#d4174a" stroke-width="3.8" fill="none" stroke-dasharray="1.45 1.75"/>
<circle cx="352.94" cy="821.86" r="1.65" fill="#d4174a"/>
<path d="M415.16 817.76H384.05M415.16 817.76H446.26" stroke="#d4174a" stroke-width="3.8" fill="none" stroke-dasharray="1.45 1.75"/>
<circle cx="415.16" cy="817.76" r="1.65" fill="#d4174a"/>
<path d="M477.37 819.93H446.26M477.37 819.93H508.48" stroke="#d4174a" stroke-width="3.8" fill="none" stroke-dasharray="1.45 1.75"/>
<circle cx="477.37" cy="819.93" r="1.65" fill="#d4174a"/>
<path d="M539.59 805.96H508.48M539.59 805.96H570.7" stroke="#d4174a" stroke-width="3.8" fill="none" stroke-dasharray="1.45 1.75"/>
<circle cx="539.59" cy="805.96" r="1.65" fill="#d4174a"/>
</g>
<rect x="85.4" y="529.7" width="485.3" height="354.8" fill="none" stroke="#000" stroke-width="1.3"/>
<line x1="85.4" y1="799" x2="570.7" y2="799" stroke="#000" stroke-width="1.6"/>
<path d="M97.84 529.7v3.5M97.84 799v-3.5M97.84 799v2M97.84 884.5v-2M110.29 529.7v3.5M110.29 799v-3.5M110.29 799v2M110.29 884.5v-2M122.73 529.7v3.5M122.73 799v-3.5M122.73 799v2M122.73 884.5v-2M135.17 529.7v7M135.17 799v-7M135.17 799v4M135.17 884.5v-4M147.62 529.7v3.5M147.62 799v-3.5M147.62 799v2M147.62 884.5v-2M160.06 529.7v3.5M160.06 799v-3.5M160.06 799v2M160.06 884.5v-2M172.51 529.7v3.5M172.51 799v-3.5M172.51 799v2M172.51 884.5v-2M184.95 529.7v3.5M184.95 799v-3.5M184.95 799v2M184.95 884.5v-2M197.39 529.7v7M197.39 799v-7M197.39 799v4M197.39 884.5v-4M209.84 529.7v3.5M209.84 799v-3.5M209.84 799v2M209.84 884.5v-2M222.28 529.7v3.5M222.28 799v-3.5M222.28 799v2M222.28 884.5v-2M234.72 529.7v3.5M234.72 799v-3.5M234.72 799v2M234.72 884.5v-2M247.17 529.7v3.5M247.17 799v-3.5M247.17 799v2M247.17 884.5v-2M259.61 529.7v7M259.61 799v-7M259.61 799v4M259.61 884.5v-4M272.05 529.7v3.5M272.05 799v-3.5M272.05 799v2M272.05 884.5v-2M284.5 529.7v3.5M284.5 799v-3.5M284.5 799v2M284.5 884.5v-2M296.94 529.7v3.5M296.94 799v-3.5M296.94 799v2M296.94 884.5v-2M309.38 529.7v3.5M309.38 799v-3.5M309.38 799v2M309.38 884.5v-2M321.83 529.7v7M321.83 799v-7M321.83 799v4M321.83 884.5v-4M334.27 529.7v3.5M334.27 799v-3.5M334.27 799v2M334.27 884.5v-2M346.72 529.7v3.5M346.72 799v-3.5M346.72 799v2M346.72 884.5v-2M359.16 529.7v3.5M359.16 799v-3.5M359.16 799v2M359.16 884.5v-2M371.6 529.7v3.5M371.6 799v-3.5M371.6 799v2M371.6 884.5v-2M384.05 529.7v7M384.05 799v-7M384.05 799v4M384.05 884.5v-4M396.49 529.7v3.5M396.49 799v-3.5M396.49 799v2M396.49 884.5v-2M408.93 529.7v3.5M408.93 799v-3.5M408.93 799v2M408.93 884.5v-2M421.38 529.7v3.5M421.38 799v-3.5M421.38 799v2M421.38 884.5v-2M433.82 529.7v3.5M433.82 799v-3.5M433.82 799v2M433.82 884.5v-2M446.26 529.7v7M446.26 799v-7M446.26 799v4M446.26 884.5v-4M458.71 529.7v3.5M458.71 799v-3.5M458.71 799v2M458.71 884.5v-2M471.15 529.7v3.5M471.15 799v-3.5M471.15 799v2M471.15 884.5v-2M483.59 529.7v3.5M483.59 799v-3.5M483.59 799v2M483.59 884.5v-2M496.04 529.7v3.5M496.04 799v-3.5M496.04 799v2M496.04 884.5v-2M508.48 529.7v7M508.48 799v-7M508.48 799v4M508.48 884.5v-4M520.93 529.7v3.5M520.93 799v-3.5M520.93 799v2M520.93 884.5v-2M533.37 529.7v3.5M533.37 799v-3.5M533.37 799v2M533.37 884.5v-2M545.81 529.7v3.5M545.81 799v-3.5M545.81 799v2M545.81 884.5v-2M558.26 529.7v3.5M558.26 799v-3.5M558.26 799v2M558.26 884.5v-2M85.4 779.9h8M570.7 779.9h-8M85.4 759.05h8M570.7 759.05h-8M85.4 738.2h8M570.7 738.2h-8M85.4 717.35h8M570.7 717.35h-8M85.4 696.5h16M570.7 696.5h-16M85.4 675.65h8M570.7 675.65h-8M85.4 654.8h8M570.7 654.8h-8M85.4 633.95h8M570.7 633.95h-8M85.4 613.1h8M570.7 613.1h-8M85.4 592.25h16M570.7 592.25h-16M85.4 571.4h8M570.7 571.4h-8M85.4 550.55h8M570.7 550.55h-8M85.4 872.29h9.7M570.7 872.29h-9.7M85.4 860.07h4.7M570.7 860.07h-4.7M85.4 847.86h9.7M570.7 847.86h-9.7M85.4 835.64h4.7M570.7 835.64h-4.7M85.4 823.43h9.7M570.7 823.43h-9.7M85.4 811.21h4.7M570.7 811.21h-4.7" stroke="#000" stroke-width="1.3" fill="none"/>
<text transform="translate(129.17 903) scale(1 1.045)" font-size="21.6" font-family="'Liberation Sans', sans-serif" fill="#000" style="white-space:pre;font-kerning:none">5</text>
<text transform="translate(185.38 903) scale(1 1.045)" font-size="21.6" font-family="'Liberation Sans', sans-serif" fill="#000" style="white-space:pre;font-kerning:none"> 0</text>
<path transform="translate(185.38 903) scale(21.600 -22.572)" d="M.359 0V.703H.29C.266 .632 .205 .588 .101 .574V.503C.172 .511 .232 .535 .268 .566V0Z" fill="#000"/>
<text transform="translate(247.6 903) scale(1 1.045)" font-size="21.6" font-family="'Liberation Sans', sans-serif" fill="#000" style="white-space:pre;font-kerning:none"> 5</text>
<path transform="translate(247.6 903) scale(21.600 -22.572)" d="M.359 0V.703H.29C.266 .632 .205 .588 .101 .574V.503C.172 .511 .232 .535 .268 .566V0Z" fill="#000"/>
<text transform="translate(309.82 903) scale(1 1.045)" font-size="21.6" font-family="'Liberation Sans', sans-serif" fill="#000" style="white-space:pre;font-kerning:none">20</text>
<text transform="translate(372.03 903) scale(1 1.045)" font-size="21.6" font-family="'Liberation Sans', sans-serif" fill="#000" style="white-space:pre;font-kerning:none">25</text>
<text transform="translate(434.25 903) scale(1 1.045)" font-size="21.6" font-family="'Liberation Sans', sans-serif" fill="#000" style="white-space:pre;font-kerning:none">30</text>
<text transform="translate(496.47 903) scale(1 1.045)" font-size="21.6" font-family="'Liberation Sans', sans-serif" fill="#000" style="white-space:pre;font-kerning:none">35</text>
<text transform="translate(558.69 903) scale(1 1.045)" font-size="21.6" font-family="'Liberation Sans', sans-serif" fill="#000" style="white-space:pre;font-kerning:none">40</text>
<text transform="translate(40.67 704) scale(1 1.045)" font-size="21.6" font-family="'Liberation Sans', sans-serif" fill="#000" style="white-space:pre;font-kerning:none">0.05</text>
<text transform="translate(56.03 599.75) scale(1 1.045)" font-size="21.6" font-family="'Liberation Sans', sans-serif" fill="#000" style="white-space:pre;font-kerning:none">0. </text>
<path transform="translate(74.05 599.75) scale(21.600 -22.572)" d="M.359 0V.703H.29C.266 .632 .205 .588 .101 .574V.503C.172 .511 .232 .535 .268 .566V0Z" fill="#000"/>
<text transform="translate(52.72 879.79) scale(1 1.045)" font-size="21.6" font-family="'Liberation Sans', sans-serif" fill="#000" style="white-space:pre;font-kerning:none">0.6</text>
<text transform="translate(52.71 855.36) scale(1 1.045)" font-size="21.6" font-family="'Liberation Sans', sans-serif" fill="#000" style="white-space:pre;font-kerning:none">0.8</text>
<text transform="translate(74.05 831.83) scale(1 1.045)" font-size="21.6" font-family="'Liberation Sans', sans-serif" fill="#000" style="white-space:pre;font-kerning:none"> </text>
<path transform="translate(74.05 831.83) scale(21.600 -22.572)" d="M.359 0V.703H.29C.266 .632 .205 .588 .101 .574V.503C.172 .511 .232 .535 .268 .566V0Z" fill="#000"/>
<text transform="translate(378.84 938.8) scale(1 1.045)" font-size="21.4" font-family="'Liberation Sans', sans-serif" fill="#000" style="white-space:pre;font-kerning:none">Leading-jet p</text>
<text transform="translate(502.58 950.8) scale(1 1.045)" font-size="15.2" font-family="'Liberation Sans', sans-serif" fill="#000" style="white-space:pre;font-kerning:none">T</text>
<text transform="translate(511.87 938.8) scale(1 1.045)" font-size="21.4" font-family="'Liberation Sans', sans-serif" fill="#000" style="white-space:pre;font-kerning:none"> [GeV]</text>
<text transform="translate(24.9 799.1) rotate(-90) scale(1 1.045)" font-size="21.45" text-anchor="end" font-family="'Liberation Sans', sans-serif">MC/Data</text>
<path d="M6.4 671.4 L16.4 677.2 L26.4 671.4" stroke="#000" fill="none" stroke-width="1.2"/>
<path d="M6.4 605.6 L16.4 599.9 L26.4 605.6" stroke="#000" fill="none" stroke-width="1.2"/>
<text transform="translate(22 664.5) rotate(-90) scale(1 1.045)" font-size="21" font-family="'Liberation Sans', sans-serif">N(K</text>
<text transform="translate(10.8 628) rotate(-90) scale(1 1.045)" font-size="14.5" font-family="'Liberation Sans', sans-serif">0</text>
<text transform="translate(34 628.3) rotate(-90) scale(1 1.045)" font-size="15" font-family="'Liberation Sans', sans-serif">S</text>
<text transform="translate(22 619) rotate(-90) scale(1 1.045)" font-size="21" font-family="'Liberation Sans', sans-serif">)</text>
<text transform="translate(22 594.3) rotate(-90) scale(1 1.045)" font-size="21" font-family="'Liberation Sans', sans-serif">/</text>
<text transform="translate(22 580.6) rotate(-90) scale(1 1.045)" font-size="22" font-family="'Liberation Serif', serif">&#948;&#951;</text>
<text transform="translate(22 551.83) rotate(-90) scale(1 1.045)" font-size="22" font-family="'Liberation Serif', serif">&#948;&#981;</text>
<rect x="110.8" y="543.2" width="82.5" height="12.6" fill="#cccccc"/>
<line x1="110.8" y1="549.5" x2="193.3" y2="549.5" stroke="#000" stroke-width="1.7"/>
<circle cx="152" cy="549.5" r="5.8" fill="#000"/>
<line x1="110.8" y1="567.3" x2="193.3" y2="567.3" stroke="#0b46a8" stroke-width="3"/>
<line x1="110.8" y1="585.2" x2="193.3" y2="585.2" stroke="#66cc00" stroke-width="3.3" stroke-dasharray="3.3 3.13"/>
<line x1="110.8" y1="602.9" x2="193.3" y2="602.9" stroke="#d4174a" stroke-width="3.8" stroke-dasharray="1.45 1.75"/>
<text transform="translate(211.2 553.2) scale(1 1.045)" font-size="16.9" font-family="'Liberation Sans', sans-serif" fill="#000" style="white-space:pre;font-kerning:none">Data</text>
<text transform="translate(211.2 571) scale(1 1.045)" font-size="16.9" font-family="'Liberation Sans', sans-serif" fill="#000" style="white-space:pre;font-kerning:none">EPOS-LHC</text>
<text transform="translate(211.2 588.7) scale(1 1.045)" font-size="16.9" font-family="'Liberation Sans', sans-serif" fill="#000" style="white-space:pre;font-kerning:none">PY8-A2</text>
<text transform="translate(211.2 606.5) scale(1 1.045)" font-size="16.9" font-family="'Liberation Sans', sans-serif" fill="#000" style="white-space:pre;font-kerning:none">PY8-MONASH+CR</text>
<path d="M214.85 750.45 L217.65 762.55 L220.75 744.15 L233.45 744.15" stroke="#000" fill="none" stroke-width="1.1" stroke-linejoin="miter"/>
<path d="M215.15 750.75 L217.65 762.15" stroke="#000" fill="none" stroke-width="2"/>
<text transform="translate(223.45 762.45) scale(1 1.045)" font-size="21.3" font-family="'Liberation Sans', sans-serif" fill="#000" style="white-space:pre;font-kerning:none">s= 3 TeV</text>
<path transform="translate(246.54 762.45) scale(21.300 -22.258)" d="M.359 0V.703H.29C.266 .632 .205 .588 .101 .574V.503C.172 .511 .232 .535 .268 .566V0Z" fill="#000"/>
<text transform="translate(211.65 785.65) scale(1 1.045)" font-size="21.3" font-family="'Liberation Sans', sans-serif" fill="#000" style="white-space:pre;font-kerning:none">67x 0</text>
<path transform="translate(245.99 785.65) scale(21.300 -22.258)" d="M.359 0V.703H.29C.266 .632 .205 .588 .101 .574V.503C.172 .511 .232 .535 .268 .566V0Z" fill="#000"/>
<text transform="translate(269.68 775.95) scale(1 1.045)" font-size="14.8" font-family="'Liberation Sans', sans-serif" fill="#000" style="white-space:pre;font-kerning:none">6</text>
<text transform="translate(277.92 785.65) scale(1 1.045)" font-size="21.3" font-family="'Liberation Sans', sans-serif" fill="#000" style="white-space:pre;font-kerning:none"> Events</text>
<text transform="translate(363.85 762.55) scale(1 1.045)" font-size="21.7" font-family="'Liberation Sans', sans-serif" font-weight="bold" font-style="italic" fill="#000" style="white-space:pre;font-kerning:none">ATLAS</text>
<text transform="translate(363.85 785.65) scale(1 1.045)" font-size="21.65" font-family="'Liberation Sans', sans-serif" fill="#000" style="white-space:pre;font-kerning:none">Towards Region</text>
<text x="290.6" y="990.3" font-size="24" text-anchor="middle" font-family="'Liberation Serif', serif">(c)</text>
<clipPath id="cmd"><rect x="694.2" y="529.6" width="485.5" height="269.6"/></clipPath>
<clipPath id="crd"><rect x="694.2" y="799.2" width="485.5" height="85"/></clipPath>
<g clip-path="url(#cmd)">
<rect x="694.2" y="662.82" width="6.22" height="14.76" fill="#cccccc"/>
<rect x="700.42" y="652.15" width="6.22" height="13.7" fill="#cccccc"/>
<rect x="706.65" y="647.98" width="6.22" height="12.04" fill="#cccccc"/>
<rect x="712.87" y="644.17" width="6.22" height="12.26" fill="#cccccc"/>
<rect x="719.1" y="642.01" width="6.22" height="12.39" fill="#cccccc"/>
<rect x="725.32" y="641.49" width="6.22" height="12.42" fill="#cccccc"/>
<rect x="731.55" y="641.49" width="6.22" height="12.42" fill="#cccccc"/>
<rect x="737.77" y="641.7" width="6.22" height="12.4" fill="#cccccc"/>
<rect x="743.99" y="642.01" width="6.22" height="12.39" fill="#cccccc"/>
<rect x="750.22" y="642.21" width="6.22" height="12.38" fill="#cccccc"/>
<rect x="756.44" y="642.62" width="6.22" height="12.35" fill="#cccccc"/>
<rect x="762.67" y="642.83" width="6.22" height="12.34" fill="#cccccc"/>
<rect x="768.89" y="643.45" width="6.22" height="12.3" fill="#cccccc"/>
<rect x="775.12" y="645.1" width="6.22" height="12.21" fill="#cccccc"/>
<rect x="781.34" y="647.57" width="12.45" height="12.06" fill="#cccccc"/>
<rect x="793.79" y="650.45" width="12.45" height="11.9" fill="#cccccc"/>
<rect x="806.24" y="655.91" width="12.45" height="11.58" fill="#cccccc"/>
<rect x="818.69" y="654.16" width="12.45" height="11.68" fill="#cccccc"/>
<rect x="831.14" y="658.49" width="12.45" height="11.43" fill="#cccccc"/>
<rect x="843.58" y="663.12" width="12.45" height="11.16" fill="#cccccc"/>
<rect x="856.03" y="663.6" width="24.9" height="12.21" fill="#cccccc"/>
<rect x="880.93" y="665.97" width="24.9" height="12.05" fill="#cccccc"/>
<rect x="905.83" y="663.91" width="24.9" height="12.19" fill="#cccccc"/>
<rect x="930.73" y="671.3" width="62.24" height="12.4" fill="#cccccc"/>
<rect x="992.97" y="674.34" width="62.24" height="15.53" fill="#cccccc"/>
<rect x="1055.21" y="673.48" width="62.24" height="18.24" fill="#cccccc"/>
<rect x="1117.46" y="684.06" width="62.24" height="27.88" fill="#cccccc"/>
</g>
<line x1="694.2" y1="670.2" x2="700.42" y2="670.2" stroke="#000" stroke-width="1.7"/>
<line x1="700.42" y1="659" x2="706.65" y2="659" stroke="#000" stroke-width="1.7"/>
<line x1="706.65" y1="654" x2="712.87" y2="654" stroke="#000" stroke-width="1.7"/>
<line x1="712.87" y1="650.3" x2="719.1" y2="650.3" stroke="#000" stroke-width="1.7"/>
<line x1="719.1" y1="648.2" x2="725.32" y2="648.2" stroke="#000" stroke-width="1.7"/>
<line x1="725.32" y1="647.7" x2="731.55" y2="647.7" stroke="#000" stroke-width="1.7"/>
<line x1="731.55" y1="647.7" x2="737.77" y2="647.7" stroke="#000" stroke-width="1.7"/>
<line x1="737.77" y1="647.9" x2="743.99" y2="647.9" stroke="#000" stroke-width="1.7"/>
<line x1="743.99" y1="648.2" x2="750.22" y2="648.2" stroke="#000" stroke-width="1.7"/>
<line x1="750.22" y1="648.4" x2="756.44" y2="648.4" stroke="#000" stroke-width="1.7"/>
<line x1="756.44" y1="648.8" x2="762.67" y2="648.8" stroke="#000" stroke-width="1.7"/>
<line x1="762.67" y1="649" x2="768.89" y2="649" stroke="#000" stroke-width="1.7"/>
<line x1="768.89" y1="649.6" x2="775.12" y2="649.6" stroke="#000" stroke-width="1.7"/>
<line x1="775.12" y1="651.2" x2="781.34" y2="651.2" stroke="#000" stroke-width="1.7"/>
<line x1="781.34" y1="653.6" x2="793.79" y2="653.6" stroke="#000" stroke-width="1.7"/>
<line x1="793.79" y1="656.4" x2="806.24" y2="656.4" stroke="#000" stroke-width="1.7"/>
<line x1="806.24" y1="661.7" x2="818.69" y2="661.7" stroke="#000" stroke-width="1.7"/>
<line x1="818.69" y1="660" x2="831.14" y2="660" stroke="#000" stroke-width="1.7"/>
<line x1="831.14" y1="664.2" x2="843.58" y2="664.2" stroke="#000" stroke-width="1.7"/>
<line x1="843.58" y1="668.7" x2="856.03" y2="668.7" stroke="#000" stroke-width="1.7"/>
<line x1="856.03" y1="669.7" x2="880.93" y2="669.7" stroke="#000" stroke-width="1.7"/>
<line x1="880.93" y1="672" x2="905.83" y2="672" stroke="#000" stroke-width="1.7"/>
<line x1="905.83" y1="670" x2="930.73" y2="670" stroke="#000" stroke-width="1.7"/>
<line x1="930.73" y1="677.5" x2="992.97" y2="677.5" stroke="#000" stroke-width="1.7"/>
<line x1="992.97" y1="682.1" x2="1055.21" y2="682.1" stroke="#000" stroke-width="1.7"/>
<line x1="1055.21" y1="682.6" x2="1117.46" y2="682.6" stroke="#000" stroke-width="1.7"/>
<line x1="1086.33" y1="678.3" x2="1086.33" y2="686.9" stroke="#000" stroke-width="1.7"/>
<line x1="1117.46" y1="698" x2="1179.7" y2="698" stroke="#000" stroke-width="1.7"/>
<line x1="1148.58" y1="688.44" x2="1148.58" y2="707.56" stroke="#000" stroke-width="1.7"/>
<circle cx="697.31" cy="670.2" r="5.8" fill="#000"/>
<circle cx="703.54" cy="659" r="5.8" fill="#000"/>
<circle cx="709.76" cy="654" r="5.8" fill="#000"/>
<circle cx="715.99" cy="650.3" r="5.8" fill="#000"/>
<circle cx="722.21" cy="648.2" r="5.8" fill="#000"/>
<circle cx="728.43" cy="647.7" r="5.8" fill="#000"/>
<circle cx="734.66" cy="647.7" r="5.8" fill="#000"/>
<circle cx="740.88" cy="647.9" r="5.8" fill="#000"/>
<circle cx="747.11" cy="648.2" r="5.8" fill="#000"/>
<circle cx="753.33" cy="648.4" r="5.8" fill="#000"/>
<circle cx="759.56" cy="648.8" r="5.8" fill="#000"/>
<circle cx="765.78" cy="649" r="5.8" fill="#000"/>
<circle cx="772" cy="649.6" r="5.8" fill="#000"/>
<circle cx="778.23" cy="651.2" r="5.8" fill="#000"/>
<circle cx="787.57" cy="653.6" r="5.8" fill="#000"/>
<circle cx="800.01" cy="656.4" r="5.8" fill="#000"/>
<circle cx="812.46" cy="661.7" r="5.8" fill="#000"/>
<circle cx="824.91" cy="660" r="5.8" fill="#000"/>
<circle cx="837.36" cy="664.2" r="5.8" fill="#000"/>
<circle cx="849.81" cy="668.7" r="5.8" fill="#000"/>
<circle cx="868.48" cy="669.7" r="5.8" fill="#000"/>
<circle cx="893.38" cy="672" r="5.8" fill="#000"/>
<circle cx="918.28" cy="670" r="5.8" fill="#000"/>
<circle cx="961.85" cy="677.5" r="5.8" fill="#000"/>
<circle cx="1024.09" cy="682.1" r="5.8" fill="#000"/>
<circle cx="1086.33" cy="682.6" r="5.8" fill="#000"/>
<circle cx="1148.58" cy="698" r="5.8" fill="#000"/>
<g clip-path="url(#cmd)">
<path d="M697.31 692.4H694.2M697.31 692.4H700.42" stroke="#0b46a8" stroke-width="3" fill="none"/>
<path d="M703.54 680H700.42M703.54 680H706.65" stroke="#0b46a8" stroke-width="3" fill="none"/>
<path d="M709.76 672.4H706.65M709.76 672.4H712.87" stroke="#0b46a8" stroke-width="3" fill="none"/>
<path d="M715.99 667.5H712.87M715.99 667.5H719.1" stroke="#0b46a8" stroke-width="3" fill="none"/>
<path d="M722.21 664.5H719.1M722.21 664.5H725.32" stroke="#0b46a8" stroke-width="3" fill="none"/>
<path d="M728.43 662.4H725.32M728.43 662.4H731.55" stroke="#0b46a8" stroke-width="3" fill="none"/>
<path d="M734.66 661.4H731.55M734.66 661.4H737.77" stroke="#0b46a8" stroke-width="3" fill="none"/>
<path d="M740.88 660.5H737.77M740.88 660.5H743.99" stroke="#0b46a8" stroke-width="3" fill="none"/>
<path d="M747.11 660.8H743.99M747.11 660.8H750.22" stroke="#0b46a8" stroke-width="3" fill="none"/>
<path d="M753.33 660.3H750.22M753.33 660.3H756.44" stroke="#0b46a8" stroke-width="3" fill="none"/>
<path d="M759.56 661.4H756.44M759.56 661.4H762.67" stroke="#0b46a8" stroke-width="3" fill="none"/>
<path d="M765.78 663.8H762.67M765.78 663.8H768.89" stroke="#0b46a8" stroke-width="3" fill="none"/>
<path d="M772 664H768.89M772 664H775.12" stroke="#0b46a8" stroke-width="3" fill="none"/>
<path d="M778.23 664.9H775.12M778.23 664.9H781.34" stroke="#0b46a8" stroke-width="3" fill="none"/>
<path d="M787.57 665.2H781.34M787.57 665.2H793.79" stroke="#0b46a8" stroke-width="3" fill="none"/>
<path d="M800.01 668.3H793.79M800.01 668.3H806.24" stroke="#0b46a8" stroke-width="3" fill="none"/>
<path d="M812.46 670.3H806.24M812.46 670.3H818.69" stroke="#0b46a8" stroke-width="3" fill="none"/>
<path d="M824.91 672.5H818.69M824.91 672.5H831.14" stroke="#0b46a8" stroke-width="3" fill="none"/>
<path d="M837.36 675H831.14M837.36 675H843.58" stroke="#0b46a8" stroke-width="3" fill="none"/>
<path d="M849.81 677.5H843.58M849.81 677.5H856.03" stroke="#0b46a8" stroke-width="3" fill="none"/>
<path d="M868.48 678H856.03M868.48 678H880.93" stroke="#0b46a8" stroke-width="3" fill="none"/>
<path d="M893.38 681.7H880.93M893.38 681.7H905.83" stroke="#0b46a8" stroke-width="3" fill="none"/>
<path d="M918.28 684.2H905.83M918.28 684.2H930.73" stroke="#0b46a8" stroke-width="3" fill="none"/>
<path d="M961.85 685.3H930.73M961.85 685.3H992.97" stroke="#0b46a8" stroke-width="3" fill="none"/>
<path d="M1024.09 682.4H992.97M1024.09 682.4H1055.21M1024.09 682.4V679.13M1024.09 682.4V685.67" stroke="#0b46a8" stroke-width="3" fill="none"/>
<path d="M1086.33 692H1055.21M1086.33 692H1117.46M1086.33 692V688.1M1086.33 692V695.9" stroke="#0b46a8" stroke-width="3" fill="none"/>
<path d="M1148.58 693.2H1117.46M1148.58 693.2H1179.7M1148.58 693.2V688.36M1148.58 693.2V698.04" stroke="#0b46a8" stroke-width="3" fill="none"/>
</g>
<g clip-path="url(#cmd)">
<path d="M697.31 703.6H694.2M697.31 703.6H700.42" stroke="#66cc00" stroke-width="3.2" fill="none" stroke-dasharray="3.3 3.13"/>
<path d="M703.54 701.1H700.42M703.54 701.1H706.65" stroke="#66cc00" stroke-width="3.2" fill="none" stroke-dasharray="3.3 3.13"/>
<path d="M709.76 701.1H706.65M709.76 701.1H712.87" stroke="#66cc00" stroke-width="3.2" fill="none" stroke-dasharray="3.3 3.13"/>
<path d="M715.99 700.7H712.87M715.99 700.7H719.1" stroke="#66cc00" stroke-width="3.2" fill="none" stroke-dasharray="3.3 3.13"/>
<path d="M722.21 701.1H719.1M722.21 701.1H725.32" stroke="#66cc00" stroke-width="3.2" fill="none" stroke-dasharray="3.3 3.13"/>
<path d="M728.43 701.4H725.32M728.43 701.4H731.55" stroke="#66cc00" stroke-width="3.2" fill="none" stroke-dasharray="3.3 3.13"/>
<path d="M734.66 701.8H731.55M734.66 701.8H737.77" stroke="#66cc00" stroke-width="3.2" fill="none" stroke-dasharray="3.3 3.13"/>
<path d="M740.88 703H737.77M740.88 703H743.99" stroke="#66cc00" stroke-width="3.2" fill="none" stroke-dasharray="3.3 3.13"/>
<path d="M747.11 703H743.99M747.11 703H750.22" stroke="#66cc00" stroke-width="3.2" fill="none" stroke-dasharray="3.3 3.13"/>
<path d="M753.33 703.9H750.22M753.33 703.9H756.44" stroke="#66cc00" stroke-width="3.2" fill="none" stroke-dasharray="3.3 3.13"/>
<path d="M759.56 706.2H756.44M759.56 706.2H762.67" stroke="#66cc00" stroke-width="3.2" fill="none" stroke-dasharray="3.3 3.13"/>
<path d="M765.78 706.2H762.67M765.78 706.2H768.89" stroke="#66cc00" stroke-width="3.2" fill="none" stroke-dasharray="3.3 3.13"/>
<path d="M772 705.3H768.89M772 705.3H775.12" stroke="#66cc00" stroke-width="3.2" fill="none" stroke-dasharray="3.3 3.13"/>
<path d="M778.23 707.3H775.12M778.23 707.3H781.34" stroke="#66cc00" stroke-width="3.2" fill="none" stroke-dasharray="3.3 3.13"/>
<path d="M787.57 707.4H781.34M787.57 707.4H793.79" stroke="#66cc00" stroke-width="3.2" fill="none" stroke-dasharray="3.3 3.13"/>
<path d="M800.01 710.3H793.79M800.01 710.3H806.24" stroke="#66cc00" stroke-width="3.2" fill="none" stroke-dasharray="3.3 3.13"/>
<path d="M812.46 708.8H806.24M812.46 708.8H818.69" stroke="#66cc00" stroke-width="3.2" fill="none" stroke-dasharray="3.3 3.13"/>
<path d="M824.91 711.2H818.69M824.91 711.2H831.14" stroke="#66cc00" stroke-width="3.2" fill="none" stroke-dasharray="3.3 3.13"/>
<path d="M837.36 712H831.14M837.36 712H843.58" stroke="#66cc00" stroke-width="3.2" fill="none" stroke-dasharray="3.3 3.13"/>
<path d="M849.81 711.2H843.58M849.81 711.2H856.03" stroke="#66cc00" stroke-width="3.2" fill="none" stroke-dasharray="3.3 3.13"/>
<path d="M868.48 711.7H856.03M868.48 711.7H880.93" stroke="#66cc00" stroke-width="3.2" fill="none" stroke-dasharray="3.3 3.13"/>
<path d="M893.38 713.3H880.93M893.38 713.3H905.83" stroke="#66cc00" stroke-width="3.2" fill="none" stroke-dasharray="3.3 3.13"/>
<path d="M918.28 717.5H905.83M918.28 717.5H930.73" stroke="#66cc00" stroke-width="3.2" fill="none" stroke-dasharray="3.3 3.13"/>
<path d="M961.85 718H930.73M961.85 718H992.97" stroke="#66cc00" stroke-width="3.2" fill="none" stroke-dasharray="3.3 3.13"/>
<path d="M1024.09 720.9H992.97M1024.09 720.9H1055.21M1024.09 720.9V718.36M1024.09 720.9V723.44" stroke="#66cc00" stroke-width="3.2" fill="none" stroke-dasharray="3.3 3.13"/>
<path d="M1086.33 714.6H1055.21M1086.33 714.6H1117.46M1086.33 714.6V711.3M1086.33 714.6V717.9" stroke="#66cc00" stroke-width="3.2" fill="none" stroke-dasharray="3.3 3.13"/>
<path d="M1148.58 713.7H1117.46M1148.58 713.7H1179.7M1148.58 713.7V710.4M1148.58 713.7V717" stroke="#66cc00" stroke-width="3.2" fill="none" stroke-dasharray="3.3 3.13"/>
</g>
<g clip-path="url(#cmd)">
<path d="M697.31 671.3H694.2M697.31 671.3H700.42" stroke="#d4174a" stroke-width="3.8" fill="none" stroke-dasharray="1.45 1.75"/>
<circle cx="697.31" cy="671.3" r="1.65" fill="#d4174a"/>
<path d="M703.54 667.5H700.42M703.54 667.5H706.65" stroke="#d4174a" stroke-width="3.8" fill="none" stroke-dasharray="1.45 1.75"/>
<circle cx="703.54" cy="667.5" r="1.65" fill="#d4174a"/>
<path d="M709.76 658.7H706.65M709.76 658.7H712.87" stroke="#d4174a" stroke-width="3.8" fill="none" stroke-dasharray="1.45 1.75"/>
<circle cx="709.76" cy="658.7" r="1.65" fill="#d4174a"/>
<path d="M715.99 657.4H712.87M715.99 657.4H719.1" stroke="#d4174a" stroke-width="3.8" fill="none" stroke-dasharray="1.45 1.75"/>
<circle cx="715.99" cy="657.4" r="1.65" fill="#d4174a"/>
<path d="M722.21 657.4H719.1M722.21 657.4H725.32" stroke="#d4174a" stroke-width="3.8" fill="none" stroke-dasharray="1.45 1.75"/>
<circle cx="722.21" cy="657.4" r="1.65" fill="#d4174a"/>
<path d="M728.43 657.4H725.32M728.43 657.4H731.55" stroke="#d4174a" stroke-width="3.8" fill="none" stroke-dasharray="1.45 1.75"/>
<circle cx="728.43" cy="657.4" r="1.65" fill="#d4174a"/>
<path d="M734.66 657.6H731.55M734.66 657.6H737.77" stroke="#d4174a" stroke-width="3.8" fill="none" stroke-dasharray="1.45 1.75"/>
<circle cx="734.66" cy="657.6" r="1.65" fill="#d4174a"/>
<path d="M740.88 659H737.77M740.88 659H743.99" stroke="#d4174a" stroke-width="3.8" fill="none" stroke-dasharray="1.45 1.75"/>
<circle cx="740.88" cy="659" r="1.65" fill="#d4174a"/>
<path d="M747.11 659.2H743.99M747.11 659.2H750.22" stroke="#d4174a" stroke-width="3.8" fill="none" stroke-dasharray="1.45 1.75"/>
<circle cx="747.11" cy="659.2" r="1.65" fill="#d4174a"/>
<path d="M753.33 659.2H750.22M753.33 659.2H756.44" stroke="#d4174a" stroke-width="3.8" fill="none" stroke-dasharray="1.45 1.75"/>
<circle cx="753.33" cy="659.2" r="1.65" fill="#d4174a"/>
<path d="M759.56 659.4H756.44M759.56 659.4H762.67" stroke="#d4174a" stroke-width="3.8" fill="none" stroke-dasharray="1.45 1.75"/>
<circle cx="759.56" cy="659.4" r="1.65" fill="#d4174a"/>
<path d="M765.78 658.5H762.67M765.78 658.5H768.89" stroke="#d4174a" stroke-width="3.8" fill="none" stroke-dasharray="1.45 1.75"/>
<circle cx="765.78" cy="658.5" r="1.65" fill="#d4174a"/>
<path d="M772 660.3H768.89M772 660.3H775.12" stroke="#d4174a" stroke-width="3.8" fill="none" stroke-dasharray="1.45 1.75"/>
<circle cx="772" cy="660.3" r="1.65" fill="#d4174a"/>
<path d="M778.23 660.2H775.12M778.23 660.2H781.34" stroke="#d4174a" stroke-width="3.8" fill="none" stroke-dasharray="1.45 1.75"/>
<circle cx="778.23" cy="660.2" r="1.65" fill="#d4174a"/>
<path d="M787.57 659.6H781.34M787.57 659.6H793.79" stroke="#d4174a" stroke-width="3.8" fill="none" stroke-dasharray="1.45 1.75"/>
<circle cx="787.57" cy="659.6" r="1.65" fill="#d4174a"/>
<path d="M800.01 660.3H793.79M800.01 660.3H806.24" stroke="#d4174a" stroke-width="3.8" fill="none" stroke-dasharray="1.45 1.75"/>
<circle cx="800.01" cy="660.3" r="1.65" fill="#d4174a"/>
<path d="M812.46 660.8H806.24M812.46 660.8H818.69" stroke="#d4174a" stroke-width="3.8" fill="none" stroke-dasharray="1.45 1.75"/>
<circle cx="812.46" cy="660.8" r="1.65" fill="#d4174a"/>
<path d="M824.91 660.5H818.69M824.91 660.5H831.14" stroke="#d4174a" stroke-width="3.8" fill="none" stroke-dasharray="1.45 1.75"/>
<circle cx="824.91" cy="660.5" r="1.65" fill="#d4174a"/>
<path d="M837.36 662H831.14M837.36 662H843.58" stroke="#d4174a" stroke-width="3.8" fill="none" stroke-dasharray="1.45 1.75"/>
<circle cx="837.36" cy="662" r="1.65" fill="#d4174a"/>
<path d="M849.81 662.5H843.58M849.81 662.5H856.03" stroke="#d4174a" stroke-width="3.8" fill="none" stroke-dasharray="1.45 1.75"/>
<circle cx="849.81" cy="662.5" r="1.65" fill="#d4174a"/>
<path d="M868.48 662.8H856.03M868.48 662.8H880.93" stroke="#d4174a" stroke-width="3.8" fill="none" stroke-dasharray="1.45 1.75"/>
<circle cx="868.48" cy="662.8" r="1.65" fill="#d4174a"/>
<path d="M893.38 664.5H880.93M893.38 664.5H905.83" stroke="#d4174a" stroke-width="3.8" fill="none" stroke-dasharray="1.45 1.75"/>
<circle cx="893.38" cy="664.5" r="1.65" fill="#d4174a"/>
<path d="M918.28 665H905.83M918.28 665H930.73" stroke="#d4174a" stroke-width="3.8" fill="none" stroke-dasharray="1.45 1.75"/>
<circle cx="918.28" cy="665" r="1.65" fill="#d4174a"/>
<path d="M961.85 669.4H930.73M961.85 669.4H992.97" stroke="#d4174a" stroke-width="3.8" fill="none" stroke-dasharray="1.45 1.75"/>
<circle cx="961.85" cy="669.4" r="1.65" fill="#d4174a"/>
<path d="M1024.09 668.8H992.97M1024.09 668.8H1055.21" stroke="#d4174a" stroke-width="3.8" fill="none" stroke-dasharray="1.45 1.75"/>
<circle cx="1024.09" cy="668.8" r="1.65" fill="#d4174a"/>
<path d="M1086.33 672.4H1055.21M1086.33 672.4H1117.46" stroke="#d4174a" stroke-width="3.8" fill="none" stroke-dasharray="1.45 1.75"/>
<circle cx="1086.33" cy="672.4" r="1.65" fill="#d4174a"/>
<path d="M1148.58 668.4H1117.46M1148.58 668.4H1179.7" stroke="#d4174a" stroke-width="3.8" fill="none" stroke-dasharray="1.45 1.75"/>
<circle cx="1148.58" cy="668.4" r="1.65" fill="#d4174a"/>
</g>
<g clip-path="url(#crd)">
<rect x="694.2" y="830.77" width="6.22" height="9.71" fill="#cccccc"/>
<rect x="700.42" y="831.38" width="6.22" height="8.5" fill="#cccccc"/>
<rect x="706.65" y="831.99" width="6.22" height="7.29" fill="#cccccc"/>
<rect x="712.87" y="831.99" width="6.22" height="7.29" fill="#cccccc"/>
<rect x="719.1" y="831.99" width="6.22" height="7.29" fill="#cccccc"/>
<rect x="725.32" y="831.99" width="6.22" height="7.29" fill="#cccccc"/>
<rect x="731.55" y="831.99" width="6.22" height="7.29" fill="#cccccc"/>
<rect x="737.77" y="831.99" width="6.22" height="7.29" fill="#cccccc"/>
<rect x="743.99" y="831.99" width="6.22" height="7.29" fill="#cccccc"/>
<rect x="750.22" y="831.99" width="6.22" height="7.29" fill="#cccccc"/>
<rect x="756.44" y="831.99" width="6.22" height="7.29" fill="#cccccc"/>
<rect x="762.67" y="831.99" width="6.22" height="7.29" fill="#cccccc"/>
<rect x="768.89" y="831.99" width="6.22" height="7.29" fill="#cccccc"/>
<rect x="775.12" y="831.99" width="6.22" height="7.29" fill="#cccccc"/>
<rect x="781.34" y="831.99" width="12.45" height="7.29" fill="#cccccc"/>
<rect x="793.79" y="831.99" width="12.45" height="7.29" fill="#cccccc"/>
<rect x="806.24" y="831.99" width="12.45" height="7.29" fill="#cccccc"/>
<rect x="818.69" y="831.99" width="12.45" height="7.29" fill="#cccccc"/>
<rect x="831.14" y="831.99" width="12.45" height="7.29" fill="#cccccc"/>
<rect x="843.58" y="831.99" width="12.45" height="7.29" fill="#cccccc"/>
<rect x="856.03" y="831.62" width="24.9" height="8.01" fill="#cccccc"/>
<rect x="880.93" y="831.62" width="24.9" height="8.01" fill="#cccccc"/>
<rect x="905.83" y="831.62" width="24.9" height="8.01" fill="#cccccc"/>
<rect x="930.73" y="831.38" width="62.24" height="8.5" fill="#cccccc"/>
<rect x="992.97" y="830.16" width="62.24" height="10.93" fill="#cccccc"/>
<rect x="1055.21" y="829.19" width="62.24" height="12.87" fill="#cccccc"/>
<rect x="1117.46" y="824.82" width="62.24" height="21.61" fill="#cccccc"/>
</g>
<line x1="694.2" y1="835.63" x2="700.42" y2="835.63" stroke="#000" stroke-width="1.7"/>
<line x1="700.42" y1="835.63" x2="706.65" y2="835.63" stroke="#000" stroke-width="1.7"/>
<line x1="706.65" y1="835.63" x2="712.87" y2="835.63" stroke="#000" stroke-width="1.7"/>
<line x1="712.87" y1="835.63" x2="719.1" y2="835.63" stroke="#000" stroke-width="1.7"/>
<line x1="719.1" y1="835.63" x2="725.32" y2="835.63" stroke="#000" stroke-width="1.7"/>
<line x1="725.32" y1="835.63" x2="731.55" y2="835.63" stroke="#000" stroke-width="1.7"/>
<line x1="731.55" y1="835.63" x2="737.77" y2="835.63" stroke="#000" stroke-width="1.7"/>
<line x1="737.77" y1="835.63" x2="743.99" y2="835.63" stroke="#000" stroke-width="1.7"/>
<line x1="743.99" y1="835.63" x2="750.22" y2="835.63" stroke="#000" stroke-width="1.7"/>
<line x1="750.22" y1="835.63" x2="756.44" y2="835.63" stroke="#000" stroke-width="1.7"/>
<line x1="756.44" y1="835.63" x2="762.67" y2="835.63" stroke="#000" stroke-width="1.7"/>
<line x1="762.67" y1="835.63" x2="768.89" y2="835.63" stroke="#000" stroke-width="1.7"/>
<line x1="768.89" y1="835.63" x2="775.12" y2="835.63" stroke="#000" stroke-width="1.7"/>
<line x1="775.12" y1="835.63" x2="781.34" y2="835.63" stroke="#000" stroke-width="1.7"/>
<line x1="781.34" y1="835.63" x2="793.79" y2="835.63" stroke="#000" stroke-width="1.7"/>
<line x1="793.79" y1="835.63" x2="806.24" y2="835.63" stroke="#000" stroke-width="1.7"/>
<line x1="806.24" y1="835.63" x2="818.69" y2="835.63" stroke="#000" stroke-width="1.7"/>
<line x1="818.69" y1="835.63" x2="831.14" y2="835.63" stroke="#000" stroke-width="1.7"/>
<line x1="831.14" y1="835.63" x2="843.58" y2="835.63" stroke="#000" stroke-width="1.7"/>
<line x1="843.58" y1="835.63" x2="856.03" y2="835.63" stroke="#000" stroke-width="1.7"/>
<line x1="856.03" y1="835.63" x2="880.93" y2="835.63" stroke="#000" stroke-width="1.7"/>
<line x1="880.93" y1="835.63" x2="905.83" y2="835.63" stroke="#000" stroke-width="1.7"/>
<line x1="905.83" y1="835.63" x2="930.73" y2="835.63" stroke="#000" stroke-width="1.7"/>
<line x1="930.73" y1="835.63" x2="992.97" y2="835.63" stroke="#000" stroke-width="1.7"/>
<line x1="992.97" y1="835.63" x2="1055.21" y2="835.63" stroke="#000" stroke-width="1.7"/>
<line x1="1055.21" y1="835.63" x2="1117.46" y2="835.63" stroke="#000" stroke-width="1.7"/>
<line x1="1086.33" y1="832.59" x2="1086.33" y2="838.66" stroke="#000" stroke-width="1.7"/>
<line x1="1117.46" y1="835.63" x2="1179.7" y2="835.63" stroke="#000" stroke-width="1.7"/>
<line x1="1148.58" y1="828.22" x2="1148.58" y2="843.04" stroke="#000" stroke-width="1.7"/>
<circle cx="697.31" cy="835.63" r="5.8" fill="#000"/>
<circle cx="703.54" cy="835.63" r="5.8" fill="#000"/>
<circle cx="709.76" cy="835.63" r="5.8" fill="#000"/>
<circle cx="715.99" cy="835.63" r="5.8" fill="#000"/>
<circle cx="722.21" cy="835.63" r="5.8" fill="#000"/>
<circle cx="728.43" cy="835.63" r="5.8" fill="#000"/>
<circle cx="734.66" cy="835.63" r="5.8" fill="#000"/>
<circle cx="740.88" cy="835.63" r="5.8" fill="#000"/>
<circle cx="747.11" cy="835.63" r="5.8" fill="#000"/>
<circle cx="753.33" cy="835.63" r="5.8" fill="#000"/>
<circle cx="759.56" cy="835.63" r="5.8" fill="#000"/>
<circle cx="765.78" cy="835.63" r="5.8" fill="#000"/>
<circle cx="772" cy="835.63" r="5.8" fill="#000"/>
<circle cx="778.23" cy="835.63" r="5.8" fill="#000"/>
<circle cx="787.57" cy="835.63" r="5.8" fill="#000"/>
<circle cx="800.01" cy="835.63" r="5.8" fill="#000"/>
<circle cx="812.46" cy="835.63" r="5.8" fill="#000"/>
<circle cx="824.91" cy="835.63" r="5.8" fill="#000"/>
<circle cx="837.36" cy="835.63" r="5.8" fill="#000"/>
<circle cx="849.81" cy="835.63" r="5.8" fill="#000"/>
<circle cx="868.48" cy="835.63" r="5.8" fill="#000"/>
<circle cx="893.38" cy="835.63" r="5.8" fill="#000"/>
<circle cx="918.28" cy="835.63" r="5.8" fill="#000"/>
<circle cx="961.85" cy="835.63" r="5.8" fill="#000"/>
<circle cx="1024.09" cy="835.63" r="5.8" fill="#000"/>
<circle cx="1086.33" cy="835.63" r="5.8" fill="#000"/>
<circle cx="1148.58" cy="835.63" r="5.8" fill="#000"/>
<g clip-path="url(#crd)">
<path d="M697.31 850.24H694.2M697.31 850.24H700.42" stroke="#0b46a8" stroke-width="3" fill="none"/>
<path d="M703.54 848.66H700.42M703.54 848.66H706.65" stroke="#0b46a8" stroke-width="3" fill="none"/>
<path d="M709.76 846.76H706.65M709.76 846.76H712.87" stroke="#0b46a8" stroke-width="3" fill="none"/>
<path d="M715.99 845.85H712.87M715.99 845.85H719.1" stroke="#0b46a8" stroke-width="3" fill="none"/>
<path d="M722.21 845.22H719.1M722.21 845.22H725.32" stroke="#0b46a8" stroke-width="3" fill="none"/>
<path d="M728.43 844.25H725.32M728.43 844.25H731.55" stroke="#0b46a8" stroke-width="3" fill="none"/>
<path d="M734.66 843.67H731.55M734.66 843.67H737.77" stroke="#0b46a8" stroke-width="3" fill="none"/>
<path d="M740.88 843.03H737.77M740.88 843.03H743.99" stroke="#0b46a8" stroke-width="3" fill="none"/>
<path d="M747.11 843.04H743.99M747.11 843.04H750.22" stroke="#0b46a8" stroke-width="3" fill="none"/>
<path d="M753.33 842.63H750.22M753.33 842.63H756.44" stroke="#0b46a8" stroke-width="3" fill="none"/>
<path d="M759.56 843.06H756.44M759.56 843.06H762.67" stroke="#0b46a8" stroke-width="3" fill="none"/>
<path d="M765.78 844.37H762.67M765.78 844.37H768.89" stroke="#0b46a8" stroke-width="3" fill="none"/>
<path d="M772 844.16H768.89M772 844.16H775.12" stroke="#0b46a8" stroke-width="3" fill="none"/>
<path d="M778.23 843.81H775.12M778.23 843.81H781.34" stroke="#0b46a8" stroke-width="3" fill="none"/>
<path d="M787.57 842.63H781.34M787.57 842.63H793.79" stroke="#0b46a8" stroke-width="3" fill="none"/>
<path d="M800.01 842.92H793.79M800.01 842.92H806.24" stroke="#0b46a8" stroke-width="3" fill="none"/>
<path d="M812.46 841.04H806.24M812.46 841.04H818.69" stroke="#0b46a8" stroke-width="3" fill="none"/>
<path d="M824.91 843.43H818.69M824.91 843.43H831.14" stroke="#0b46a8" stroke-width="3" fill="none"/>
<path d="M837.36 842.51H831.14M837.36 842.51H843.58" stroke="#0b46a8" stroke-width="3" fill="none"/>
<path d="M849.81 841.38H843.58M849.81 841.38H856.03" stroke="#0b46a8" stroke-width="3" fill="none"/>
<path d="M868.48 841.08H856.03M868.48 841.08H880.93" stroke="#0b46a8" stroke-width="3" fill="none"/>
<path d="M893.38 842.08H880.93M893.38 842.08H905.83" stroke="#0b46a8" stroke-width="3" fill="none"/>
<path d="M918.28 844.97H905.83M918.28 844.97H930.73" stroke="#0b46a8" stroke-width="3" fill="none"/>
<path d="M961.85 840.98H930.73M961.85 840.98H992.97" stroke="#0b46a8" stroke-width="3" fill="none"/>
<path d="M1024.09 835.84H992.97M1024.09 835.84H1055.21M1024.09 835.84V833.54M1024.09 835.84V838.14" stroke="#0b46a8" stroke-width="3" fill="none"/>
<path d="M1086.33 842.26H1055.21M1086.33 842.26H1117.46M1086.33 842.26V839.51M1086.33 842.26V845.02" stroke="#0b46a8" stroke-width="3" fill="none"/>
<path d="M1148.58 831.91H1117.46M1148.58 831.91H1179.7M1148.58 831.91V828.15M1148.58 831.91V835.66" stroke="#0b46a8" stroke-width="3" fill="none"/>
</g>
<g clip-path="url(#crd)">
<path d="M697.31 857.62H694.2M697.31 857.62H700.42" stroke="#66cc00" stroke-width="3.2" fill="none" stroke-dasharray="3.3 3.13"/>
<path d="M703.54 861.76H700.42M703.54 861.76H706.65" stroke="#66cc00" stroke-width="3.2" fill="none" stroke-dasharray="3.3 3.13"/>
<path d="M709.76 864.13H706.65M709.76 864.13H712.87" stroke="#66cc00" stroke-width="3.2" fill="none" stroke-dasharray="3.3 3.13"/>
<path d="M715.99 865.58H712.87M715.99 865.58H719.1" stroke="#66cc00" stroke-width="3.2" fill="none" stroke-dasharray="3.3 3.13"/>
<path d="M722.21 866.74H719.1M722.21 866.74H725.32" stroke="#66cc00" stroke-width="3.2" fill="none" stroke-dasharray="3.3 3.13"/>
<path d="M728.43 867.14H725.32M728.43 867.14H731.55" stroke="#66cc00" stroke-width="3.2" fill="none" stroke-dasharray="3.3 3.13"/>
<path d="M734.66 867.37H731.55M734.66 867.37H737.77" stroke="#66cc00" stroke-width="3.2" fill="none" stroke-dasharray="3.3 3.13"/>
<path d="M740.88 867.99H737.77M740.88 867.99H743.99" stroke="#66cc00" stroke-width="3.2" fill="none" stroke-dasharray="3.3 3.13"/>
<path d="M747.11 867.86H743.99M747.11 867.86H750.22" stroke="#66cc00" stroke-width="3.2" fill="none" stroke-dasharray="3.3 3.13"/>
<path d="M753.33 868.3H750.22M753.33 868.3H756.44" stroke="#66cc00" stroke-width="3.2" fill="none" stroke-dasharray="3.3 3.13"/>
<path d="M759.56 869.49H756.44M759.56 869.49H762.67" stroke="#66cc00" stroke-width="3.2" fill="none" stroke-dasharray="3.3 3.13"/>
<path d="M765.78 869.4H762.67M765.78 869.4H768.89" stroke="#66cc00" stroke-width="3.2" fill="none" stroke-dasharray="3.3 3.13"/>
<path d="M772 868.61H768.89M772 868.61H775.12" stroke="#66cc00" stroke-width="3.2" fill="none" stroke-dasharray="3.3 3.13"/>
<path d="M778.23 869.11H775.12M778.23 869.11H781.34" stroke="#66cc00" stroke-width="3.2" fill="none" stroke-dasharray="3.3 3.13"/>
<path d="M787.57 868.12H781.34M787.57 868.12H793.79" stroke="#66cc00" stroke-width="3.2" fill="none" stroke-dasharray="3.3 3.13"/>
<path d="M800.01 868.64H793.79M800.01 868.64H806.24" stroke="#66cc00" stroke-width="3.2" fill="none" stroke-dasharray="3.3 3.13"/>
<path d="M812.46 865.27H806.24M812.46 865.27H818.69" stroke="#66cc00" stroke-width="3.2" fill="none" stroke-dasharray="3.3 3.13"/>
<path d="M824.91 867.57H818.69M824.91 867.57H831.14" stroke="#66cc00" stroke-width="3.2" fill="none" stroke-dasharray="3.3 3.13"/>
<path d="M837.36 866.11H831.14M837.36 866.11H843.58" stroke="#66cc00" stroke-width="3.2" fill="none" stroke-dasharray="3.3 3.13"/>
<path d="M849.81 863.38H843.58M849.81 863.38H856.03" stroke="#66cc00" stroke-width="3.2" fill="none" stroke-dasharray="3.3 3.13"/>
<path d="M868.48 863.2H856.03M868.48 863.2H880.93" stroke="#66cc00" stroke-width="3.2" fill="none" stroke-dasharray="3.3 3.13"/>
<path d="M893.38 863.09H880.93M893.38 863.09H905.83" stroke="#66cc00" stroke-width="3.2" fill="none" stroke-dasharray="3.3 3.13"/>
<path d="M918.28 866.87H905.83M918.28 866.87H930.73" stroke="#66cc00" stroke-width="3.2" fill="none" stroke-dasharray="3.3 3.13"/>
<path d="M961.85 863.39H930.73M961.85 863.39H992.97" stroke="#66cc00" stroke-width="3.2" fill="none" stroke-dasharray="3.3 3.13"/>
<path d="M1024.09 862.93H992.97M1024.09 862.93H1055.21M1024.09 862.93V861.14M1024.09 862.93V864.72" stroke="#66cc00" stroke-width="3.2" fill="none" stroke-dasharray="3.3 3.13"/>
<path d="M1086.33 858.21H1055.21M1086.33 858.21H1117.46M1086.33 858.21V855.84M1086.33 858.21V860.59" stroke="#66cc00" stroke-width="3.2" fill="none" stroke-dasharray="3.3 3.13"/>
<path d="M1148.58 847.8H1117.46M1148.58 847.8H1179.7M1148.58 847.8V844.52M1148.58 847.8V851.08" stroke="#66cc00" stroke-width="3.2" fill="none" stroke-dasharray="3.3 3.13"/>
</g>
<g clip-path="url(#crd)">
<path d="M697.31 836.35H694.2M697.31 836.35H700.42" stroke="#d4174a" stroke-width="3.8" fill="none" stroke-dasharray="1.45 1.75"/>
<circle cx="697.31" cy="836.35" r="1.65" fill="#d4174a"/>
<path d="M703.54 840.9H700.42M703.54 840.9H706.65" stroke="#d4174a" stroke-width="3.8" fill="none" stroke-dasharray="1.45 1.75"/>
<circle cx="703.54" cy="840.9" r="1.65" fill="#d4174a"/>
<path d="M709.76 838.47H706.65M709.76 838.47H712.87" stroke="#d4174a" stroke-width="3.8" fill="none" stroke-dasharray="1.45 1.75"/>
<circle cx="709.76" cy="838.47" r="1.65" fill="#d4174a"/>
<path d="M715.99 839.85H712.87M715.99 839.85H719.1" stroke="#d4174a" stroke-width="3.8" fill="none" stroke-dasharray="1.45 1.75"/>
<circle cx="715.99" cy="839.85" r="1.65" fill="#d4174a"/>
<path d="M722.21 841.04H719.1M722.21 841.04H725.32" stroke="#d4174a" stroke-width="3.8" fill="none" stroke-dasharray="1.45 1.75"/>
<circle cx="722.21" cy="841.04" r="1.65" fill="#d4174a"/>
<path d="M728.43 841.32H725.32M728.43 841.32H731.55" stroke="#d4174a" stroke-width="3.8" fill="none" stroke-dasharray="1.45 1.75"/>
<circle cx="728.43" cy="841.32" r="1.65" fill="#d4174a"/>
<path d="M734.66 841.44H731.55M734.66 841.44H737.77" stroke="#d4174a" stroke-width="3.8" fill="none" stroke-dasharray="1.45 1.75"/>
<circle cx="734.66" cy="841.44" r="1.65" fill="#d4174a"/>
<path d="M740.88 842.15H737.77M740.88 842.15H743.99" stroke="#d4174a" stroke-width="3.8" fill="none" stroke-dasharray="1.45 1.75"/>
<circle cx="740.88" cy="842.15" r="1.65" fill="#d4174a"/>
<path d="M747.11 842.1H743.99M747.11 842.1H750.22" stroke="#d4174a" stroke-width="3.8" fill="none" stroke-dasharray="1.45 1.75"/>
<circle cx="747.11" cy="842.1" r="1.65" fill="#d4174a"/>
<path d="M753.33 841.99H750.22M753.33 841.99H756.44" stroke="#d4174a" stroke-width="3.8" fill="none" stroke-dasharray="1.45 1.75"/>
<circle cx="753.33" cy="841.99" r="1.65" fill="#d4174a"/>
<path d="M759.56 841.88H756.44M759.56 841.88H762.67" stroke="#d4174a" stroke-width="3.8" fill="none" stroke-dasharray="1.45 1.75"/>
<circle cx="759.56" cy="841.88" r="1.65" fill="#d4174a"/>
<path d="M765.78 841.24H762.67M765.78 841.24H768.89" stroke="#d4174a" stroke-width="3.8" fill="none" stroke-dasharray="1.45 1.75"/>
<circle cx="765.78" cy="841.24" r="1.65" fill="#d4174a"/>
<path d="M772 841.97H768.89M772 841.97H775.12" stroke="#d4174a" stroke-width="3.8" fill="none" stroke-dasharray="1.45 1.75"/>
<circle cx="772" cy="841.97" r="1.65" fill="#d4174a"/>
<path d="M778.23 841H775.12M778.23 841H781.34" stroke="#d4174a" stroke-width="3.8" fill="none" stroke-dasharray="1.45 1.75"/>
<circle cx="778.23" cy="841" r="1.65" fill="#d4174a"/>
<path d="M787.57 839.25H781.34M787.57 839.25H793.79" stroke="#d4174a" stroke-width="3.8" fill="none" stroke-dasharray="1.45 1.75"/>
<circle cx="787.57" cy="839.25" r="1.65" fill="#d4174a"/>
<path d="M800.01 838.02H793.79M800.01 838.02H806.24" stroke="#d4174a" stroke-width="3.8" fill="none" stroke-dasharray="1.45 1.75"/>
<circle cx="800.01" cy="838.02" r="1.65" fill="#d4174a"/>
<path d="M812.46 835.06H806.24M812.46 835.06H818.69" stroke="#d4174a" stroke-width="3.8" fill="none" stroke-dasharray="1.45 1.75"/>
<circle cx="812.46" cy="835.06" r="1.65" fill="#d4174a"/>
<path d="M824.91 835.94H818.69M824.91 835.94H831.14" stroke="#d4174a" stroke-width="3.8" fill="none" stroke-dasharray="1.45 1.75"/>
<circle cx="824.91" cy="835.94" r="1.65" fill="#d4174a"/>
<path d="M837.36 834.23H831.14M837.36 834.23H843.58" stroke="#d4174a" stroke-width="3.8" fill="none" stroke-dasharray="1.45 1.75"/>
<circle cx="837.36" cy="834.23" r="1.65" fill="#d4174a"/>
<path d="M849.81 831.58H843.58M849.81 831.58H856.03" stroke="#d4174a" stroke-width="3.8" fill="none" stroke-dasharray="1.45 1.75"/>
<circle cx="849.81" cy="831.58" r="1.65" fill="#d4174a"/>
<path d="M868.48 831.1H856.03M868.48 831.1H880.93" stroke="#d4174a" stroke-width="3.8" fill="none" stroke-dasharray="1.45 1.75"/>
<circle cx="868.48" cy="831.1" r="1.65" fill="#d4174a"/>
<path d="M893.38 830.64H880.93M893.38 830.64H905.83" stroke="#d4174a" stroke-width="3.8" fill="none" stroke-dasharray="1.45 1.75"/>
<circle cx="893.38" cy="830.64" r="1.65" fill="#d4174a"/>
<path d="M918.28 832.34H905.83M918.28 832.34H930.73" stroke="#d4174a" stroke-width="3.8" fill="none" stroke-dasharray="1.45 1.75"/>
<circle cx="918.28" cy="832.34" r="1.65" fill="#d4174a"/>
<path d="M961.85 830.08H930.73M961.85 830.08H992.97" stroke="#d4174a" stroke-width="3.8" fill="none" stroke-dasharray="1.45 1.75"/>
<circle cx="961.85" cy="830.08" r="1.65" fill="#d4174a"/>
<path d="M1024.09 826.27H992.97M1024.09 826.27H1055.21" stroke="#d4174a" stroke-width="3.8" fill="none" stroke-dasharray="1.45 1.75"/>
<circle cx="1024.09" cy="826.27" r="1.65" fill="#d4174a"/>
<path d="M1086.33 828.43H1055.21M1086.33 828.43H1117.46" stroke="#d4174a" stroke-width="3.8" fill="none" stroke-dasharray="1.45 1.75"/>
<circle cx="1086.33" cy="828.43" r="1.65" fill="#d4174a"/>
<path d="M1148.58 812.68H1117.46M1148.58 812.68H1179.7" stroke="#d4174a" stroke-width="3.8" fill="none" stroke-dasharray="1.45 1.75"/>
<circle cx="1148.58" cy="812.68" r="1.65" fill="#d4174a"/>
</g>
<rect x="694.2" y="529.6" width="485.5" height="354.6" fill="none" stroke="#000" stroke-width="1.3"/>
<line x1="694.2" y1="799.2" x2="1179.7" y2="799.2" stroke="#000" stroke-width="1.6"/>
<path d="M706.65 529.6v3.5M706.65 799.2v-3.5M706.65 799.2v2M706.65 884.2v-2M719.1 529.6v3.5M719.1 799.2v-3.5M719.1 799.2v2M719.1 884.2v-2M731.55 529.6v3.5M731.55 799.2v-3.5M731.55 799.2v2M731.55 884.2v-2M743.99 529.6v7M743.99 799.2v-7M743.99 799.2v4M743.99 884.2v-4M756.44 529.6v3.5M756.44 799.2v-3.5M756.44 799.2v2M756.44 884.2v-2M768.89 529.6v3.5M768.89 799.2v-3.5M768.89 799.2v2M768.89 884.2v-2M781.34 529.6v3.5M781.34 799.2v-3.5M781.34 799.2v2M781.34 884.2v-2M793.79 529.6v3.5M793.79 799.2v-3.5M793.79 799.2v2M793.79 884.2v-2M806.24 529.6v7M806.24 799.2v-7M806.24 799.2v4M806.24 884.2v-4M818.69 529.6v3.5M818.69 799.2v-3.5M818.69 799.2v2M818.69 884.2v-2M831.14 529.6v3.5M831.14 799.2v-3.5M831.14 799.2v2M831.14 884.2v-2M843.58 529.6v3.5M843.58 799.2v-3.5M843.58 799.2v2M843.58 884.2v-2M856.03 529.6v3.5M856.03 799.2v-3.5M856.03 799.2v2M856.03 884.2v-2M868.48 529.6v7M868.48 799.2v-7M868.48 799.2v4M868.48 884.2v-4M880.93 529.6v3.5M880.93 799.2v-3.5M880.93 799.2v2M880.93 884.2v-2M893.38 529.6v3.5M893.38 799.2v-3.5M893.38 799.2v2M893.38 884.2v-2M905.83 529.6v3.5M905.83 799.2v-3.5M905.83 799.2v2M905.83 884.2v-2M918.28 529.6v3.5M918.28 799.2v-3.5M918.28 799.2v2M918.28 884.2v-2M930.73 529.6v7M930.73 799.2v-7M930.73 799.2v4M930.73 884.2v-4M943.17 529.6v3.5M943.17 799.2v-3.5M943.17 799.2v2M943.17 884.2v-2M955.62 529.6v3.5M955.62 799.2v-3.5M955.62 799.2v2M955.62 884.2v-2M968.07 529.6v3.5M968.07 799.2v-3.5M968.07 799.2v2M968.07 884.2v-2M980.52 529.6v3.5M980.52 799.2v-3.5M980.52 799.2v2M980.52 884.2v-2M992.97 529.6v7M992.97 799.2v-7M992.97 799.2v4M992.97 884.2v-4M1005.42 529.6v3.5M1005.42 799.2v-3.5M1005.42 799.2v2M1005.42 884.2v-2M1017.87 529.6v3.5M1017.87 799.2v-3.5M1017.87 799.2v2M1017.87 884.2v-2M1030.32 529.6v3.5M1030.32 799.2v-3.5M1030.32 799.2v2M1030.32 884.2v-2M1042.76 529.6v3.5M1042.76 799.2v-3.5M1042.76 799.2v2M1042.76 884.2v-2M1055.21 529.6v7M1055.21 799.2v-7M1055.21 799.2v4M1055.21 884.2v-4M1067.66 529.6v3.5M1067.66 799.2v-3.5M1067.66 799.2v2M1067.66 884.2v-2M1080.11 529.6v3.5M1080.11 799.2v-3.5M1080.11 799.2v2M1080.11 884.2v-2M1092.56 529.6v3.5M1092.56 799.2v-3.5M1092.56 799.2v2M1092.56 884.2v-2M1105.01 529.6v3.5M1105.01 799.2v-3.5M1105.01 799.2v2M1105.01 884.2v-2M1117.46 529.6v7M1117.46 799.2v-7M1117.46 799.2v4M1117.46 884.2v-4M1129.91 529.6v3.5M1129.91 799.2v-3.5M1129.91 799.2v2M1129.91 884.2v-2M1142.35 529.6v3.5M1142.35 799.2v-3.5M1142.35 799.2v2M1142.35 884.2v-2M1154.8 529.6v3.5M1154.8 799.2v-3.5M1154.8 799.2v2M1154.8 884.2v-2M1167.25 529.6v3.5M1167.25 799.2v-3.5M1167.25 799.2v2M1167.25 884.2v-2M694.2 798.82h8M1179.7 798.82h-8M694.2 780.21h8M1179.7 780.21h-8M694.2 761.6h16M1179.7 761.6h-16M694.2 742.99h8M1179.7 742.99h-8M694.2 724.38h8M1179.7 724.38h-8M694.2 705.77h8M1179.7 705.77h-8M694.2 687.16h8M1179.7 687.16h-8M694.2 668.55h16M1179.7 668.55h-16M694.2 649.94h8M1179.7 649.94h-8M694.2 631.33h8M1179.7 631.33h-8M694.2 612.72h8M1179.7 612.72h-8M694.2 594.11h8M1179.7 594.11h-8M694.2 575.5h16M1179.7 575.5h-16M694.2 556.89h8M1179.7 556.89h-8M694.2 538.28h8M1179.7 538.28h-8M694.2 872.06h4.7M1179.7 872.06h-4.7M694.2 859.91h9.7M1179.7 859.91h-9.7M694.2 847.77h4.7M1179.7 847.77h-4.7M694.2 835.63h9.7M1179.7 835.63h-9.7M694.2 823.49h4.7M1179.7 823.49h-4.7M694.2 811.34h9.7M1179.7 811.34h-9.7" stroke="#000" stroke-width="1.3" fill="none"/>
<text transform="translate(737.99 902.7) scale(1 1.045)" font-size="21.6" font-family="'Liberation Sans', sans-serif" fill="#000" style="white-space:pre;font-kerning:none">5</text>
<text transform="translate(794.23 902.7) scale(1 1.045)" font-size="21.6" font-family="'Liberation Sans', sans-serif" fill="#000" style="white-space:pre;font-kerning:none"> 0</text>
<path transform="translate(794.23 902.7) scale(21.600 -22.572)" d="M.359 0V.703H.29C.266 .632 .205 .588 .101 .574V.503C.172 .511 .232 .535 .268 .566V0Z" fill="#000"/>
<text transform="translate(856.47 902.7) scale(1 1.045)" font-size="21.6" font-family="'Liberation Sans', sans-serif" fill="#000" style="white-space:pre;font-kerning:none"> 5</text>
<path transform="translate(856.47 902.7) scale(21.600 -22.572)" d="M.359 0V.703H.29C.266 .632 .205 .588 .101 .574V.503C.172 .511 .232 .535 .268 .566V0Z" fill="#000"/>
<text transform="translate(918.71 902.7) scale(1 1.045)" font-size="21.6" font-family="'Liberation Sans', sans-serif" fill="#000" style="white-space:pre;font-kerning:none">20</text>
<text transform="translate(980.96 902.7) scale(1 1.045)" font-size="21.6" font-family="'Liberation Sans', sans-serif" fill="#000" style="white-space:pre;font-kerning:none">25</text>
<text transform="translate(1043.2 902.7) scale(1 1.045)" font-size="21.6" font-family="'Liberation Sans', sans-serif" fill="#000" style="white-space:pre;font-kerning:none">30</text>
<text transform="translate(1105.44 902.7) scale(1 1.045)" font-size="21.6" font-family="'Liberation Sans', sans-serif" fill="#000" style="white-space:pre;font-kerning:none">35</text>
<text transform="translate(1167.69 902.7) scale(1 1.045)" font-size="21.6" font-family="'Liberation Sans', sans-serif" fill="#000" style="white-space:pre;font-kerning:none">40</text>
<text transform="translate(652.82 769.1) scale(1 1.045)" font-size="21.6" font-family="'Liberation Sans', sans-serif" fill="#000" style="white-space:pre;font-kerning:none">0.0 </text>
<path transform="translate(682.85 769.1) scale(21.600 -22.572)" d="M.359 0V.703H.29C.266 .632 .205 .588 .101 .574V.503C.172 .511 .232 .535 .268 .566V0Z" fill="#000"/>
<text transform="translate(649.65 676.05) scale(1 1.045)" font-size="21.6" font-family="'Liberation Sans', sans-serif" fill="#000" style="white-space:pre;font-kerning:none">0.02</text>
<text transform="translate(649.51 583) scale(1 1.045)" font-size="21.6" font-family="'Liberation Sans', sans-serif" fill="#000" style="white-space:pre;font-kerning:none">0.03</text>
<text transform="translate(661.52 891.7) scale(1 1.045)" font-size="21.6" font-family="'Liberation Sans', sans-serif" fill="#000" style="white-space:pre;font-kerning:none">0.6</text>
<text transform="translate(661.51 867.41) scale(1 1.045)" font-size="21.6" font-family="'Liberation Sans', sans-serif" fill="#000" style="white-space:pre;font-kerning:none">0.8</text>
<text transform="translate(682.85 844.03) scale(1 1.045)" font-size="21.6" font-family="'Liberation Sans', sans-serif" fill="#000" style="white-space:pre;font-kerning:none"> </text>
<path transform="translate(682.85 844.03) scale(21.600 -22.572)" d="M.359 0V.703H.29C.266 .632 .205 .588 .101 .574V.503C.172 .511 .232 .535 .268 .566V0Z" fill="#000"/>
<text transform="translate(661.66 818.84) scale(1 1.045)" font-size="21.6" font-family="'Liberation Sans', sans-serif" fill="#000" style="white-space:pre;font-kerning:none"> .2</text>
<path transform="translate(661.66 818.84) scale(21.600 -22.572)" d="M.359 0V.703H.29C.266 .632 .205 .588 .101 .574V.503C.172 .511 .232 .535 .268 .566V0Z" fill="#000"/>
<text transform="translate(987.84 938.5) scale(1 1.045)" font-size="21.4" font-family="'Liberation Sans', sans-serif" fill="#000" style="white-space:pre;font-kerning:none">Leading-jet p</text>
<text transform="translate(1111.58 950.5) scale(1 1.045)" font-size="15.2" font-family="'Liberation Sans', sans-serif" fill="#000" style="white-space:pre;font-kerning:none">T</text>
<text transform="translate(1120.87 938.5) scale(1 1.045)" font-size="21.4" font-family="'Liberation Sans', sans-serif" fill="#000" style="white-space:pre;font-kerning:none"> [GeV]</text>
<text transform="translate(633.7 799.3) rotate(-90) scale(1 1.045)" font-size="21.45" text-anchor="end" font-family="'Liberation Sans', sans-serif">MC/Data</text>
<text transform="translate(630.9 527.8) rotate(-90) scale(1 1.045)" font-size="21.5" text-anchor="end" font-family="'Liberation Sans', sans-serif">N(K<tspan font-size="15.5" dy="-9.2">0</tspan><tspan font-size="15.5" dx="-8.6" dy="21.1">S</tspan><tspan dy="-11.9">) / N(ch)</tspan></text>
<rect x="719.6" y="543.1" width="82.5" height="12.6" fill="#cccccc"/>
<line x1="719.6" y1="549.4" x2="802.1" y2="549.4" stroke="#000" stroke-width="1.7"/>
<circle cx="760.8" cy="549.4" r="5.8" fill="#000"/>
<line x1="719.6" y1="567.2" x2="802.1" y2="567.2" stroke="#0b46a8" stroke-width="3"/>
<line x1="719.6" y1="585.1" x2="802.1" y2="585.1" stroke="#66cc00" stroke-width="3.3" stroke-dasharray="3.3 3.13"/>
<line x1="719.6" y1="602.8" x2="802.1" y2="602.8" stroke="#d4174a" stroke-width="3.8" stroke-dasharray="1.45 1.75"/>
<text transform="translate(820 553.1) scale(1 1.045)" font-size="16.9" font-family="'Liberation Sans', sans-serif" fill="#000" style="white-space:pre;font-kerning:none">Data</text>
<text transform="translate(820 570.9) scale(1 1.045)" font-size="16.9" font-family="'Liberation Sans', sans-serif" fill="#000" style="white-space:pre;font-kerning:none">EPOS-LHC</text>
<text transform="translate(820 588.6) scale(1 1.045)" font-size="16.9" font-family="'Liberation Sans', sans-serif" fill="#000" style="white-space:pre;font-kerning:none">PY8-A2</text>
<text transform="translate(820 606.4) scale(1 1.045)" font-size="16.9" font-family="'Liberation Sans', sans-serif" fill="#000" style="white-space:pre;font-kerning:none">PY8-MONASH+CR</text>
<path d="M823.65 750.55 L826.45 762.65 L829.55 744.25 L842.25 744.25" stroke="#000" fill="none" stroke-width="1.1" stroke-linejoin="miter"/>
<path d="M823.95 750.85 L826.45 762.25" stroke="#000" fill="none" stroke-width="2"/>
<text transform="translate(832.25 762.55) scale(1 1.045)" font-size="21.3" font-family="'Liberation Sans', sans-serif" fill="#000" style="white-space:pre;font-kerning:none">s= 3 TeV</text>
<path transform="translate(855.34 762.55) scale(21.300 -22.258)" d="M.359 0V.703H.29C.266 .632 .205 .588 .101 .574V.503C.172 .511 .232 .535 .268 .566V0Z" fill="#000"/>
<text transform="translate(820.45 785.75) scale(1 1.045)" font-size="21.3" font-family="'Liberation Sans', sans-serif" fill="#000" style="white-space:pre;font-kerning:none">67x 0</text>
<path transform="translate(854.79 785.75) scale(21.300 -22.258)" d="M.359 0V.703H.29C.266 .632 .205 .588 .101 .574V.503C.172 .511 .232 .535 .268 .566V0Z" fill="#000"/>
<text transform="translate(878.48 776.05) scale(1 1.045)" font-size="14.8" font-family="'Liberation Sans', sans-serif" fill="#000" style="white-space:pre;font-kerning:none">6</text>
<text transform="translate(886.72 785.75) scale(1 1.045)" font-size="21.3" font-family="'Liberation Sans', sans-serif" fill="#000" style="white-space:pre;font-kerning:none"> Events</text>
<text transform="translate(972.65 762.65) scale(1 1.045)" font-size="21.7" font-family="'Liberation Sans', sans-serif" font-weight="bold" font-style="italic" fill="#000" style="white-space:pre;font-kerning:none">ATLAS</text>
<text transform="translate(972.65 785.75) scale(1 1.045)" font-size="21.65" font-family="'Liberation Sans', sans-serif" fill="#000" style="white-space:pre;font-kerning:none">Towards Region</text>
<text x="899.5" y="990.5" font-size="24" text-anchor="middle" font-family="'Liberation Serif', serif">(d)</text>
<clipPath id="cme"><rect x="93.7" y="1057.8" width="485.8" height="269.4"/></clipPath>
<clipPath id="cre"><rect x="93.7" y="1327.2" width="485.8" height="86.1"/></clipPath>
<g clip-path="url(#cme)">
<rect x="93.7" y="1307.48" width="6.23" height="1.04" fill="#cccccc"/>
<rect x="99.93" y="1293.03" width="6.23" height="1.75" fill="#cccccc"/>
<rect x="106.16" y="1279.09" width="6.23" height="2.43" fill="#cccccc"/>
<rect x="112.38" y="1265.97" width="6.23" height="3.07" fill="#cccccc"/>
<rect x="118.61" y="1253.87" width="6.23" height="3.66" fill="#cccccc"/>
<rect x="124.84" y="1243.01" width="6.23" height="4.19" fill="#cccccc"/>
<rect x="131.07" y="1233.27" width="6.23" height="4.66" fill="#cccccc"/>
<rect x="137.3" y="1224.45" width="6.23" height="5.09" fill="#cccccc"/>
<rect x="143.53" y="1217.59" width="6.23" height="5.43" fill="#cccccc"/>
<rect x="149.75" y="1211.54" width="6.23" height="5.72" fill="#cccccc"/>
<rect x="155.98" y="1206.31" width="6.23" height="5.98" fill="#cccccc"/>
<rect x="162.21" y="1199.44" width="6.23" height="6.31" fill="#cccccc"/>
<rect x="168.44" y="1196.37" width="6.23" height="6.46" fill="#cccccc"/>
<rect x="174.67" y="1196.37" width="6.23" height="6.46" fill="#cccccc"/>
<rect x="180.89" y="1189.75" width="12.46" height="8.1" fill="#cccccc"/>
<rect x="193.35" y="1188.14" width="12.46" height="8.73" fill="#cccccc"/>
<rect x="205.81" y="1185.93" width="12.46" height="9.13" fill="#cccccc"/>
<rect x="218.26" y="1183.38" width="12.46" height="9.84" fill="#cccccc"/>
<rect x="230.72" y="1186.07" width="12.46" height="10.45" fill="#cccccc"/>
<rect x="243.18" y="1187.01" width="12.46" height="10.39" fill="#cccccc"/>
<rect x="255.63" y="1183.1" width="24.91" height="10.4" fill="#cccccc"/>
<rect x="280.55" y="1186.07" width="24.91" height="10.45" fill="#cccccc"/>
<rect x="305.46" y="1189.65" width="24.91" height="10.71" fill="#cccccc"/>
<rect x="330.37" y="1192.74" width="62.28" height="9.71" fill="#cccccc"/>
<rect x="392.65" y="1191.69" width="62.28" height="11.81" fill="#cccccc"/>
<rect x="454.94" y="1187.5" width="62.28" height="16" fill="#cccccc"/>
<rect x="517.22" y="1177.7" width="62.28" height="22.39" fill="#cccccc"/>
</g>
<line x1="93.7" y1="1308" x2="99.93" y2="1308" stroke="#000" stroke-width="1.7"/>
<line x1="99.93" y1="1293.9" x2="106.16" y2="1293.9" stroke="#000" stroke-width="1.7"/>
<line x1="106.16" y1="1280.3" x2="112.38" y2="1280.3" stroke="#000" stroke-width="1.7"/>
<line x1="112.38" y1="1267.5" x2="118.61" y2="1267.5" stroke="#000" stroke-width="1.7"/>
<line x1="118.61" y1="1255.7" x2="124.84" y2="1255.7" stroke="#000" stroke-width="1.7"/>
<line x1="124.84" y1="1245.1" x2="131.07" y2="1245.1" stroke="#000" stroke-width="1.7"/>
<line x1="131.07" y1="1235.6" x2="137.3" y2="1235.6" stroke="#000" stroke-width="1.7"/>
<line x1="137.3" y1="1227" x2="143.53" y2="1227" stroke="#000" stroke-width="1.7"/>
<line x1="143.53" y1="1220.3" x2="149.75" y2="1220.3" stroke="#000" stroke-width="1.7"/>
<line x1="149.75" y1="1214.4" x2="155.98" y2="1214.4" stroke="#000" stroke-width="1.7"/>
<line x1="155.98" y1="1209.3" x2="162.21" y2="1209.3" stroke="#000" stroke-width="1.7"/>
<line x1="162.21" y1="1202.6" x2="168.44" y2="1202.6" stroke="#000" stroke-width="1.7"/>
<line x1="168.44" y1="1199.6" x2="174.67" y2="1199.6" stroke="#000" stroke-width="1.7"/>
<line x1="174.67" y1="1199.6" x2="180.89" y2="1199.6" stroke="#000" stroke-width="1.7"/>
<line x1="180.89" y1="1193.8" x2="193.35" y2="1193.8" stroke="#000" stroke-width="1.7"/>
<line x1="193.35" y1="1192.5" x2="205.81" y2="1192.5" stroke="#000" stroke-width="1.7"/>
<line x1="205.81" y1="1190.5" x2="218.26" y2="1190.5" stroke="#000" stroke-width="1.7"/>
<line x1="218.26" y1="1188.3" x2="230.72" y2="1188.3" stroke="#000" stroke-width="1.7"/>
<line x1="230.72" y1="1191.3" x2="243.18" y2="1191.3" stroke="#000" stroke-width="1.7"/>
<line x1="243.18" y1="1192.2" x2="255.63" y2="1192.2" stroke="#000" stroke-width="1.7"/>
<line x1="255.63" y1="1188.3" x2="280.55" y2="1188.3" stroke="#000" stroke-width="1.7"/>
<line x1="280.55" y1="1191.3" x2="305.46" y2="1191.3" stroke="#000" stroke-width="1.7"/>
<line x1="305.46" y1="1195" x2="330.37" y2="1195" stroke="#000" stroke-width="1.7"/>
<line x1="330.37" y1="1197.6" x2="392.65" y2="1197.6" stroke="#000" stroke-width="1.7"/>
<line x1="392.65" y1="1197.6" x2="454.94" y2="1197.6" stroke="#000" stroke-width="1.7"/>
<line x1="423.79" y1="1195.63" x2="423.79" y2="1199.57" stroke="#000" stroke-width="1.7"/>
<line x1="454.94" y1="1195.5" x2="517.22" y2="1195.5" stroke="#000" stroke-width="1.7"/>
<line x1="486.08" y1="1191.5" x2="486.08" y2="1199.5" stroke="#000" stroke-width="1.7"/>
<line x1="517.22" y1="1188.9" x2="579.5" y2="1188.9" stroke="#000" stroke-width="1.7"/>
<line x1="548.36" y1="1179.8" x2="548.36" y2="1198" stroke="#000" stroke-width="1.7"/>
<circle cx="96.81" cy="1308" r="5.8" fill="#000"/>
<circle cx="103.04" cy="1293.9" r="5.8" fill="#000"/>
<circle cx="109.27" cy="1280.3" r="5.8" fill="#000"/>
<circle cx="115.5" cy="1267.5" r="5.8" fill="#000"/>
<circle cx="121.73" cy="1255.7" r="5.8" fill="#000"/>
<circle cx="127.96" cy="1245.1" r="5.8" fill="#000"/>
<circle cx="134.18" cy="1235.6" r="5.8" fill="#000"/>
<circle cx="140.41" cy="1227" r="5.8" fill="#000"/>
<circle cx="146.64" cy="1220.3" r="5.8" fill="#000"/>
<circle cx="152.87" cy="1214.4" r="5.8" fill="#000"/>
<circle cx="159.1" cy="1209.3" r="5.8" fill="#000"/>
<circle cx="165.32" cy="1202.6" r="5.8" fill="#000"/>
<circle cx="171.55" cy="1199.6" r="5.8" fill="#000"/>
<circle cx="177.78" cy="1199.6" r="5.8" fill="#000"/>
<circle cx="187.12" cy="1193.8" r="5.8" fill="#000"/>
<circle cx="199.58" cy="1192.5" r="5.8" fill="#000"/>
<circle cx="212.04" cy="1190.5" r="5.8" fill="#000"/>
<circle cx="224.49" cy="1188.3" r="5.8" fill="#000"/>
<circle cx="236.95" cy="1191.3" r="5.8" fill="#000"/>
<circle cx="249.41" cy="1192.2" r="5.8" fill="#000"/>
<circle cx="268.09" cy="1188.3" r="5.8" fill="#000"/>
<circle cx="293" cy="1191.3" r="5.8" fill="#000"/>
<circle cx="317.92" cy="1195" r="5.8" fill="#000"/>
<circle cx="361.51" cy="1197.6" r="5.8" fill="#000"/>
<circle cx="423.79" cy="1197.6" r="5.8" fill="#000"/>
<circle cx="486.08" cy="1195.5" r="5.8" fill="#000"/>
<circle cx="548.36" cy="1188.9" r="5.8" fill="#000"/>
<g clip-path="url(#cme)">
<path d="M96.81 1310.9H93.7M96.81 1310.9H99.93" stroke="#0b46a8" stroke-width="3" fill="none"/>
<path d="M103.04 1299.4H99.93M103.04 1299.4H106.16" stroke="#0b46a8" stroke-width="3" fill="none"/>
<path d="M109.27 1287H106.16M109.27 1287H112.38" stroke="#0b46a8" stroke-width="3" fill="none"/>
<path d="M115.5 1274.2H112.38M115.5 1274.2H118.61" stroke="#0b46a8" stroke-width="3" fill="none"/>
<path d="M121.73 1261H118.61M121.73 1261H124.84" stroke="#0b46a8" stroke-width="3" fill="none"/>
<path d="M127.96 1248.6H124.84M127.96 1248.6H131.07" stroke="#0b46a8" stroke-width="3" fill="none"/>
<path d="M134.18 1238H131.07M134.18 1238H137.3" stroke="#0b46a8" stroke-width="3" fill="none"/>
<path d="M140.41 1228.9H137.3M140.41 1228.9H143.53" stroke="#0b46a8" stroke-width="3" fill="none"/>
<path d="M146.64 1221.5H143.53M146.64 1221.5H149.75" stroke="#0b46a8" stroke-width="3" fill="none"/>
<path d="M152.87 1215.5H149.75M152.87 1215.5H155.98" stroke="#0b46a8" stroke-width="3" fill="none"/>
<path d="M159.1 1210.8H155.98M159.1 1210.8H162.21" stroke="#0b46a8" stroke-width="3" fill="none"/>
<path d="M165.32 1207.6H162.21M165.32 1207.6H168.44" stroke="#0b46a8" stroke-width="3" fill="none"/>
<path d="M171.55 1206.1H168.44M171.55 1206.1H174.67" stroke="#0b46a8" stroke-width="3" fill="none"/>
<path d="M177.78 1205.3H174.67M177.78 1205.3H180.89" stroke="#0b46a8" stroke-width="3" fill="none"/>
<path d="M187.12 1205.2H180.89M187.12 1205.2H193.35" stroke="#0b46a8" stroke-width="3" fill="none"/>
<path d="M199.58 1208.3H193.35M199.58 1208.3H205.81" stroke="#0b46a8" stroke-width="3" fill="none"/>
<path d="M212.04 1209.7H205.81M212.04 1209.7H218.26" stroke="#0b46a8" stroke-width="3" fill="none"/>
<path d="M224.49 1213.3H218.26M224.49 1213.3H230.72" stroke="#0b46a8" stroke-width="3" fill="none"/>
<path d="M236.95 1217.2H230.72M236.95 1217.2H243.18" stroke="#0b46a8" stroke-width="3" fill="none"/>
<path d="M249.41 1219.7H243.18M249.41 1219.7H255.63" stroke="#0b46a8" stroke-width="3" fill="none"/>
<path d="M268.09 1219.7H255.63M268.09 1219.7H280.55" stroke="#0b46a8" stroke-width="3" fill="none"/>
<path d="M293 1220H280.55M293 1220H305.46" stroke="#0b46a8" stroke-width="3" fill="none"/>
<path d="M317.92 1220H305.46M317.92 1220H330.37" stroke="#0b46a8" stroke-width="3" fill="none"/>
<path d="M361.51 1217.4H330.37M361.51 1217.4H392.65" stroke="#0b46a8" stroke-width="3" fill="none"/>
<path d="M423.79 1214.4H392.65M423.79 1214.4H454.94M423.79 1214.4V1212.23M423.79 1214.4V1216.57" stroke="#0b46a8" stroke-width="3" fill="none"/>
<path d="M486.08 1217.9H454.94M486.08 1217.9H517.22M486.08 1217.9V1215.24M486.08 1217.9V1220.56" stroke="#0b46a8" stroke-width="3" fill="none"/>
<path d="M548.36 1207.8H517.22M548.36 1207.8H579.5M548.36 1207.8V1204.17M548.36 1207.8V1211.43" stroke="#0b46a8" stroke-width="3" fill="none"/>
</g>
<g clip-path="url(#cme)">
<path d="M96.81 1312.7H93.7M96.81 1312.7H99.93" stroke="#66cc00" stroke-width="3.2" fill="none" stroke-dasharray="3.3 3.13"/>
<path d="M103.04 1304.7H99.93M103.04 1304.7H106.16" stroke="#66cc00" stroke-width="3.2" fill="none" stroke-dasharray="3.3 3.13"/>
<path d="M109.27 1296.8H106.16M109.27 1296.8H112.38" stroke="#66cc00" stroke-width="3.2" fill="none" stroke-dasharray="3.3 3.13"/>
<path d="M115.5 1289.1H112.38M115.5 1289.1H118.61" stroke="#66cc00" stroke-width="3.2" fill="none" stroke-dasharray="3.3 3.13"/>
<path d="M121.73 1282H118.61M121.73 1282H124.84" stroke="#66cc00" stroke-width="3.2" fill="none" stroke-dasharray="3.3 3.13"/>
<path d="M127.96 1275.2H124.84M127.96 1275.2H131.07" stroke="#66cc00" stroke-width="3.2" fill="none" stroke-dasharray="3.3 3.13"/>
<path d="M134.18 1269.9H131.07M134.18 1269.9H137.3" stroke="#66cc00" stroke-width="3.2" fill="none" stroke-dasharray="3.3 3.13"/>
<path d="M140.41 1264.6H137.3M140.41 1264.6H143.53" stroke="#66cc00" stroke-width="3.2" fill="none" stroke-dasharray="3.3 3.13"/>
<path d="M146.64 1260.8H143.53M146.64 1260.8H149.75" stroke="#66cc00" stroke-width="3.2" fill="none" stroke-dasharray="3.3 3.13"/>
<path d="M152.87 1257.2H149.75M152.87 1257.2H155.98" stroke="#66cc00" stroke-width="3.2" fill="none" stroke-dasharray="3.3 3.13"/>
<path d="M159.1 1254.2H155.98M159.1 1254.2H162.21" stroke="#66cc00" stroke-width="3.2" fill="none" stroke-dasharray="3.3 3.13"/>
<path d="M165.32 1251.6H162.21M165.32 1251.6H168.44" stroke="#66cc00" stroke-width="3.2" fill="none" stroke-dasharray="3.3 3.13"/>
<path d="M171.55 1249.8H168.44M171.55 1249.8H174.67" stroke="#66cc00" stroke-width="3.2" fill="none" stroke-dasharray="3.3 3.13"/>
<path d="M177.78 1248.3H174.67M177.78 1248.3H180.89" stroke="#66cc00" stroke-width="3.2" fill="none" stroke-dasharray="3.3 3.13"/>
<path d="M187.12 1246.6H180.89M187.12 1246.6H193.35" stroke="#66cc00" stroke-width="3.2" fill="none" stroke-dasharray="3.3 3.13"/>
<path d="M199.58 1243.3H193.35M199.58 1243.3H205.81" stroke="#66cc00" stroke-width="3.2" fill="none" stroke-dasharray="3.3 3.13"/>
<path d="M212.04 1241.2H205.81M212.04 1241.2H218.26" stroke="#66cc00" stroke-width="3.2" fill="none" stroke-dasharray="3.3 3.13"/>
<path d="M224.49 1240H218.26M224.49 1240H230.72" stroke="#66cc00" stroke-width="3.2" fill="none" stroke-dasharray="3.3 3.13"/>
<path d="M236.95 1240H230.72M236.95 1240H243.18" stroke="#66cc00" stroke-width="3.2" fill="none" stroke-dasharray="3.3 3.13"/>
<path d="M249.41 1240.7H243.18M249.41 1240.7H255.63" stroke="#66cc00" stroke-width="3.2" fill="none" stroke-dasharray="3.3 3.13"/>
<path d="M268.09 1237.5H255.63M268.09 1237.5H280.55" stroke="#66cc00" stroke-width="3.2" fill="none" stroke-dasharray="3.3 3.13"/>
<path d="M293 1236.7H280.55M293 1236.7H305.46" stroke="#66cc00" stroke-width="3.2" fill="none" stroke-dasharray="3.3 3.13"/>
<path d="M317.92 1233.3H305.46M317.92 1233.3H330.37" stroke="#66cc00" stroke-width="3.2" fill="none" stroke-dasharray="3.3 3.13"/>
<path d="M361.51 1232.4H330.37M361.51 1232.4H392.65" stroke="#66cc00" stroke-width="3.2" fill="none" stroke-dasharray="3.3 3.13"/>
<path d="M423.79 1231.9H392.65M423.79 1231.9H454.94M423.79 1231.9V1230.06M423.79 1231.9V1233.74" stroke="#66cc00" stroke-width="3.2" fill="none" stroke-dasharray="3.3 3.13"/>
<path d="M486.08 1231H454.94M486.08 1231H517.22M486.08 1231V1228.65M486.08 1231V1233.35" stroke="#66cc00" stroke-width="3.2" fill="none" stroke-dasharray="3.3 3.13"/>
<path d="M548.36 1224.7H517.22M548.36 1224.7H579.5M548.36 1224.7V1221.58M548.36 1224.7V1227.82" stroke="#66cc00" stroke-width="3.2" fill="none" stroke-dasharray="3.3 3.13"/>
</g>
<g clip-path="url(#cme)">
<path d="M96.81 1311.6H93.7M96.81 1311.6H99.93" stroke="#d4174a" stroke-width="3.8" fill="none" stroke-dasharray="1.45 1.75"/>
<circle cx="96.81" cy="1311.6" r="1.65" fill="#d4174a"/>
<path d="M103.04 1302.1H99.93M103.04 1302.1H106.16" stroke="#d4174a" stroke-width="3.8" fill="none" stroke-dasharray="1.45 1.75"/>
<circle cx="103.04" cy="1302.1" r="1.65" fill="#d4174a"/>
<path d="M109.27 1293.1H106.16M109.27 1293.1H112.38" stroke="#d4174a" stroke-width="3.8" fill="none" stroke-dasharray="1.45 1.75"/>
<circle cx="109.27" cy="1293.1" r="1.65" fill="#d4174a"/>
<path d="M115.5 1284H112.38M115.5 1284H118.61" stroke="#d4174a" stroke-width="3.8" fill="none" stroke-dasharray="1.45 1.75"/>
<circle cx="115.5" cy="1284" r="1.65" fill="#d4174a"/>
<path d="M121.73 1275H118.61M121.73 1275H124.84" stroke="#d4174a" stroke-width="3.8" fill="none" stroke-dasharray="1.45 1.75"/>
<circle cx="121.73" cy="1275" r="1.65" fill="#d4174a"/>
<path d="M127.96 1266H124.84M127.96 1266H131.07" stroke="#d4174a" stroke-width="3.8" fill="none" stroke-dasharray="1.45 1.75"/>
<circle cx="127.96" cy="1266" r="1.65" fill="#d4174a"/>
<path d="M134.18 1258.1H131.07M134.18 1258.1H137.3" stroke="#d4174a" stroke-width="3.8" fill="none" stroke-dasharray="1.45 1.75"/>
<circle cx="134.18" cy="1258.1" r="1.65" fill="#d4174a"/>
<path d="M140.41 1251.3H137.3M140.41 1251.3H143.53" stroke="#d4174a" stroke-width="3.8" fill="none" stroke-dasharray="1.45 1.75"/>
<circle cx="140.41" cy="1251.3" r="1.65" fill="#d4174a"/>
<path d="M146.64 1245.1H143.53M146.64 1245.1H149.75" stroke="#d4174a" stroke-width="3.8" fill="none" stroke-dasharray="1.45 1.75"/>
<circle cx="146.64" cy="1245.1" r="1.65" fill="#d4174a"/>
<path d="M152.87 1239.8H149.75M152.87 1239.8H155.98" stroke="#d4174a" stroke-width="3.8" fill="none" stroke-dasharray="1.45 1.75"/>
<circle cx="152.87" cy="1239.8" r="1.65" fill="#d4174a"/>
<path d="M159.1 1235.3H155.98M159.1 1235.3H162.21" stroke="#d4174a" stroke-width="3.8" fill="none" stroke-dasharray="1.45 1.75"/>
<circle cx="159.1" cy="1235.3" r="1.65" fill="#d4174a"/>
<path d="M165.32 1231.5H162.21M165.32 1231.5H168.44" stroke="#d4174a" stroke-width="3.8" fill="none" stroke-dasharray="1.45 1.75"/>
<circle cx="165.32" cy="1231.5" r="1.65" fill="#d4174a"/>
<path d="M171.55 1228H168.44M171.55 1228H174.67" stroke="#d4174a" stroke-width="3.8" fill="none" stroke-dasharray="1.45 1.75"/>
<circle cx="171.55" cy="1228" r="1.65" fill="#d4174a"/>
<path d="M177.78 1225.6H174.67M177.78 1225.6H180.89" stroke="#d4174a" stroke-width="3.8" fill="none" stroke-dasharray="1.45 1.75"/>
<circle cx="177.78" cy="1225.6" r="1.65" fill="#d4174a"/>
<path d="M187.12 1223.4H180.89M187.12 1223.4H193.35" stroke="#d4174a" stroke-width="3.8" fill="none" stroke-dasharray="1.45 1.75"/>
<circle cx="187.12" cy="1223.4" r="1.65" fill="#d4174a"/>
<path d="M199.58 1220.8H193.35M199.58 1220.8H205.81" stroke="#d4174a" stroke-width="3.8" fill="none" stroke-dasharray="1.45 1.75"/>
<circle cx="199.58" cy="1220.8" r="1.65" fill="#d4174a"/>
<path d="M212.04 1218.7H205.81M212.04 1218.7H218.26" stroke="#d4174a" stroke-width="3.8" fill="none" stroke-dasharray="1.45 1.75"/>
<circle cx="212.04" cy="1218.7" r="1.65" fill="#d4174a"/>
<path d="M224.49 1217.5H218.26M224.49 1217.5H230.72" stroke="#d4174a" stroke-width="3.8" fill="none" stroke-dasharray="1.45 1.75"/>
<circle cx="224.49" cy="1217.5" r="1.65" fill="#d4174a"/>
<path d="M236.95 1217H230.72M236.95 1217H243.18" stroke="#d4174a" stroke-width="3.8" fill="none" stroke-dasharray="1.45 1.75"/>
<circle cx="236.95" cy="1217" r="1.65" fill="#d4174a"/>
<path d="M249.41 1216.7H243.18M249.41 1216.7H255.63" stroke="#d4174a" stroke-width="3.8" fill="none" stroke-dasharray="1.45 1.75"/>
<circle cx="249.41" cy="1216.7" r="1.65" fill="#d4174a"/>
<path d="M268.09 1215.8H255.63M268.09 1215.8H280.55" stroke="#d4174a" stroke-width="3.8" fill="none" stroke-dasharray="1.45 1.75"/>
<circle cx="268.09" cy="1215.8" r="1.65" fill="#d4174a"/>
<path d="M293 1214.5H280.55M293 1214.5H305.46" stroke="#d4174a" stroke-width="3.8" fill="none" stroke-dasharray="1.45 1.75"/>
<circle cx="293" cy="1214.5" r="1.65" fill="#d4174a"/>
<path d="M317.92 1213.3H305.46M317.92 1213.3H330.37" stroke="#d4174a" stroke-width="3.8" fill="none" stroke-dasharray="1.45 1.75"/>
<circle cx="317.92" cy="1213.3" r="1.65" fill="#d4174a"/>
<path d="M361.51 1213.4H330.37M361.51 1213.4H392.65" stroke="#d4174a" stroke-width="3.8" fill="none" stroke-dasharray="1.45 1.75"/>
<circle cx="361.51" cy="1213.4" r="1.65" fill="#d4174a"/>
<path d="M423.79 1212.7H392.65M423.79 1212.7H454.94" stroke="#d4174a" stroke-width="3.8" fill="none" stroke-dasharray="1.45 1.75"/>
<circle cx="423.79" cy="1212.7" r="1.65" fill="#d4174a"/>
<path d="M486.08 1212.1H454.94M486.08 1212.1H517.22" stroke="#d4174a" stroke-width="3.8" fill="none" stroke-dasharray="1.45 1.75"/>
<circle cx="486.08" cy="1212.1" r="1.65" fill="#d4174a"/>
<path d="M548.36 1212.1H517.22M548.36 1212.1H579.5" stroke="#d4174a" stroke-width="3.8" fill="none" stroke-dasharray="1.45 1.75"/>
<circle cx="548.36" cy="1212.1" r="1.65" fill="#d4174a"/>
</g>
<g clip-path="url(#cre)">
<rect x="93.7" y="1348.73" width="6.23" height="6.15" fill="#cccccc"/>
<rect x="99.93" y="1348.73" width="6.23" height="6.15" fill="#cccccc"/>
<rect x="106.16" y="1348.73" width="6.23" height="6.15" fill="#cccccc"/>
<rect x="112.38" y="1348.73" width="6.23" height="6.15" fill="#cccccc"/>
<rect x="118.61" y="1348.73" width="6.23" height="6.15" fill="#cccccc"/>
<rect x="124.84" y="1348.73" width="6.23" height="6.15" fill="#cccccc"/>
<rect x="131.07" y="1348.73" width="6.23" height="6.15" fill="#cccccc"/>
<rect x="137.3" y="1348.73" width="6.23" height="6.15" fill="#cccccc"/>
<rect x="143.53" y="1348.73" width="6.23" height="6.15" fill="#cccccc"/>
<rect x="149.75" y="1348.73" width="6.23" height="6.15" fill="#cccccc"/>
<rect x="155.98" y="1348.73" width="6.23" height="6.15" fill="#cccccc"/>
<rect x="162.21" y="1348.73" width="6.23" height="6.15" fill="#cccccc"/>
<rect x="168.44" y="1348.73" width="6.23" height="6.15" fill="#cccccc"/>
<rect x="174.67" y="1348.73" width="6.23" height="6.15" fill="#cccccc"/>
<rect x="180.89" y="1348.11" width="12.46" height="7.38" fill="#cccccc"/>
<rect x="193.35" y="1347.86" width="12.46" height="7.87" fill="#cccccc"/>
<rect x="205.81" y="1347.74" width="12.46" height="8.12" fill="#cccccc"/>
<rect x="218.26" y="1347.5" width="12.46" height="8.61" fill="#cccccc"/>
<rect x="230.72" y="1347.13" width="12.46" height="9.35" fill="#cccccc"/>
<rect x="243.18" y="1347.13" width="12.46" height="9.35" fill="#cccccc"/>
<rect x="255.63" y="1347.25" width="24.91" height="9.1" fill="#cccccc"/>
<rect x="280.55" y="1347.13" width="24.91" height="9.35" fill="#cccccc"/>
<rect x="305.46" y="1346.88" width="24.91" height="9.84" fill="#cccccc"/>
<rect x="330.37" y="1347.25" width="62.28" height="9.1" fill="#cccccc"/>
<rect x="392.65" y="1346.27" width="62.28" height="11.07" fill="#cccccc"/>
<rect x="454.94" y="1344.42" width="62.28" height="14.76" fill="#cccccc"/>
<rect x="517.22" y="1341.96" width="62.28" height="19.68" fill="#cccccc"/>
</g>
<line x1="93.7" y1="1351.8" x2="99.93" y2="1351.8" stroke="#000" stroke-width="1.7"/>
<line x1="99.93" y1="1351.8" x2="106.16" y2="1351.8" stroke="#000" stroke-width="1.7"/>
<line x1="106.16" y1="1351.8" x2="112.38" y2="1351.8" stroke="#000" stroke-width="1.7"/>
<line x1="112.38" y1="1351.8" x2="118.61" y2="1351.8" stroke="#000" stroke-width="1.7"/>
<line x1="118.61" y1="1351.8" x2="124.84" y2="1351.8" stroke="#000" stroke-width="1.7"/>
<line x1="124.84" y1="1351.8" x2="131.07" y2="1351.8" stroke="#000" stroke-width="1.7"/>
<line x1="131.07" y1="1351.8" x2="137.3" y2="1351.8" stroke="#000" stroke-width="1.7"/>
<line x1="137.3" y1="1351.8" x2="143.53" y2="1351.8" stroke="#000" stroke-width="1.7"/>
<line x1="143.53" y1="1351.8" x2="149.75" y2="1351.8" stroke="#000" stroke-width="1.7"/>
<line x1="149.75" y1="1351.8" x2="155.98" y2="1351.8" stroke="#000" stroke-width="1.7"/>
<line x1="155.98" y1="1351.8" x2="162.21" y2="1351.8" stroke="#000" stroke-width="1.7"/>
<line x1="162.21" y1="1351.8" x2="168.44" y2="1351.8" stroke="#000" stroke-width="1.7"/>
<line x1="168.44" y1="1351.8" x2="174.67" y2="1351.8" stroke="#000" stroke-width="1.7"/>
<line x1="174.67" y1="1351.8" x2="180.89" y2="1351.8" stroke="#000" stroke-width="1.7"/>
<line x1="180.89" y1="1351.8" x2="193.35" y2="1351.8" stroke="#000" stroke-width="1.7"/>
<line x1="193.35" y1="1351.8" x2="205.81" y2="1351.8" stroke="#000" stroke-width="1.7"/>
<line x1="205.81" y1="1351.8" x2="218.26" y2="1351.8" stroke="#000" stroke-width="1.7"/>
<line x1="218.26" y1="1351.8" x2="230.72" y2="1351.8" stroke="#000" stroke-width="1.7"/>
<line x1="230.72" y1="1351.8" x2="243.18" y2="1351.8" stroke="#000" stroke-width="1.7"/>
<line x1="243.18" y1="1351.8" x2="255.63" y2="1351.8" stroke="#000" stroke-width="1.7"/>
<line x1="255.63" y1="1351.8" x2="280.55" y2="1351.8" stroke="#000" stroke-width="1.7"/>
<line x1="280.55" y1="1351.8" x2="305.46" y2="1351.8" stroke="#000" stroke-width="1.7"/>
<line x1="305.46" y1="1351.8" x2="330.37" y2="1351.8" stroke="#000" stroke-width="1.7"/>
<line x1="330.37" y1="1351.8" x2="392.65" y2="1351.8" stroke="#000" stroke-width="1.7"/>
<line x1="392.65" y1="1351.8" x2="454.94" y2="1351.8" stroke="#000" stroke-width="1.7"/>
<line x1="423.79" y1="1349.95" x2="423.79" y2="1353.64" stroke="#000" stroke-width="1.7"/>
<line x1="454.94" y1="1351.8" x2="517.22" y2="1351.8" stroke="#000" stroke-width="1.7"/>
<line x1="486.08" y1="1348.11" x2="486.08" y2="1355.49" stroke="#000" stroke-width="1.7"/>
<line x1="517.22" y1="1351.8" x2="579.5" y2="1351.8" stroke="#000" stroke-width="1.7"/>
<line x1="548.36" y1="1343.81" x2="548.36" y2="1359.8" stroke="#000" stroke-width="1.7"/>
<circle cx="96.81" cy="1351.8" r="5.8" fill="#000"/>
<circle cx="103.04" cy="1351.8" r="5.8" fill="#000"/>
<circle cx="109.27" cy="1351.8" r="5.8" fill="#000"/>
<circle cx="115.5" cy="1351.8" r="5.8" fill="#000"/>
<circle cx="121.73" cy="1351.8" r="5.8" fill="#000"/>
<circle cx="127.96" cy="1351.8" r="5.8" fill="#000"/>
<circle cx="134.18" cy="1351.8" r="5.8" fill="#000"/>
<circle cx="140.41" cy="1351.8" r="5.8" fill="#000"/>
<circle cx="146.64" cy="1351.8" r="5.8" fill="#000"/>
<circle cx="152.87" cy="1351.8" r="5.8" fill="#000"/>
<circle cx="159.1" cy="1351.8" r="5.8" fill="#000"/>
<circle cx="165.32" cy="1351.8" r="5.8" fill="#000"/>
<circle cx="171.55" cy="1351.8" r="5.8" fill="#000"/>
<circle cx="177.78" cy="1351.8" r="5.8" fill="#000"/>
<circle cx="187.12" cy="1351.8" r="5.8" fill="#000"/>
<circle cx="199.58" cy="1351.8" r="5.8" fill="#000"/>
<circle cx="212.04" cy="1351.8" r="5.8" fill="#000"/>
<circle cx="224.49" cy="1351.8" r="5.8" fill="#000"/>
<circle cx="236.95" cy="1351.8" r="5.8" fill="#000"/>
<circle cx="249.41" cy="1351.8" r="5.8" fill="#000"/>
<circle cx="268.09" cy="1351.8" r="5.8" fill="#000"/>
<circle cx="293" cy="1351.8" r="5.8" fill="#000"/>
<circle cx="317.92" cy="1351.8" r="5.8" fill="#000"/>
<circle cx="361.51" cy="1351.8" r="5.8" fill="#000"/>
<circle cx="423.79" cy="1351.8" r="5.8" fill="#000"/>
<circle cx="486.08" cy="1351.8" r="5.8" fill="#000"/>
<circle cx="548.36" cy="1351.8" r="5.8" fill="#000"/>
<g clip-path="url(#cre)">
<path d="M96.81 1368.91H93.7M96.81 1368.91H99.93" stroke="#0b46a8" stroke-width="3" fill="none"/>
<path d="M103.04 1371.16H99.93M103.04 1371.16H106.16" stroke="#0b46a8" stroke-width="3" fill="none"/>
<path d="M109.27 1368.77H106.16M109.27 1368.77H112.38" stroke="#0b46a8" stroke-width="3" fill="none"/>
<path d="M115.5 1365.23H112.38M115.5 1365.23H118.61" stroke="#0b46a8" stroke-width="3" fill="none"/>
<path d="M121.73 1360.71H118.61M121.73 1360.71H124.84" stroke="#0b46a8" stroke-width="3" fill="none"/>
<path d="M127.96 1356.94H124.84M127.96 1356.94H131.07" stroke="#0b46a8" stroke-width="3" fill="none"/>
<path d="M134.18 1354.97H131.07M134.18 1354.97H137.3" stroke="#0b46a8" stroke-width="3" fill="none"/>
<path d="M140.41 1354.09H137.3M140.41 1354.09H143.53" stroke="#0b46a8" stroke-width="3" fill="none"/>
<path d="M146.64 1353.16H143.53M146.64 1353.16H149.75" stroke="#0b46a8" stroke-width="3" fill="none"/>
<path d="M152.87 1352.98H149.75M152.87 1352.98H155.98" stroke="#0b46a8" stroke-width="3" fill="none"/>
<path d="M159.1 1353.34H155.98M159.1 1353.34H162.21" stroke="#0b46a8" stroke-width="3" fill="none"/>
<path d="M165.32 1356.67H162.21M165.32 1356.67H168.44" stroke="#0b46a8" stroke-width="3" fill="none"/>
<path d="M171.55 1357.99H168.44M171.55 1357.99H174.67" stroke="#0b46a8" stroke-width="3" fill="none"/>
<path d="M177.78 1357.22H174.67M177.78 1357.22H180.89" stroke="#0b46a8" stroke-width="3" fill="none"/>
<path d="M187.12 1362.18H180.89M187.12 1362.18H193.35" stroke="#0b46a8" stroke-width="3" fill="none"/>
<path d="M199.58 1366.05H193.35M199.58 1366.05H205.81" stroke="#0b46a8" stroke-width="3" fill="none"/>
<path d="M212.04 1368.87H205.81M212.04 1368.87H218.26" stroke="#0b46a8" stroke-width="3" fill="none"/>
<path d="M224.49 1373.68H218.26M224.49 1373.68H230.72" stroke="#0b46a8" stroke-width="3" fill="none"/>
<path d="M236.95 1374.96H230.72M236.95 1374.96H243.18" stroke="#0b46a8" stroke-width="3" fill="none"/>
<path d="M249.41 1376.55H243.18M249.41 1376.55H255.63" stroke="#0b46a8" stroke-width="3" fill="none"/>
<path d="M268.09 1379.28H255.63M268.09 1379.28H280.55" stroke="#0b46a8" stroke-width="3" fill="none"/>
<path d="M293 1377.46H280.55M293 1377.46H305.46" stroke="#0b46a8" stroke-width="3" fill="none"/>
<path d="M317.92 1374.77H305.46M317.92 1374.77H330.37" stroke="#0b46a8" stroke-width="3" fill="none"/>
<path d="M361.51 1370.36H330.37M361.51 1370.36H392.65" stroke="#0b46a8" stroke-width="3" fill="none"/>
<path d="M423.79 1367.54H392.65M423.79 1367.54H454.94M423.79 1367.54V1365.51M423.79 1367.54V1369.58" stroke="#0b46a8" stroke-width="3" fill="none"/>
<path d="M486.08 1372.46H454.94M486.08 1372.46H517.22M486.08 1372.46V1370.01M486.08 1372.46V1374.92" stroke="#0b46a8" stroke-width="3" fill="none"/>
<path d="M548.36 1368.41H517.22M548.36 1368.41H579.5M548.36 1368.41V1365.22M548.36 1368.41V1371.6" stroke="#0b46a8" stroke-width="3" fill="none"/>
</g>
<g clip-path="url(#cre)">
<path d="M96.81 1379.53H93.7M96.81 1379.53H99.93" stroke="#66cc00" stroke-width="3.2" fill="none" stroke-dasharray="3.3 3.13"/>
<path d="M103.04 1389.81H99.93M103.04 1389.81H106.16" stroke="#66cc00" stroke-width="3.2" fill="none" stroke-dasharray="3.3 3.13"/>
<path d="M109.27 1393.6H106.16M109.27 1393.6H112.38" stroke="#66cc00" stroke-width="3.2" fill="none" stroke-dasharray="3.3 3.13"/>
<path d="M115.5 1395.11H112.38M115.5 1395.11H118.61" stroke="#66cc00" stroke-width="3.2" fill="none" stroke-dasharray="3.3 3.13"/>
<path d="M121.73 1396.02H118.61M121.73 1396.02H124.84" stroke="#66cc00" stroke-width="3.2" fill="none" stroke-dasharray="3.3 3.13"/>
<path d="M127.96 1396.01H124.84M127.96 1396.01H131.07" stroke="#66cc00" stroke-width="3.2" fill="none" stroke-dasharray="3.3 3.13"/>
<path d="M134.18 1397.04H131.07M134.18 1397.04H137.3" stroke="#66cc00" stroke-width="3.2" fill="none" stroke-dasharray="3.3 3.13"/>
<path d="M140.41 1397.21H137.3M140.41 1397.21H143.53" stroke="#66cc00" stroke-width="3.2" fill="none" stroke-dasharray="3.3 3.13"/>
<path d="M146.64 1397.69H143.53M146.64 1397.69H149.75" stroke="#66cc00" stroke-width="3.2" fill="none" stroke-dasharray="3.3 3.13"/>
<path d="M152.87 1397.8H149.75M152.87 1397.8H155.98" stroke="#66cc00" stroke-width="3.2" fill="none" stroke-dasharray="3.3 3.13"/>
<path d="M159.1 1398H155.98M159.1 1398H162.21" stroke="#66cc00" stroke-width="3.2" fill="none" stroke-dasharray="3.3 3.13"/>
<path d="M165.32 1399.54H162.21M165.32 1399.54H168.44" stroke="#66cc00" stroke-width="3.2" fill="none" stroke-dasharray="3.3 3.13"/>
<path d="M171.55 1399.57H168.44M171.55 1399.57H174.67" stroke="#66cc00" stroke-width="3.2" fill="none" stroke-dasharray="3.3 3.13"/>
<path d="M177.78 1398.15H174.67M177.78 1398.15H180.89" stroke="#66cc00" stroke-width="3.2" fill="none" stroke-dasharray="3.3 3.13"/>
<path d="M187.12 1399.89H180.89M187.12 1399.89H193.35" stroke="#66cc00" stroke-width="3.2" fill="none" stroke-dasharray="3.3 3.13"/>
<path d="M199.58 1397.63H193.35M199.58 1397.63H205.81" stroke="#66cc00" stroke-width="3.2" fill="none" stroke-dasharray="3.3 3.13"/>
<path d="M212.04 1396.87H205.81M212.04 1396.87H218.26" stroke="#66cc00" stroke-width="3.2" fill="none" stroke-dasharray="3.3 3.13"/>
<path d="M224.49 1397.04H218.26M224.49 1397.04H230.72" stroke="#66cc00" stroke-width="3.2" fill="none" stroke-dasharray="3.3 3.13"/>
<path d="M236.95 1395.35H230.72M236.95 1395.35H243.18" stroke="#66cc00" stroke-width="3.2" fill="none" stroke-dasharray="3.3 3.13"/>
<path d="M249.41 1395.46H243.18M249.41 1395.46H255.63" stroke="#66cc00" stroke-width="3.2" fill="none" stroke-dasharray="3.3 3.13"/>
<path d="M268.09 1394.86H255.63M268.09 1394.86H280.55" stroke="#66cc00" stroke-width="3.2" fill="none" stroke-dasharray="3.3 3.13"/>
<path d="M293 1392.4H280.55M293 1392.4H305.46" stroke="#66cc00" stroke-width="3.2" fill="none" stroke-dasharray="3.3 3.13"/>
<path d="M317.92 1387H305.46M317.92 1387H330.37" stroke="#66cc00" stroke-width="3.2" fill="none" stroke-dasharray="3.3 3.13"/>
<path d="M361.51 1384.41H330.37M361.51 1384.41H392.65" stroke="#66cc00" stroke-width="3.2" fill="none" stroke-dasharray="3.3 3.13"/>
<path d="M423.79 1383.94H392.65M423.79 1383.94H454.94M423.79 1383.94V1382.22M423.79 1383.94V1385.67" stroke="#66cc00" stroke-width="3.2" fill="none" stroke-dasharray="3.3 3.13"/>
<path d="M486.08 1384.54H454.94M486.08 1384.54H517.22M486.08 1384.54V1382.38M486.08 1384.54V1386.71" stroke="#66cc00" stroke-width="3.2" fill="none" stroke-dasharray="3.3 3.13"/>
<path d="M548.36 1383.26H517.22M548.36 1383.26H579.5M548.36 1383.26V1380.52M548.36 1383.26V1386.01" stroke="#66cc00" stroke-width="3.2" fill="none" stroke-dasharray="3.3 3.13"/>
</g>
<g clip-path="url(#cre)">
<path d="M96.81 1373.04H93.7M96.81 1373.04H99.93" stroke="#d4174a" stroke-width="3.8" fill="none" stroke-dasharray="1.45 1.75"/>
<circle cx="96.81" cy="1373.04" r="1.65" fill="#d4174a"/>
<path d="M103.04 1380.66H99.93M103.04 1380.66H106.16" stroke="#d4174a" stroke-width="3.8" fill="none" stroke-dasharray="1.45 1.75"/>
<circle cx="103.04" cy="1380.66" r="1.65" fill="#d4174a"/>
<path d="M109.27 1384.23H106.16M109.27 1384.23H112.38" stroke="#d4174a" stroke-width="3.8" fill="none" stroke-dasharray="1.45 1.75"/>
<circle cx="109.27" cy="1384.23" r="1.65" fill="#d4174a"/>
<path d="M115.5 1384.88H112.38M115.5 1384.88H118.61" stroke="#d4174a" stroke-width="3.8" fill="none" stroke-dasharray="1.45 1.75"/>
<circle cx="115.5" cy="1384.88" r="1.65" fill="#d4174a"/>
<path d="M121.73 1384.25H118.61M121.73 1384.25H124.84" stroke="#d4174a" stroke-width="3.8" fill="none" stroke-dasharray="1.45 1.75"/>
<circle cx="121.73" cy="1384.25" r="1.65" fill="#d4174a"/>
<path d="M127.96 1382.49H124.84M127.96 1382.49H131.07" stroke="#d4174a" stroke-width="3.8" fill="none" stroke-dasharray="1.45 1.75"/>
<circle cx="127.96" cy="1382.49" r="1.65" fill="#d4174a"/>
<path d="M134.18 1381.48H131.07M134.18 1381.48H137.3" stroke="#d4174a" stroke-width="3.8" fill="none" stroke-dasharray="1.45 1.75"/>
<circle cx="134.18" cy="1381.48" r="1.65" fill="#d4174a"/>
<path d="M140.41 1381.15H137.3M140.41 1381.15H143.53" stroke="#d4174a" stroke-width="3.8" fill="none" stroke-dasharray="1.45 1.75"/>
<circle cx="140.41" cy="1381.15" r="1.65" fill="#d4174a"/>
<path d="M146.64 1379.9H143.53M146.64 1379.9H149.75" stroke="#d4174a" stroke-width="3.8" fill="none" stroke-dasharray="1.45 1.75"/>
<circle cx="146.64" cy="1379.9" r="1.65" fill="#d4174a"/>
<path d="M152.87 1379.1H149.75M152.87 1379.1H155.98" stroke="#d4174a" stroke-width="3.8" fill="none" stroke-dasharray="1.45 1.75"/>
<circle cx="152.87" cy="1379.1" r="1.65" fill="#d4174a"/>
<path d="M159.1 1378.55H155.98M159.1 1378.55H162.21" stroke="#d4174a" stroke-width="3.8" fill="none" stroke-dasharray="1.45 1.75"/>
<circle cx="159.1" cy="1378.55" r="1.65" fill="#d4174a"/>
<path d="M165.32 1379.96H162.21M165.32 1379.96H168.44" stroke="#d4174a" stroke-width="3.8" fill="none" stroke-dasharray="1.45 1.75"/>
<circle cx="165.32" cy="1379.96" r="1.65" fill="#d4174a"/>
<path d="M171.55 1378.83H168.44M171.55 1378.83H174.67" stroke="#d4174a" stroke-width="3.8" fill="none" stroke-dasharray="1.45 1.75"/>
<circle cx="171.55" cy="1378.83" r="1.65" fill="#d4174a"/>
<path d="M177.78 1376.54H174.67M177.78 1376.54H180.89" stroke="#d4174a" stroke-width="3.8" fill="none" stroke-dasharray="1.45 1.75"/>
<circle cx="177.78" cy="1376.54" r="1.65" fill="#d4174a"/>
<path d="M187.12 1378.76H180.89M187.12 1378.76H193.35" stroke="#d4174a" stroke-width="3.8" fill="none" stroke-dasharray="1.45 1.75"/>
<circle cx="187.12" cy="1378.76" r="1.65" fill="#d4174a"/>
<path d="M199.58 1377.33H193.35M199.58 1377.33H205.81" stroke="#d4174a" stroke-width="3.8" fill="none" stroke-dasharray="1.45 1.75"/>
<circle cx="199.58" cy="1377.33" r="1.65" fill="#d4174a"/>
<path d="M212.04 1376.87H205.81M212.04 1376.87H218.26" stroke="#d4174a" stroke-width="3.8" fill="none" stroke-dasharray="1.45 1.75"/>
<circle cx="212.04" cy="1376.87" r="1.65" fill="#d4174a"/>
<path d="M224.49 1377.35H218.26M224.49 1377.35H230.72" stroke="#d4174a" stroke-width="3.8" fill="none" stroke-dasharray="1.45 1.75"/>
<circle cx="224.49" cy="1377.35" r="1.65" fill="#d4174a"/>
<path d="M236.95 1374.78H230.72M236.95 1374.78H243.18" stroke="#d4174a" stroke-width="3.8" fill="none" stroke-dasharray="1.45 1.75"/>
<circle cx="236.95" cy="1374.78" r="1.65" fill="#d4174a"/>
<path d="M249.41 1373.85H243.18M249.41 1373.85H255.63" stroke="#d4174a" stroke-width="3.8" fill="none" stroke-dasharray="1.45 1.75"/>
<circle cx="249.41" cy="1373.85" r="1.65" fill="#d4174a"/>
<path d="M268.09 1375.87H255.63M268.09 1375.87H280.55" stroke="#d4174a" stroke-width="3.8" fill="none" stroke-dasharray="1.45 1.75"/>
<circle cx="268.09" cy="1375.87" r="1.65" fill="#d4174a"/>
<path d="M293 1372.55H280.55M293 1372.55H305.46" stroke="#d4174a" stroke-width="3.8" fill="none" stroke-dasharray="1.45 1.75"/>
<circle cx="293" cy="1372.55" r="1.65" fill="#d4174a"/>
<path d="M317.92 1368.62H305.46M317.92 1368.62H330.37" stroke="#d4174a" stroke-width="3.8" fill="none" stroke-dasharray="1.45 1.75"/>
<circle cx="317.92" cy="1368.62" r="1.65" fill="#d4174a"/>
<path d="M361.51 1366.61H330.37M361.51 1366.61H392.65" stroke="#d4174a" stroke-width="3.8" fill="none" stroke-dasharray="1.45 1.75"/>
<circle cx="361.51" cy="1366.61" r="1.65" fill="#d4174a"/>
<path d="M423.79 1365.95H392.65M423.79 1365.95H454.94" stroke="#d4174a" stroke-width="3.8" fill="none" stroke-dasharray="1.45 1.75"/>
<circle cx="423.79" cy="1365.95" r="1.65" fill="#d4174a"/>
<path d="M486.08 1367.11H454.94M486.08 1367.11H517.22" stroke="#d4174a" stroke-width="3.8" fill="none" stroke-dasharray="1.45 1.75"/>
<circle cx="486.08" cy="1367.11" r="1.65" fill="#d4174a"/>
<path d="M548.36 1372.19H517.22M548.36 1372.19H579.5" stroke="#d4174a" stroke-width="3.8" fill="none" stroke-dasharray="1.45 1.75"/>
<circle cx="548.36" cy="1372.19" r="1.65" fill="#d4174a"/>
</g>
<rect x="93.7" y="1057.8" width="485.8" height="355.5" fill="none" stroke="#000" stroke-width="1.3"/>
<line x1="93.7" y1="1327.2" x2="579.5" y2="1327.2" stroke="#000" stroke-width="1.6"/>
<path d="M106.16 1057.8v3.5M106.16 1327.2v-3.5M106.16 1327.2v2M106.16 1413.3v-2M118.61 1057.8v3.5M118.61 1327.2v-3.5M118.61 1327.2v2M118.61 1413.3v-2M131.07 1057.8v3.5M131.07 1327.2v-3.5M131.07 1327.2v2M131.07 1413.3v-2M143.53 1057.8v7M143.53 1327.2v-7M143.53 1327.2v4M143.53 1413.3v-4M155.98 1057.8v3.5M155.98 1327.2v-3.5M155.98 1327.2v2M155.98 1413.3v-2M168.44 1057.8v3.5M168.44 1327.2v-3.5M168.44 1327.2v2M168.44 1413.3v-2M180.89 1057.8v3.5M180.89 1327.2v-3.5M180.89 1327.2v2M180.89 1413.3v-2M193.35 1057.8v3.5M193.35 1327.2v-3.5M193.35 1327.2v2M193.35 1413.3v-2M205.81 1057.8v7M205.81 1327.2v-7M205.81 1327.2v4M205.81 1413.3v-4M218.26 1057.8v3.5M218.26 1327.2v-3.5M218.26 1327.2v2M218.26 1413.3v-2M230.72 1057.8v3.5M230.72 1327.2v-3.5M230.72 1327.2v2M230.72 1413.3v-2M243.18 1057.8v3.5M243.18 1327.2v-3.5M243.18 1327.2v2M243.18 1413.3v-2M255.63 1057.8v3.5M255.63 1327.2v-3.5M255.63 1327.2v2M255.63 1413.3v-2M268.09 1057.8v7M268.09 1327.2v-7M268.09 1327.2v4M268.09 1413.3v-4M280.55 1057.8v3.5M280.55 1327.2v-3.5M280.55 1327.2v2M280.55 1413.3v-2M293 1057.8v3.5M293 1327.2v-3.5M293 1327.2v2M293 1413.3v-2M305.46 1057.8v3.5M305.46 1327.2v-3.5M305.46 1327.2v2M305.46 1413.3v-2M317.92 1057.8v3.5M317.92 1327.2v-3.5M317.92 1327.2v2M317.92 1413.3v-2M330.37 1057.8v7M330.37 1327.2v-7M330.37 1327.2v4M330.37 1413.3v-4M342.83 1057.8v3.5M342.83 1327.2v-3.5M342.83 1327.2v2M342.83 1413.3v-2M355.28 1057.8v3.5M355.28 1327.2v-3.5M355.28 1327.2v2M355.28 1413.3v-2M367.74 1057.8v3.5M367.74 1327.2v-3.5M367.74 1327.2v2M367.74 1413.3v-2M380.2 1057.8v3.5M380.2 1327.2v-3.5M380.2 1327.2v2M380.2 1413.3v-2M392.65 1057.8v7M392.65 1327.2v-7M392.65 1327.2v4M392.65 1413.3v-4M405.11 1057.8v3.5M405.11 1327.2v-3.5M405.11 1327.2v2M405.11 1413.3v-2M417.57 1057.8v3.5M417.57 1327.2v-3.5M417.57 1327.2v2M417.57 1413.3v-2M430.02 1057.8v3.5M430.02 1327.2v-3.5M430.02 1327.2v2M430.02 1413.3v-2M442.48 1057.8v3.5M442.48 1327.2v-3.5M442.48 1327.2v2M442.48 1413.3v-2M454.94 1057.8v7M454.94 1327.2v-7M454.94 1327.2v4M454.94 1413.3v-4M467.39 1057.8v3.5M467.39 1327.2v-3.5M467.39 1327.2v2M467.39 1413.3v-2M479.85 1057.8v3.5M479.85 1327.2v-3.5M479.85 1327.2v2M479.85 1413.3v-2M492.31 1057.8v3.5M492.31 1327.2v-3.5M492.31 1327.2v2M492.31 1413.3v-2M504.76 1057.8v3.5M504.76 1327.2v-3.5M504.76 1327.2v2M504.76 1413.3v-2M517.22 1057.8v7M517.22 1327.2v-7M517.22 1327.2v4M517.22 1413.3v-4M529.67 1057.8v3.5M529.67 1327.2v-3.5M529.67 1327.2v2M529.67 1413.3v-2M542.13 1057.8v3.5M542.13 1327.2v-3.5M542.13 1327.2v2M542.13 1413.3v-2M554.59 1057.8v3.5M554.59 1327.2v-3.5M554.59 1327.2v2M554.59 1413.3v-2M567.04 1057.8v3.5M567.04 1327.2v-3.5M567.04 1327.2v2M567.04 1413.3v-2M93.7 1308h8M579.5 1308h-8M93.7 1287.15h8M579.5 1287.15h-8M93.7 1266.3h8M579.5 1266.3h-8M93.7 1245.45h8M579.5 1245.45h-8M93.7 1224.6h16M579.5 1224.6h-16M93.7 1203.75h8M579.5 1203.75h-8M93.7 1182.9h8M579.5 1182.9h-8M93.7 1162.05h8M579.5 1162.05h-8M93.7 1141.2h8M579.5 1141.2h-8M93.7 1120.35h16M579.5 1120.35h-16M93.7 1099.5h8M579.5 1099.5h-8M93.7 1078.65h8M579.5 1078.65h-8M93.7 1401h9.7M579.5 1401h-9.7M93.7 1388.7h4.7M579.5 1388.7h-4.7M93.7 1376.4h9.7M579.5 1376.4h-9.7M93.7 1364.1h4.7M579.5 1364.1h-4.7M93.7 1351.8h9.7M579.5 1351.8h-9.7M93.7 1339.5h4.7M579.5 1339.5h-4.7" stroke="#000" stroke-width="1.3" fill="none"/>
<text transform="translate(137.52 1431.8) scale(1 1.045)" font-size="21.6" font-family="'Liberation Sans', sans-serif" fill="#000" style="white-space:pre;font-kerning:none">5</text>
<text transform="translate(193.79 1431.8) scale(1 1.045)" font-size="21.6" font-family="'Liberation Sans', sans-serif" fill="#000" style="white-space:pre;font-kerning:none"> 0</text>
<path transform="translate(193.79 1431.8) scale(21.600 -22.572)" d="M.359 0V.703H.29C.266 .632 .205 .588 .101 .574V.503C.172 .511 .232 .535 .268 .566V0Z" fill="#000"/>
<text transform="translate(256.08 1431.8) scale(1 1.045)" font-size="21.6" font-family="'Liberation Sans', sans-serif" fill="#000" style="white-space:pre;font-kerning:none"> 5</text>
<path transform="translate(256.08 1431.8) scale(21.600 -22.572)" d="M.359 0V.703H.29C.266 .632 .205 .588 .101 .574V.503C.172 .511 .232 .535 .268 .566V0Z" fill="#000"/>
<text transform="translate(318.36 1431.8) scale(1 1.045)" font-size="21.6" font-family="'Liberation Sans', sans-serif" fill="#000" style="white-space:pre;font-kerning:none">20</text>
<text transform="translate(380.64 1431.8) scale(1 1.045)" font-size="21.6" font-family="'Liberation Sans', sans-serif" fill="#000" style="white-space:pre;font-kerning:none">25</text>
<text transform="translate(442.92 1431.8) scale(1 1.045)" font-size="21.6" font-family="'Liberation Sans', sans-serif" fill="#000" style="white-space:pre;font-kerning:none">30</text>
<text transform="translate(505.21 1431.8) scale(1 1.045)" font-size="21.6" font-family="'Liberation Sans', sans-serif" fill="#000" style="white-space:pre;font-kerning:none">35</text>
<text transform="translate(567.49 1431.8) scale(1 1.045)" font-size="21.6" font-family="'Liberation Sans', sans-serif" fill="#000" style="white-space:pre;font-kerning:none">40</text>
<text transform="translate(48.97 1232.1) scale(1 1.045)" font-size="21.6" font-family="'Liberation Sans', sans-serif" fill="#000" style="white-space:pre;font-kerning:none">0.05</text>
<text transform="translate(64.33 1127.85) scale(1 1.045)" font-size="21.6" font-family="'Liberation Sans', sans-serif" fill="#000" style="white-space:pre;font-kerning:none">0. </text>
<path transform="translate(82.35 1127.85) scale(21.600 -22.572)" d="M.359 0V.703H.29C.266 .632 .205 .588 .101 .574V.503C.172 .511 .232 .535 .268 .566V0Z" fill="#000"/>
<text transform="translate(61.02 1408.5) scale(1 1.045)" font-size="21.6" font-family="'Liberation Sans', sans-serif" fill="#000" style="white-space:pre;font-kerning:none">0.6</text>
<text transform="translate(61.01 1383.9) scale(1 1.045)" font-size="21.6" font-family="'Liberation Sans', sans-serif" fill="#000" style="white-space:pre;font-kerning:none">0.8</text>
<text transform="translate(82.35 1360.2) scale(1 1.045)" font-size="21.6" font-family="'Liberation Sans', sans-serif" fill="#000" style="white-space:pre;font-kerning:none"> </text>
<path transform="translate(82.35 1360.2) scale(21.600 -22.572)" d="M.359 0V.703H.29C.266 .632 .205 .588 .101 .574V.503C.172 .511 .232 .535 .268 .566V0Z" fill="#000"/>
<text transform="translate(387.64 1467.6) scale(1 1.045)" font-size="21.4" font-family="'Liberation Sans', sans-serif" fill="#000" style="white-space:pre;font-kerning:none">Leading-jet p</text>
<text transform="translate(511.38 1479.6) scale(1 1.045)" font-size="15.2" font-family="'Liberation Sans', sans-serif" fill="#000" style="white-space:pre;font-kerning:none">T</text>
<text transform="translate(520.67 1467.6) scale(1 1.045)" font-size="21.4" font-family="'Liberation Sans', sans-serif" fill="#000" style="white-space:pre;font-kerning:none"> [GeV]</text>
<text transform="translate(33.2 1327.3) rotate(-90) scale(1 1.045)" font-size="21.45" text-anchor="end" font-family="'Liberation Sans', sans-serif">MC/Data</text>
<path d="M15.1 1199.8 L25.1 1205.6 L35.1 1199.8" stroke="#000" fill="none" stroke-width="1.2"/>
<path d="M15.1 1134 L25.1 1128.3 L35.1 1134" stroke="#000" fill="none" stroke-width="1.2"/>
<text transform="translate(30.7 1192.9) rotate(-90) scale(1 1.045)" font-size="21" font-family="'Liberation Sans', sans-serif">N(K</text>
<text transform="translate(19.5 1156.4) rotate(-90) scale(1 1.045)" font-size="14.5" font-family="'Liberation Sans', sans-serif">0</text>
<text transform="translate(42.7 1156.7) rotate(-90) scale(1 1.045)" font-size="15" font-family="'Liberation Sans', sans-serif">S</text>
<text transform="translate(30.7 1147.4) rotate(-90) scale(1 1.045)" font-size="21" font-family="'Liberation Sans', sans-serif">)</text>
<text transform="translate(30.7 1122.7) rotate(-90) scale(1 1.045)" font-size="21" font-family="'Liberation Sans', sans-serif">/</text>
<text transform="translate(30.7 1109) rotate(-90) scale(1 1.045)" font-size="22" font-family="'Liberation Serif', serif">&#948;&#951;</text>
<text transform="translate(30.7 1080.23) rotate(-90) scale(1 1.045)" font-size="22" font-family="'Liberation Serif', serif">&#948;&#981;</text>
<rect x="119.1" y="1071.3" width="82.5" height="12.6" fill="#cccccc"/>
<line x1="119.1" y1="1077.6" x2="201.6" y2="1077.6" stroke="#000" stroke-width="1.7"/>
<circle cx="160.3" cy="1077.6" r="5.8" fill="#000"/>
<line x1="119.1" y1="1095.4" x2="201.6" y2="1095.4" stroke="#0b46a8" stroke-width="3"/>
<line x1="119.1" y1="1113.3" x2="201.6" y2="1113.3" stroke="#66cc00" stroke-width="3.3" stroke-dasharray="3.3 3.13"/>
<line x1="119.1" y1="1131" x2="201.6" y2="1131" stroke="#d4174a" stroke-width="3.8" stroke-dasharray="1.45 1.75"/>
<text transform="translate(219.5 1081.3) scale(1 1.045)" font-size="16.9" font-family="'Liberation Sans', sans-serif" fill="#000" style="white-space:pre;font-kerning:none">Data</text>
<text transform="translate(219.5 1099.1) scale(1 1.045)" font-size="16.9" font-family="'Liberation Sans', sans-serif" fill="#000" style="white-space:pre;font-kerning:none">EPOS-LHC</text>
<text transform="translate(219.5 1116.8) scale(1 1.045)" font-size="16.9" font-family="'Liberation Sans', sans-serif" fill="#000" style="white-space:pre;font-kerning:none">PY8-A2</text>
<text transform="translate(219.5 1134.6) scale(1 1.045)" font-size="16.9" font-family="'Liberation Sans', sans-serif" fill="#000" style="white-space:pre;font-kerning:none">PY8-MONASH+CR</text>
<path d="M223.15 1278.55 L225.95 1290.65 L229.05 1272.25 L241.75 1272.25" stroke="#000" fill="none" stroke-width="1.1" stroke-linejoin="miter"/>
<path d="M223.45 1278.85 L225.95 1290.25" stroke="#000" fill="none" stroke-width="2"/>
<text transform="translate(231.75 1290.55) scale(1 1.045)" font-size="21.3" font-family="'Liberation Sans', sans-serif" fill="#000" style="white-space:pre;font-kerning:none">s= 3 TeV</text>
<path transform="translate(254.84 1290.55) scale(21.300 -22.258)" d="M.359 0V.703H.29C.266 .632 .205 .588 .101 .574V.503C.172 .511 .232 .535 .268 .566V0Z" fill="#000"/>
<text transform="translate(219.95 1313.75) scale(1 1.045)" font-size="21.3" font-family="'Liberation Sans', sans-serif" fill="#000" style="white-space:pre;font-kerning:none">67x 0</text>
<path transform="translate(254.29 1313.75) scale(21.300 -22.258)" d="M.359 0V.703H.29C.266 .632 .205 .588 .101 .574V.503C.172 .511 .232 .535 .268 .566V0Z" fill="#000"/>
<text transform="translate(277.98 1304.05) scale(1 1.045)" font-size="14.8" font-family="'Liberation Sans', sans-serif" fill="#000" style="white-space:pre;font-kerning:none">6</text>
<text transform="translate(286.22 1313.75) scale(1 1.045)" font-size="21.3" font-family="'Liberation Sans', sans-serif" fill="#000" style="white-space:pre;font-kerning:none"> Events</text>
<text transform="translate(372.15 1290.65) scale(1 1.045)" font-size="21.7" font-family="'Liberation Sans', sans-serif" font-weight="bold" font-style="italic" fill="#000" style="white-space:pre;font-kerning:none">ATLAS</text>
<text transform="translate(372.15 1313.75) scale(1 1.045)" font-size="21.65" font-family="'Liberation Sans', sans-serif" fill="#000" style="white-space:pre;font-kerning:none">Transverse Region</text>
<text x="298.9" y="1518.5" font-size="24" text-anchor="middle" font-family="'Liberation Serif', serif">(e)</text>
<clipPath id="cmf"><rect x="702.5" y="1057.8" width="485.7" height="269.4"/></clipPath>
<clipPath id="crf"><rect x="702.5" y="1327.2" width="485.7" height="85.8"/></clipPath>
<g clip-path="url(#cmf)">
<rect x="702.5" y="1127.03" width="6.23" height="27.34" fill="#cccccc"/>
<rect x="708.73" y="1147.47" width="6.23" height="21.05" fill="#cccccc"/>
<rect x="714.95" y="1158.6" width="6.23" height="14.2" fill="#cccccc"/>
<rect x="721.18" y="1164.81" width="6.23" height="13.78" fill="#cccccc"/>
<rect x="727.41" y="1168.12" width="6.23" height="13.55" fill="#cccccc"/>
<rect x="733.63" y="1170.09" width="6.23" height="13.42" fill="#cccccc"/>
<rect x="739.86" y="1172.47" width="6.23" height="13.26" fill="#cccccc"/>
<rect x="746.09" y="1173.82" width="6.23" height="13.17" fill="#cccccc"/>
<rect x="752.32" y="1175.78" width="6.23" height="13.03" fill="#cccccc"/>
<rect x="758.54" y="1177.65" width="6.23" height="12.91" fill="#cccccc"/>
<rect x="764.77" y="1178.16" width="6.23" height="12.87" fill="#cccccc"/>
<rect x="771" y="1175.78" width="6.23" height="13.03" fill="#cccccc"/>
<rect x="777.22" y="1178.16" width="6.23" height="12.87" fill="#cccccc"/>
<rect x="783.45" y="1182.92" width="6.23" height="12.55" fill="#cccccc"/>
<rect x="789.68" y="1179.61" width="12.45" height="12.78" fill="#cccccc"/>
<rect x="802.13" y="1183.96" width="12.45" height="12.48" fill="#cccccc"/>
<rect x="814.58" y="1183.44" width="12.45" height="12.52" fill="#cccccc"/>
<rect x="827.04" y="1182.41" width="12.45" height="12.59" fill="#cccccc"/>
<rect x="839.49" y="1186.86" width="12.45" height="12.28" fill="#cccccc"/>
<rect x="851.95" y="1189.76" width="12.45" height="12.09" fill="#cccccc"/>
<rect x="864.4" y="1183.69" width="24.91" height="14.22" fill="#cccccc"/>
<rect x="889.31" y="1186.29" width="24.91" height="14.02" fill="#cccccc"/>
<rect x="914.22" y="1191.06" width="24.91" height="15.28" fill="#cccccc"/>
<rect x="939.12" y="1195.67" width="62.27" height="12.65" fill="#cccccc"/>
<rect x="1001.39" y="1197.22" width="62.27" height="14.75" fill="#cccccc"/>
<rect x="1063.66" y="1193.04" width="62.27" height="18.92" fill="#cccccc"/>
<rect x="1125.93" y="1182.61" width="62.27" height="26.58" fill="#cccccc"/>
</g>
<line x1="702.5" y1="1140.7" x2="708.73" y2="1140.7" stroke="#000" stroke-width="1.7"/>
<line x1="708.73" y1="1158" x2="714.95" y2="1158" stroke="#000" stroke-width="1.7"/>
<line x1="714.95" y1="1165.7" x2="721.18" y2="1165.7" stroke="#000" stroke-width="1.7"/>
<line x1="721.18" y1="1171.7" x2="727.41" y2="1171.7" stroke="#000" stroke-width="1.7"/>
<line x1="727.41" y1="1174.9" x2="733.63" y2="1174.9" stroke="#000" stroke-width="1.7"/>
<line x1="733.63" y1="1176.8" x2="739.86" y2="1176.8" stroke="#000" stroke-width="1.7"/>
<line x1="739.86" y1="1179.1" x2="746.09" y2="1179.1" stroke="#000" stroke-width="1.7"/>
<line x1="746.09" y1="1180.4" x2="752.32" y2="1180.4" stroke="#000" stroke-width="1.7"/>
<line x1="752.32" y1="1182.3" x2="758.54" y2="1182.3" stroke="#000" stroke-width="1.7"/>
<line x1="758.54" y1="1184.1" x2="764.77" y2="1184.1" stroke="#000" stroke-width="1.7"/>
<line x1="764.77" y1="1184.6" x2="771" y2="1184.6" stroke="#000" stroke-width="1.7"/>
<line x1="771" y1="1182.3" x2="777.22" y2="1182.3" stroke="#000" stroke-width="1.7"/>
<line x1="777.22" y1="1184.6" x2="783.45" y2="1184.6" stroke="#000" stroke-width="1.7"/>
<line x1="783.45" y1="1189.2" x2="789.68" y2="1189.2" stroke="#000" stroke-width="1.7"/>
<line x1="789.68" y1="1186" x2="802.13" y2="1186" stroke="#000" stroke-width="1.7"/>
<line x1="802.13" y1="1190.2" x2="814.58" y2="1190.2" stroke="#000" stroke-width="1.7"/>
<line x1="814.58" y1="1189.7" x2="827.04" y2="1189.7" stroke="#000" stroke-width="1.7"/>
<line x1="827.04" y1="1188.7" x2="839.49" y2="1188.7" stroke="#000" stroke-width="1.7"/>
<line x1="839.49" y1="1193" x2="851.95" y2="1193" stroke="#000" stroke-width="1.7"/>
<line x1="851.95" y1="1195.8" x2="864.4" y2="1195.8" stroke="#000" stroke-width="1.7"/>
<line x1="864.4" y1="1190.8" x2="889.31" y2="1190.8" stroke="#000" stroke-width="1.7"/>
<line x1="889.31" y1="1193.3" x2="914.22" y2="1193.3" stroke="#000" stroke-width="1.7"/>
<line x1="914.22" y1="1198.7" x2="939.12" y2="1198.7" stroke="#000" stroke-width="1.7"/>
<line x1="939.12" y1="1202" x2="1001.39" y2="1202" stroke="#000" stroke-width="1.7"/>
<line x1="1001.39" y1="1204.6" x2="1063.66" y2="1204.6" stroke="#000" stroke-width="1.7"/>
<line x1="1063.66" y1="1202.5" x2="1125.93" y2="1202.5" stroke="#000" stroke-width="1.7"/>
<line x1="1094.8" y1="1199.18" x2="1094.8" y2="1205.82" stroke="#000" stroke-width="1.7"/>
<line x1="1125.93" y1="1195.9" x2="1188.2" y2="1195.9" stroke="#000" stroke-width="1.7"/>
<line x1="1157.07" y1="1184.68" x2="1157.07" y2="1207.12" stroke="#000" stroke-width="1.7"/>
<circle cx="705.61" cy="1140.7" r="5.8" fill="#000"/>
<circle cx="711.84" cy="1158" r="5.8" fill="#000"/>
<circle cx="718.07" cy="1165.7" r="5.8" fill="#000"/>
<circle cx="724.29" cy="1171.7" r="5.8" fill="#000"/>
<circle cx="730.52" cy="1174.9" r="5.8" fill="#000"/>
<circle cx="736.75" cy="1176.8" r="5.8" fill="#000"/>
<circle cx="742.98" cy="1179.1" r="5.8" fill="#000"/>
<circle cx="749.2" cy="1180.4" r="5.8" fill="#000"/>
<circle cx="755.43" cy="1182.3" r="5.8" fill="#000"/>
<circle cx="761.66" cy="1184.1" r="5.8" fill="#000"/>
<circle cx="767.88" cy="1184.6" r="5.8" fill="#000"/>
<circle cx="774.11" cy="1182.3" r="5.8" fill="#000"/>
<circle cx="780.34" cy="1184.6" r="5.8" fill="#000"/>
<circle cx="786.56" cy="1189.2" r="5.8" fill="#000"/>
<circle cx="795.9" cy="1186" r="5.8" fill="#000"/>
<circle cx="808.36" cy="1190.2" r="5.8" fill="#000"/>
<circle cx="820.81" cy="1189.7" r="5.8" fill="#000"/>
<circle cx="833.27" cy="1188.7" r="5.8" fill="#000"/>
<circle cx="845.72" cy="1193" r="5.8" fill="#000"/>
<circle cx="858.17" cy="1195.8" r="5.8" fill="#000"/>
<circle cx="876.85" cy="1190.8" r="5.8" fill="#000"/>
<circle cx="901.76" cy="1193.3" r="5.8" fill="#000"/>
<circle cx="926.67" cy="1198.7" r="5.8" fill="#000"/>
<circle cx="970.26" cy="1202" r="5.8" fill="#000"/>
<circle cx="1032.53" cy="1204.6" r="5.8" fill="#000"/>
<circle cx="1094.8" cy="1202.5" r="5.8" fill="#000"/>
<circle cx="1157.07" cy="1195.9" r="5.8" fill="#000"/>
<g clip-path="url(#cmf)">
<path d="M705.61 1178.3H702.5M705.61 1178.3H708.73" stroke="#0b46a8" stroke-width="3" fill="none"/>
<path d="M711.84 1189.4H708.73M711.84 1189.4H714.95" stroke="#0b46a8" stroke-width="3" fill="none"/>
<path d="M718.07 1193H714.95M718.07 1193H721.18" stroke="#0b46a8" stroke-width="3" fill="none"/>
<path d="M724.29 1194.9H721.18M724.29 1194.9H727.41" stroke="#0b46a8" stroke-width="3" fill="none"/>
<path d="M730.52 1195.8H727.41M730.52 1195.8H733.63" stroke="#0b46a8" stroke-width="3" fill="none"/>
<path d="M736.75 1196.4H733.63M736.75 1196.4H739.86" stroke="#0b46a8" stroke-width="3" fill="none"/>
<path d="M742.98 1197.2H739.86M742.98 1197.2H746.09" stroke="#0b46a8" stroke-width="3" fill="none"/>
<path d="M749.2 1197.6H746.09M749.2 1197.6H752.32" stroke="#0b46a8" stroke-width="3" fill="none"/>
<path d="M755.43 1198.3H752.32M755.43 1198.3H758.54" stroke="#0b46a8" stroke-width="3" fill="none"/>
<path d="M761.66 1199.5H758.54M761.66 1199.5H764.77" stroke="#0b46a8" stroke-width="3" fill="none"/>
<path d="M767.88 1198.5H764.77M767.88 1198.5H771" stroke="#0b46a8" stroke-width="3" fill="none"/>
<path d="M774.11 1198.5H771M774.11 1198.5H777.22" stroke="#0b46a8" stroke-width="3" fill="none"/>
<path d="M780.34 1199.5H777.22M780.34 1199.5H783.45" stroke="#0b46a8" stroke-width="3" fill="none"/>
<path d="M786.56 1199.9H783.45M786.56 1199.9H789.68" stroke="#0b46a8" stroke-width="3" fill="none"/>
<path d="M795.9 1199.9H789.68M795.9 1199.9H802.13" stroke="#0b46a8" stroke-width="3" fill="none"/>
<path d="M808.36 1200.8H802.13M808.36 1200.8H814.58" stroke="#0b46a8" stroke-width="3" fill="none"/>
<path d="M820.81 1199.5H814.58M820.81 1199.5H827.04" stroke="#0b46a8" stroke-width="3" fill="none"/>
<path d="M833.27 1200.5H827.04M833.27 1200.5H839.49" stroke="#0b46a8" stroke-width="3" fill="none"/>
<path d="M845.72 1202.5H839.49M845.72 1202.5H851.95" stroke="#0b46a8" stroke-width="3" fill="none"/>
<path d="M858.17 1204.2H851.95M858.17 1204.2H864.4" stroke="#0b46a8" stroke-width="3" fill="none"/>
<path d="M876.85 1203H864.4M876.85 1203H889.31" stroke="#0b46a8" stroke-width="3" fill="none"/>
<path d="M901.76 1201.3H889.31M901.76 1201.3H914.22" stroke="#0b46a8" stroke-width="3" fill="none"/>
<path d="M926.67 1202H914.22M926.67 1202H939.12" stroke="#0b46a8" stroke-width="3" fill="none"/>
<path d="M970.26 1201.8H939.12M970.26 1201.8H1001.39" stroke="#0b46a8" stroke-width="3" fill="none"/>
<path d="M1032.53 1202.5H1001.39M1032.53 1202.5H1063.66M1032.53 1202.5V1199.35M1032.53 1202.5V1205.65" stroke="#0b46a8" stroke-width="3" fill="none"/>
<path d="M1094.8 1209.5H1063.66M1094.8 1209.5H1125.93M1094.8 1209.5V1205.68M1094.8 1209.5V1213.32" stroke="#0b46a8" stroke-width="3" fill="none"/>
<path d="M1157.07 1199.9H1125.93M1157.07 1199.9H1188.2M1157.07 1199.9V1194.84M1157.07 1199.9V1204.96" stroke="#0b46a8" stroke-width="3" fill="none"/>
</g>
<g clip-path="url(#cmf)">
<path d="M705.61 1209.3H702.5M705.61 1209.3H708.73" stroke="#66cc00" stroke-width="3.2" fill="none" stroke-dasharray="3.3 3.13"/>
<path d="M711.84 1219.4H708.73M711.84 1219.4H714.95" stroke="#66cc00" stroke-width="3.2" fill="none" stroke-dasharray="3.3 3.13"/>
<path d="M718.07 1223.1H714.95M718.07 1223.1H721.18" stroke="#66cc00" stroke-width="3.2" fill="none" stroke-dasharray="3.3 3.13"/>
<path d="M724.29 1226.4H721.18M724.29 1226.4H727.41" stroke="#66cc00" stroke-width="3.2" fill="none" stroke-dasharray="3.3 3.13"/>
<path d="M730.52 1228.6H727.41M730.52 1228.6H733.63" stroke="#66cc00" stroke-width="3.2" fill="none" stroke-dasharray="3.3 3.13"/>
<path d="M736.75 1230.2H733.63M736.75 1230.2H739.86" stroke="#66cc00" stroke-width="3.2" fill="none" stroke-dasharray="3.3 3.13"/>
<path d="M742.98 1231.9H739.86M742.98 1231.9H746.09" stroke="#66cc00" stroke-width="3.2" fill="none" stroke-dasharray="3.3 3.13"/>
<path d="M749.2 1233.2H746.09M749.2 1233.2H752.32" stroke="#66cc00" stroke-width="3.2" fill="none" stroke-dasharray="3.3 3.13"/>
<path d="M755.43 1234.1H752.32M755.43 1234.1H758.54" stroke="#66cc00" stroke-width="3.2" fill="none" stroke-dasharray="3.3 3.13"/>
<path d="M761.66 1234.6H758.54M761.66 1234.6H764.77" stroke="#66cc00" stroke-width="3.2" fill="none" stroke-dasharray="3.3 3.13"/>
<path d="M767.88 1235H764.77M767.88 1235H771" stroke="#66cc00" stroke-width="3.2" fill="none" stroke-dasharray="3.3 3.13"/>
<path d="M774.11 1235.9H771M774.11 1235.9H777.22" stroke="#66cc00" stroke-width="3.2" fill="none" stroke-dasharray="3.3 3.13"/>
<path d="M780.34 1236.5H777.22M780.34 1236.5H783.45" stroke="#66cc00" stroke-width="3.2" fill="none" stroke-dasharray="3.3 3.13"/>
<path d="M786.56 1236.8H783.45M786.56 1236.8H789.68" stroke="#66cc00" stroke-width="3.2" fill="none" stroke-dasharray="3.3 3.13"/>
<path d="M795.9 1237.5H789.68M795.9 1237.5H802.13" stroke="#66cc00" stroke-width="3.2" fill="none" stroke-dasharray="3.3 3.13"/>
<path d="M808.36 1236.4H802.13M808.36 1236.4H814.58" stroke="#66cc00" stroke-width="3.2" fill="none" stroke-dasharray="3.3 3.13"/>
<path d="M820.81 1236.2H814.58M820.81 1236.2H827.04" stroke="#66cc00" stroke-width="3.2" fill="none" stroke-dasharray="3.3 3.13"/>
<path d="M833.27 1236.3H827.04M833.27 1236.3H839.49" stroke="#66cc00" stroke-width="3.2" fill="none" stroke-dasharray="3.3 3.13"/>
<path d="M845.72 1237.8H839.49M845.72 1237.8H851.95" stroke="#66cc00" stroke-width="3.2" fill="none" stroke-dasharray="3.3 3.13"/>
<path d="M858.17 1241.2H851.95M858.17 1241.2H864.4" stroke="#66cc00" stroke-width="3.2" fill="none" stroke-dasharray="3.3 3.13"/>
<path d="M876.85 1238H864.4M876.85 1238H889.31" stroke="#66cc00" stroke-width="3.2" fill="none" stroke-dasharray="3.3 3.13"/>
<path d="M901.76 1239.2H889.31M901.76 1239.2H914.22" stroke="#66cc00" stroke-width="3.2" fill="none" stroke-dasharray="3.3 3.13"/>
<path d="M926.67 1237.8H914.22M926.67 1237.8H939.12" stroke="#66cc00" stroke-width="3.2" fill="none" stroke-dasharray="3.3 3.13"/>
<path d="M970.26 1239.2H939.12M970.26 1239.2H1001.39" stroke="#66cc00" stroke-width="3.2" fill="none" stroke-dasharray="3.3 3.13"/>
<path d="M1032.53 1241H1001.39M1032.53 1241H1063.66M1032.53 1241V1238.58M1032.53 1241V1243.42" stroke="#66cc00" stroke-width="3.2" fill="none" stroke-dasharray="3.3 3.13"/>
<path d="M1094.8 1243.5H1063.66M1094.8 1243.5H1125.93M1094.8 1243.5V1240.5M1094.8 1243.5V1246.5" stroke="#66cc00" stroke-width="3.2" fill="none" stroke-dasharray="3.3 3.13"/>
<path d="M1157.07 1240.5H1125.93M1157.07 1240.5H1188.2M1157.07 1240.5V1237.2M1157.07 1240.5V1243.8" stroke="#66cc00" stroke-width="3.2" fill="none" stroke-dasharray="3.3 3.13"/>
</g>
<g clip-path="url(#cmf)">
<path d="M705.61 1200.7H702.5M705.61 1200.7H708.73" stroke="#d4174a" stroke-width="3.8" fill="none" stroke-dasharray="1.45 1.75"/>
<circle cx="705.61" cy="1200.7" r="1.65" fill="#d4174a"/>
<path d="M711.84 1208.4H708.73M711.84 1208.4H714.95" stroke="#d4174a" stroke-width="3.8" fill="none" stroke-dasharray="1.45 1.75"/>
<circle cx="711.84" cy="1208.4" r="1.65" fill="#d4174a"/>
<path d="M718.07 1212.3H714.95M718.07 1212.3H721.18" stroke="#d4174a" stroke-width="3.8" fill="none" stroke-dasharray="1.45 1.75"/>
<circle cx="718.07" cy="1212.3" r="1.65" fill="#d4174a"/>
<path d="M724.29 1214.4H721.18M724.29 1214.4H727.41" stroke="#d4174a" stroke-width="3.8" fill="none" stroke-dasharray="1.45 1.75"/>
<circle cx="724.29" cy="1214.4" r="1.65" fill="#d4174a"/>
<path d="M730.52 1216.3H727.41M730.52 1216.3H733.63" stroke="#d4174a" stroke-width="3.8" fill="none" stroke-dasharray="1.45 1.75"/>
<circle cx="730.52" cy="1216.3" r="1.65" fill="#d4174a"/>
<path d="M736.75 1217.8H733.63M736.75 1217.8H739.86" stroke="#d4174a" stroke-width="3.8" fill="none" stroke-dasharray="1.45 1.75"/>
<circle cx="736.75" cy="1217.8" r="1.65" fill="#d4174a"/>
<path d="M742.98 1218.8H739.86M742.98 1218.8H746.09" stroke="#d4174a" stroke-width="3.8" fill="none" stroke-dasharray="1.45 1.75"/>
<circle cx="742.98" cy="1218.8" r="1.65" fill="#d4174a"/>
<path d="M749.2 1219.7H746.09M749.2 1219.7H752.32" stroke="#d4174a" stroke-width="3.8" fill="none" stroke-dasharray="1.45 1.75"/>
<circle cx="749.2" cy="1219.7" r="1.65" fill="#d4174a"/>
<path d="M755.43 1220.3H752.32M755.43 1220.3H758.54" stroke="#d4174a" stroke-width="3.8" fill="none" stroke-dasharray="1.45 1.75"/>
<circle cx="755.43" cy="1220.3" r="1.65" fill="#d4174a"/>
<path d="M761.66 1220.6H758.54M761.66 1220.6H764.77" stroke="#d4174a" stroke-width="3.8" fill="none" stroke-dasharray="1.45 1.75"/>
<circle cx="761.66" cy="1220.6" r="1.65" fill="#d4174a"/>
<path d="M767.88 1220.9H764.77M767.88 1220.9H771" stroke="#d4174a" stroke-width="3.8" fill="none" stroke-dasharray="1.45 1.75"/>
<circle cx="767.88" cy="1220.9" r="1.65" fill="#d4174a"/>
<path d="M774.11 1221H771M774.11 1221H777.22" stroke="#d4174a" stroke-width="3.8" fill="none" stroke-dasharray="1.45 1.75"/>
<circle cx="774.11" cy="1221" r="1.65" fill="#d4174a"/>
<path d="M780.34 1220.4H777.22M780.34 1220.4H783.45" stroke="#d4174a" stroke-width="3.8" fill="none" stroke-dasharray="1.45 1.75"/>
<circle cx="780.34" cy="1220.4" r="1.65" fill="#d4174a"/>
<path d="M786.56 1221.2H783.45M786.56 1221.2H789.68" stroke="#d4174a" stroke-width="3.8" fill="none" stroke-dasharray="1.45 1.75"/>
<circle cx="786.56" cy="1221.2" r="1.65" fill="#d4174a"/>
<path d="M795.9 1221.6H789.68M795.9 1221.6H802.13" stroke="#d4174a" stroke-width="3.8" fill="none" stroke-dasharray="1.45 1.75"/>
<circle cx="795.9" cy="1221.6" r="1.65" fill="#d4174a"/>
<path d="M808.36 1221.7H802.13M808.36 1221.7H814.58" stroke="#d4174a" stroke-width="3.8" fill="none" stroke-dasharray="1.45 1.75"/>
<circle cx="808.36" cy="1221.7" r="1.65" fill="#d4174a"/>
<path d="M820.81 1221.7H814.58M820.81 1221.7H827.04" stroke="#d4174a" stroke-width="3.8" fill="none" stroke-dasharray="1.45 1.75"/>
<circle cx="820.81" cy="1221.7" r="1.65" fill="#d4174a"/>
<path d="M833.27 1221.7H827.04M833.27 1221.7H839.49" stroke="#d4174a" stroke-width="3.8" fill="none" stroke-dasharray="1.45 1.75"/>
<circle cx="833.27" cy="1221.7" r="1.65" fill="#d4174a"/>
<path d="M845.72 1222.5H839.49M845.72 1222.5H851.95" stroke="#d4174a" stroke-width="3.8" fill="none" stroke-dasharray="1.45 1.75"/>
<circle cx="845.72" cy="1222.5" r="1.65" fill="#d4174a"/>
<path d="M858.17 1222.8H851.95M858.17 1222.8H864.4" stroke="#d4174a" stroke-width="3.8" fill="none" stroke-dasharray="1.45 1.75"/>
<circle cx="858.17" cy="1222.8" r="1.65" fill="#d4174a"/>
<path d="M876.85 1222.8H864.4M876.85 1222.8H889.31" stroke="#d4174a" stroke-width="3.8" fill="none" stroke-dasharray="1.45 1.75"/>
<circle cx="876.85" cy="1222.8" r="1.65" fill="#d4174a"/>
<path d="M901.76 1221.7H889.31M901.76 1221.7H914.22" stroke="#d4174a" stroke-width="3.8" fill="none" stroke-dasharray="1.45 1.75"/>
<circle cx="901.76" cy="1221.7" r="1.65" fill="#d4174a"/>
<path d="M926.67 1221.3H914.22M926.67 1221.3H939.12" stroke="#d4174a" stroke-width="3.8" fill="none" stroke-dasharray="1.45 1.75"/>
<circle cx="926.67" cy="1221.3" r="1.65" fill="#d4174a"/>
<path d="M970.26 1221.6H939.12M970.26 1221.6H1001.39" stroke="#d4174a" stroke-width="3.8" fill="none" stroke-dasharray="1.45 1.75"/>
<circle cx="970.26" cy="1221.6" r="1.65" fill="#d4174a"/>
<path d="M1032.53 1222.5H1001.39M1032.53 1222.5H1063.66" stroke="#d4174a" stroke-width="3.8" fill="none" stroke-dasharray="1.45 1.75"/>
<circle cx="1032.53" cy="1222.5" r="1.65" fill="#d4174a"/>
<path d="M1094.8 1223.5H1063.66M1094.8 1223.5H1125.93" stroke="#d4174a" stroke-width="3.8" fill="none" stroke-dasharray="1.45 1.75"/>
<circle cx="1094.8" cy="1223.5" r="1.65" fill="#d4174a"/>
<path d="M1157.07 1223.5H1125.93M1157.07 1223.5H1188.2" stroke="#d4174a" stroke-width="3.8" fill="none" stroke-dasharray="1.45 1.75"/>
<circle cx="1157.07" cy="1223.5" r="1.65" fill="#d4174a"/>
</g>
<g clip-path="url(#crf)">
<rect x="702.5" y="1356.62" width="6.23" height="14.71" fill="#cccccc"/>
<rect x="708.73" y="1357.84" width="6.23" height="12.26" fill="#cccccc"/>
<rect x="714.95" y="1359.68" width="6.23" height="8.58" fill="#cccccc"/>
<rect x="721.18" y="1359.68" width="6.23" height="8.58" fill="#cccccc"/>
<rect x="727.41" y="1359.68" width="6.23" height="8.58" fill="#cccccc"/>
<rect x="733.63" y="1359.68" width="6.23" height="8.58" fill="#cccccc"/>
<rect x="739.86" y="1359.68" width="6.23" height="8.58" fill="#cccccc"/>
<rect x="746.09" y="1359.68" width="6.23" height="8.58" fill="#cccccc"/>
<rect x="752.32" y="1359.68" width="6.23" height="8.58" fill="#cccccc"/>
<rect x="758.54" y="1359.68" width="6.23" height="8.58" fill="#cccccc"/>
<rect x="764.77" y="1359.68" width="6.23" height="8.58" fill="#cccccc"/>
<rect x="771" y="1359.68" width="6.23" height="8.58" fill="#cccccc"/>
<rect x="777.22" y="1359.68" width="6.23" height="8.58" fill="#cccccc"/>
<rect x="783.45" y="1359.68" width="6.23" height="8.58" fill="#cccccc"/>
<rect x="789.68" y="1359.68" width="12.45" height="8.58" fill="#cccccc"/>
<rect x="802.13" y="1359.68" width="12.45" height="8.58" fill="#cccccc"/>
<rect x="814.58" y="1359.68" width="12.45" height="8.58" fill="#cccccc"/>
<rect x="827.04" y="1359.68" width="12.45" height="8.58" fill="#cccccc"/>
<rect x="839.49" y="1359.68" width="12.45" height="8.58" fill="#cccccc"/>
<rect x="851.95" y="1359.68" width="12.45" height="8.58" fill="#cccccc"/>
<rect x="864.4" y="1359.07" width="24.91" height="9.81" fill="#cccccc"/>
<rect x="889.31" y="1359.07" width="24.91" height="9.81" fill="#cccccc"/>
<rect x="914.22" y="1358.46" width="24.91" height="11.03" fill="#cccccc"/>
<rect x="939.12" y="1359.31" width="62.27" height="9.32" fill="#cccccc"/>
<rect x="1001.39" y="1358.46" width="62.27" height="11.03" fill="#cccccc"/>
<rect x="1063.66" y="1356.98" width="62.27" height="13.97" fill="#cccccc"/>
<rect x="1125.93" y="1354.53" width="62.27" height="18.88" fill="#cccccc"/>
</g>
<line x1="702.5" y1="1363.97" x2="708.73" y2="1363.97" stroke="#000" stroke-width="1.7"/>
<line x1="708.73" y1="1363.97" x2="714.95" y2="1363.97" stroke="#000" stroke-width="1.7"/>
<line x1="714.95" y1="1363.97" x2="721.18" y2="1363.97" stroke="#000" stroke-width="1.7"/>
<line x1="721.18" y1="1363.97" x2="727.41" y2="1363.97" stroke="#000" stroke-width="1.7"/>
<line x1="727.41" y1="1363.97" x2="733.63" y2="1363.97" stroke="#000" stroke-width="1.7"/>
<line x1="733.63" y1="1363.97" x2="739.86" y2="1363.97" stroke="#000" stroke-width="1.7"/>
<line x1="739.86" y1="1363.97" x2="746.09" y2="1363.97" stroke="#000" stroke-width="1.7"/>
<line x1="746.09" y1="1363.97" x2="752.32" y2="1363.97" stroke="#000" stroke-width="1.7"/>
<line x1="752.32" y1="1363.97" x2="758.54" y2="1363.97" stroke="#000" stroke-width="1.7"/>
<line x1="758.54" y1="1363.97" x2="764.77" y2="1363.97" stroke="#000" stroke-width="1.7"/>
<line x1="764.77" y1="1363.97" x2="771" y2="1363.97" stroke="#000" stroke-width="1.7"/>
<line x1="771" y1="1363.97" x2="777.22" y2="1363.97" stroke="#000" stroke-width="1.7"/>
<line x1="777.22" y1="1363.97" x2="783.45" y2="1363.97" stroke="#000" stroke-width="1.7"/>
<line x1="783.45" y1="1363.97" x2="789.68" y2="1363.97" stroke="#000" stroke-width="1.7"/>
<line x1="789.68" y1="1363.97" x2="802.13" y2="1363.97" stroke="#000" stroke-width="1.7"/>
<line x1="802.13" y1="1363.97" x2="814.58" y2="1363.97" stroke="#000" stroke-width="1.7"/>
<line x1="814.58" y1="1363.97" x2="827.04" y2="1363.97" stroke="#000" stroke-width="1.7"/>
<line x1="827.04" y1="1363.97" x2="839.49" y2="1363.97" stroke="#000" stroke-width="1.7"/>
<line x1="839.49" y1="1363.97" x2="851.95" y2="1363.97" stroke="#000" stroke-width="1.7"/>
<line x1="851.95" y1="1363.97" x2="864.4" y2="1363.97" stroke="#000" stroke-width="1.7"/>
<line x1="864.4" y1="1363.97" x2="889.31" y2="1363.97" stroke="#000" stroke-width="1.7"/>
<line x1="889.31" y1="1363.97" x2="914.22" y2="1363.97" stroke="#000" stroke-width="1.7"/>
<line x1="914.22" y1="1363.97" x2="939.12" y2="1363.97" stroke="#000" stroke-width="1.7"/>
<line x1="939.12" y1="1363.97" x2="1001.39" y2="1363.97" stroke="#000" stroke-width="1.7"/>
<line x1="1001.39" y1="1363.97" x2="1063.66" y2="1363.97" stroke="#000" stroke-width="1.7"/>
<line x1="1063.66" y1="1363.97" x2="1125.93" y2="1363.97" stroke="#000" stroke-width="1.7"/>
<line x1="1094.8" y1="1361.52" x2="1094.8" y2="1366.42" stroke="#000" stroke-width="1.7"/>
<line x1="1125.93" y1="1363.97" x2="1188.2" y2="1363.97" stroke="#000" stroke-width="1.7"/>
<line x1="1157.07" y1="1356" x2="1157.07" y2="1371.94" stroke="#000" stroke-width="1.7"/>
<circle cx="705.61" cy="1363.97" r="5.8" fill="#000"/>
<circle cx="711.84" cy="1363.97" r="5.8" fill="#000"/>
<circle cx="718.07" cy="1363.97" r="5.8" fill="#000"/>
<circle cx="724.29" cy="1363.97" r="5.8" fill="#000"/>
<circle cx="730.52" cy="1363.97" r="5.8" fill="#000"/>
<circle cx="736.75" cy="1363.97" r="5.8" fill="#000"/>
<circle cx="742.98" cy="1363.97" r="5.8" fill="#000"/>
<circle cx="749.2" cy="1363.97" r="5.8" fill="#000"/>
<circle cx="755.43" cy="1363.97" r="5.8" fill="#000"/>
<circle cx="761.66" cy="1363.97" r="5.8" fill="#000"/>
<circle cx="767.88" cy="1363.97" r="5.8" fill="#000"/>
<circle cx="774.11" cy="1363.97" r="5.8" fill="#000"/>
<circle cx="780.34" cy="1363.97" r="5.8" fill="#000"/>
<circle cx="786.56" cy="1363.97" r="5.8" fill="#000"/>
<circle cx="795.9" cy="1363.97" r="5.8" fill="#000"/>
<circle cx="808.36" cy="1363.97" r="5.8" fill="#000"/>
<circle cx="820.81" cy="1363.97" r="5.8" fill="#000"/>
<circle cx="833.27" cy="1363.97" r="5.8" fill="#000"/>
<circle cx="845.72" cy="1363.97" r="5.8" fill="#000"/>
<circle cx="858.17" cy="1363.97" r="5.8" fill="#000"/>
<circle cx="876.85" cy="1363.97" r="5.8" fill="#000"/>
<circle cx="901.76" cy="1363.97" r="5.8" fill="#000"/>
<circle cx="926.67" cy="1363.97" r="5.8" fill="#000"/>
<circle cx="970.26" cy="1363.97" r="5.8" fill="#000"/>
<circle cx="1032.53" cy="1363.97" r="5.8" fill="#000"/>
<circle cx="1094.8" cy="1363.97" r="5.8" fill="#000"/>
<circle cx="1157.07" cy="1363.97" r="5.8" fill="#000"/>
<g clip-path="url(#crf)">
<path d="M705.61 1384.2H702.5M705.61 1384.2H708.73" stroke="#0b46a8" stroke-width="3" fill="none"/>
<path d="M711.84 1382.26H708.73M711.84 1382.26H714.95" stroke="#0b46a8" stroke-width="3" fill="none"/>
<path d="M718.07 1380.47H714.95M718.07 1380.47H721.18" stroke="#0b46a8" stroke-width="3" fill="none"/>
<path d="M724.29 1378.42H721.18M724.29 1378.42H727.41" stroke="#0b46a8" stroke-width="3" fill="none"/>
<path d="M730.52 1377.2H727.41M730.52 1377.2H733.63" stroke="#0b46a8" stroke-width="3" fill="none"/>
<path d="M736.75 1376.5H733.63M736.75 1376.5H739.86" stroke="#0b46a8" stroke-width="3" fill="none"/>
<path d="M742.98 1375.68H739.86M742.98 1375.68H746.09" stroke="#0b46a8" stroke-width="3" fill="none"/>
<path d="M749.2 1375.18H746.09M749.2 1375.18H752.32" stroke="#0b46a8" stroke-width="3" fill="none"/>
<path d="M755.43 1374.5H752.32M755.43 1374.5H758.54" stroke="#0b46a8" stroke-width="3" fill="none"/>
<path d="M761.66 1374.21H758.54M761.66 1374.21H764.77" stroke="#0b46a8" stroke-width="3" fill="none"/>
<path d="M767.88 1373.24H764.77M767.88 1373.24H771" stroke="#0b46a8" stroke-width="3" fill="none"/>
<path d="M774.11 1374.64H771M774.11 1374.64H777.22" stroke="#0b46a8" stroke-width="3" fill="none"/>
<path d="M780.34 1373.9H777.22M780.34 1373.9H783.45" stroke="#0b46a8" stroke-width="3" fill="none"/>
<path d="M786.56 1371.29H783.45M786.56 1371.29H789.68" stroke="#0b46a8" stroke-width="3" fill="none"/>
<path d="M795.9 1373.31H789.68M795.9 1373.31H802.13" stroke="#0b46a8" stroke-width="3" fill="none"/>
<path d="M808.36 1371.26H802.13M808.36 1371.26H814.58" stroke="#0b46a8" stroke-width="3" fill="none"/>
<path d="M820.81 1370.69H814.58M820.81 1370.69H827.04" stroke="#0b46a8" stroke-width="3" fill="none"/>
<path d="M833.27 1372.02H827.04M833.27 1372.02H839.49" stroke="#0b46a8" stroke-width="3" fill="none"/>
<path d="M845.72 1370.61H839.49M845.72 1370.61H851.95" stroke="#0b46a8" stroke-width="3" fill="none"/>
<path d="M858.17 1369.93H851.95M858.17 1369.93H864.4" stroke="#0b46a8" stroke-width="3" fill="none"/>
<path d="M876.85 1372.39H864.4M876.85 1372.39H889.31" stroke="#0b46a8" stroke-width="3" fill="none"/>
<path d="M901.76 1369.57H889.31M901.76 1369.57H914.22" stroke="#0b46a8" stroke-width="3" fill="none"/>
<path d="M926.67 1366.35H914.22M926.67 1366.35H939.12" stroke="#0b46a8" stroke-width="3" fill="none"/>
<path d="M970.26 1363.82H939.12M970.26 1363.82H1001.39" stroke="#0b46a8" stroke-width="3" fill="none"/>
<path d="M1032.53 1362.4H1001.39M1032.53 1362.4H1063.66M1032.53 1362.4V1360.04M1032.53 1362.4V1364.76" stroke="#0b46a8" stroke-width="3" fill="none"/>
<path d="M1094.8 1369.14H1063.66M1094.8 1369.14H1125.93M1094.8 1369.14V1366.32M1094.8 1369.14V1371.96" stroke="#0b46a8" stroke-width="3" fill="none"/>
<path d="M1157.07 1366.81H1125.93M1157.07 1366.81H1188.2M1157.07 1366.81V1363.22M1157.07 1366.81V1370.4" stroke="#0b46a8" stroke-width="3" fill="none"/>
</g>
<g clip-path="url(#crf)">
<path d="M705.61 1400.88H702.5M705.61 1400.88H708.73" stroke="#66cc00" stroke-width="3.2" fill="none" stroke-dasharray="3.3 3.13"/>
<path d="M711.84 1399.72H708.73M711.84 1399.72H714.95" stroke="#66cc00" stroke-width="3.2" fill="none" stroke-dasharray="3.3 3.13"/>
<path d="M718.07 1398.66H714.95M718.07 1398.66H721.18" stroke="#66cc00" stroke-width="3.2" fill="none" stroke-dasharray="3.3 3.13"/>
<path d="M724.29 1398.04H721.18M724.29 1398.04H727.41" stroke="#66cc00" stroke-width="3.2" fill="none" stroke-dasharray="3.3 3.13"/>
<path d="M730.52 1397.97H727.41M730.52 1397.97H733.63" stroke="#66cc00" stroke-width="3.2" fill="none" stroke-dasharray="3.3 3.13"/>
<path d="M736.75 1398.11H733.63M736.75 1398.11H739.86" stroke="#66cc00" stroke-width="3.2" fill="none" stroke-dasharray="3.3 3.13"/>
<path d="M742.98 1398.14H739.86M742.98 1398.14H746.09" stroke="#66cc00" stroke-width="3.2" fill="none" stroke-dasharray="3.3 3.13"/>
<path d="M749.2 1398.38H746.09M749.2 1398.38H752.32" stroke="#66cc00" stroke-width="3.2" fill="none" stroke-dasharray="3.3 3.13"/>
<path d="M755.43 1398.07H752.32M755.43 1398.07H758.54" stroke="#66cc00" stroke-width="3.2" fill="none" stroke-dasharray="3.3 3.13"/>
<path d="M761.66 1397.54H758.54M761.66 1397.54H764.77" stroke="#66cc00" stroke-width="3.2" fill="none" stroke-dasharray="3.3 3.13"/>
<path d="M767.88 1397.56H764.77M767.88 1397.56H771" stroke="#66cc00" stroke-width="3.2" fill="none" stroke-dasharray="3.3 3.13"/>
<path d="M774.11 1399.26H771M774.11 1399.26H777.22" stroke="#66cc00" stroke-width="3.2" fill="none" stroke-dasharray="3.3 3.13"/>
<path d="M780.34 1398.56H777.22M780.34 1398.56H783.45" stroke="#66cc00" stroke-width="3.2" fill="none" stroke-dasharray="3.3 3.13"/>
<path d="M786.56 1396.51H783.45M786.56 1396.51H789.68" stroke="#66cc00" stroke-width="3.2" fill="none" stroke-dasharray="3.3 3.13"/>
<path d="M795.9 1398.56H789.68M795.9 1398.56H802.13" stroke="#66cc00" stroke-width="3.2" fill="none" stroke-dasharray="3.3 3.13"/>
<path d="M808.36 1395.73H802.13M808.36 1395.73H814.58" stroke="#66cc00" stroke-width="3.2" fill="none" stroke-dasharray="3.3 3.13"/>
<path d="M820.81 1395.85H814.58M820.81 1395.85H827.04" stroke="#66cc00" stroke-width="3.2" fill="none" stroke-dasharray="3.3 3.13"/>
<path d="M833.27 1396.42H827.04M833.27 1396.42H839.49" stroke="#66cc00" stroke-width="3.2" fill="none" stroke-dasharray="3.3 3.13"/>
<path d="M845.72 1395.26H839.49M845.72 1395.26H851.95" stroke="#66cc00" stroke-width="3.2" fill="none" stroke-dasharray="3.3 3.13"/>
<path d="M858.17 1396.19H851.95M858.17 1396.19H864.4" stroke="#66cc00" stroke-width="3.2" fill="none" stroke-dasharray="3.3 3.13"/>
<path d="M876.85 1396.53H864.4M876.85 1396.53H889.31" stroke="#66cc00" stroke-width="3.2" fill="none" stroke-dasharray="3.3 3.13"/>
<path d="M901.76 1396.08H889.31M901.76 1396.08H914.22" stroke="#66cc00" stroke-width="3.2" fill="none" stroke-dasharray="3.3 3.13"/>
<path d="M926.67 1392.2H914.22M926.67 1392.2H939.12" stroke="#66cc00" stroke-width="3.2" fill="none" stroke-dasharray="3.3 3.13"/>
<path d="M970.26 1391.36H939.12M970.26 1391.36H1001.39" stroke="#66cc00" stroke-width="3.2" fill="none" stroke-dasharray="3.3 3.13"/>
<path d="M1032.53 1391.19H1001.39M1032.53 1391.19H1063.66M1032.53 1391.19V1389.38M1032.53 1391.19V1393" stroke="#66cc00" stroke-width="3.2" fill="none" stroke-dasharray="3.3 3.13"/>
<path d="M1094.8 1394.25H1063.66M1094.8 1394.25H1125.93M1094.8 1394.25V1392.03M1094.8 1394.25V1396.46" stroke="#66cc00" stroke-width="3.2" fill="none" stroke-dasharray="3.3 3.13"/>
<path d="M1157.07 1395.64H1125.93M1157.07 1395.64H1188.2M1157.07 1395.64V1392.92M1157.07 1395.64V1398.37" stroke="#66cc00" stroke-width="3.2" fill="none" stroke-dasharray="3.3 3.13"/>
</g>
<g clip-path="url(#crf)">
<path d="M705.61 1396.26H702.5M705.61 1396.26H708.73" stroke="#d4174a" stroke-width="3.8" fill="none" stroke-dasharray="1.45 1.75"/>
<circle cx="705.61" cy="1396.26" r="1.65" fill="#d4174a"/>
<path d="M711.84 1393.32H708.73M711.84 1393.32H714.95" stroke="#d4174a" stroke-width="3.8" fill="none" stroke-dasharray="1.45 1.75"/>
<circle cx="711.84" cy="1393.32" r="1.65" fill="#d4174a"/>
<path d="M718.07 1392.14H714.95M718.07 1392.14H721.18" stroke="#d4174a" stroke-width="3.8" fill="none" stroke-dasharray="1.45 1.75"/>
<circle cx="718.07" cy="1392.14" r="1.65" fill="#d4174a"/>
<path d="M724.29 1390.57H721.18M724.29 1390.57H727.41" stroke="#d4174a" stroke-width="3.8" fill="none" stroke-dasharray="1.45 1.75"/>
<circle cx="724.29" cy="1390.57" r="1.65" fill="#d4174a"/>
<path d="M730.52 1390.18H727.41M730.52 1390.18H733.63" stroke="#d4174a" stroke-width="3.8" fill="none" stroke-dasharray="1.45 1.75"/>
<circle cx="730.52" cy="1390.18" r="1.65" fill="#d4174a"/>
<path d="M736.75 1390.19H733.63M736.75 1390.19H739.86" stroke="#d4174a" stroke-width="3.8" fill="none" stroke-dasharray="1.45 1.75"/>
<circle cx="736.75" cy="1390.19" r="1.65" fill="#d4174a"/>
<path d="M742.98 1389.66H739.86M742.98 1389.66H746.09" stroke="#d4174a" stroke-width="3.8" fill="none" stroke-dasharray="1.45 1.75"/>
<circle cx="742.98" cy="1389.66" r="1.65" fill="#d4174a"/>
<path d="M749.2 1389.58H746.09M749.2 1389.58H752.32" stroke="#d4174a" stroke-width="3.8" fill="none" stroke-dasharray="1.45 1.75"/>
<circle cx="749.2" cy="1389.58" r="1.65" fill="#d4174a"/>
<path d="M755.43 1388.99H752.32M755.43 1388.99H758.54" stroke="#d4174a" stroke-width="3.8" fill="none" stroke-dasharray="1.45 1.75"/>
<circle cx="755.43" cy="1388.99" r="1.65" fill="#d4174a"/>
<path d="M761.66 1388.23H758.54M761.66 1388.23H764.77" stroke="#d4174a" stroke-width="3.8" fill="none" stroke-dasharray="1.45 1.75"/>
<circle cx="761.66" cy="1388.23" r="1.65" fill="#d4174a"/>
<path d="M767.88 1388.17H764.77M767.88 1388.17H771" stroke="#d4174a" stroke-width="3.8" fill="none" stroke-dasharray="1.45 1.75"/>
<circle cx="767.88" cy="1388.17" r="1.65" fill="#d4174a"/>
<path d="M774.11 1389.45H771M774.11 1389.45H777.22" stroke="#d4174a" stroke-width="3.8" fill="none" stroke-dasharray="1.45 1.75"/>
<circle cx="774.11" cy="1389.45" r="1.65" fill="#d4174a"/>
<path d="M780.34 1387.83H777.22M780.34 1387.83H783.45" stroke="#d4174a" stroke-width="3.8" fill="none" stroke-dasharray="1.45 1.75"/>
<circle cx="780.34" cy="1387.83" r="1.65" fill="#d4174a"/>
<path d="M786.56 1385.85H783.45M786.56 1385.85H789.68" stroke="#d4174a" stroke-width="3.8" fill="none" stroke-dasharray="1.45 1.75"/>
<circle cx="786.56" cy="1385.85" r="1.65" fill="#d4174a"/>
<path d="M795.9 1387.88H789.68M795.9 1387.88H802.13" stroke="#d4174a" stroke-width="3.8" fill="none" stroke-dasharray="1.45 1.75"/>
<circle cx="795.9" cy="1387.88" r="1.65" fill="#d4174a"/>
<path d="M808.36 1385.63H802.13M808.36 1385.63H814.58" stroke="#d4174a" stroke-width="3.8" fill="none" stroke-dasharray="1.45 1.75"/>
<circle cx="808.36" cy="1385.63" r="1.65" fill="#d4174a"/>
<path d="M820.81 1385.91H814.58M820.81 1385.91H827.04" stroke="#d4174a" stroke-width="3.8" fill="none" stroke-dasharray="1.45 1.75"/>
<circle cx="820.81" cy="1385.91" r="1.65" fill="#d4174a"/>
<path d="M833.27 1386.47H827.04M833.27 1386.47H839.49" stroke="#d4174a" stroke-width="3.8" fill="none" stroke-dasharray="1.45 1.75"/>
<circle cx="833.27" cy="1386.47" r="1.65" fill="#d4174a"/>
<path d="M845.72 1384.57H839.49M845.72 1384.57H851.95" stroke="#d4174a" stroke-width="3.8" fill="none" stroke-dasharray="1.45 1.75"/>
<circle cx="845.72" cy="1384.57" r="1.65" fill="#d4174a"/>
<path d="M858.17 1383.13H851.95M858.17 1383.13H864.4" stroke="#d4174a" stroke-width="3.8" fill="none" stroke-dasharray="1.45 1.75"/>
<circle cx="858.17" cy="1383.13" r="1.65" fill="#d4174a"/>
<path d="M876.85 1386.04H864.4M876.85 1386.04H889.31" stroke="#d4174a" stroke-width="3.8" fill="none" stroke-dasharray="1.45 1.75"/>
<circle cx="876.85" cy="1386.04" r="1.65" fill="#d4174a"/>
<path d="M901.76 1383.84H889.31M901.76 1383.84H914.22" stroke="#d4174a" stroke-width="3.8" fill="none" stroke-dasharray="1.45 1.75"/>
<circle cx="901.76" cy="1383.84" r="1.65" fill="#d4174a"/>
<path d="M926.67 1380.29H914.22M926.67 1380.29H939.12" stroke="#d4174a" stroke-width="3.8" fill="none" stroke-dasharray="1.45 1.75"/>
<circle cx="926.67" cy="1380.29" r="1.65" fill="#d4174a"/>
<path d="M970.26 1378.4H939.12M970.26 1378.4H1001.39" stroke="#d4174a" stroke-width="3.8" fill="none" stroke-dasharray="1.45 1.75"/>
<circle cx="970.26" cy="1378.4" r="1.65" fill="#d4174a"/>
<path d="M1032.53 1377.36H1001.39M1032.53 1377.36H1063.66" stroke="#d4174a" stroke-width="3.8" fill="none" stroke-dasharray="1.45 1.75"/>
<circle cx="1032.53" cy="1377.36" r="1.65" fill="#d4174a"/>
<path d="M1094.8 1379.48H1063.66M1094.8 1379.48H1125.93" stroke="#d4174a" stroke-width="3.8" fill="none" stroke-dasharray="1.45 1.75"/>
<circle cx="1094.8" cy="1379.48" r="1.65" fill="#d4174a"/>
<path d="M1157.07 1383.57H1125.93M1157.07 1383.57H1188.2" stroke="#d4174a" stroke-width="3.8" fill="none" stroke-dasharray="1.45 1.75"/>
<circle cx="1157.07" cy="1383.57" r="1.65" fill="#d4174a"/>
</g>
<rect x="702.5" y="1057.8" width="485.7" height="355.2" fill="none" stroke="#000" stroke-width="1.3"/>
<line x1="702.5" y1="1327.2" x2="1188.2" y2="1327.2" stroke="#000" stroke-width="1.6"/>
<path d="M714.95 1057.8v3.5M714.95 1327.2v-3.5M714.95 1327.2v2M714.95 1413v-2M727.41 1057.8v3.5M727.41 1327.2v-3.5M727.41 1327.2v2M727.41 1413v-2M739.86 1057.8v3.5M739.86 1327.2v-3.5M739.86 1327.2v2M739.86 1413v-2M752.32 1057.8v7M752.32 1327.2v-7M752.32 1327.2v4M752.32 1413v-4M764.77 1057.8v3.5M764.77 1327.2v-3.5M764.77 1327.2v2M764.77 1413v-2M777.22 1057.8v3.5M777.22 1327.2v-3.5M777.22 1327.2v2M777.22 1413v-2M789.68 1057.8v3.5M789.68 1327.2v-3.5M789.68 1327.2v2M789.68 1413v-2M802.13 1057.8v3.5M802.13 1327.2v-3.5M802.13 1327.2v2M802.13 1413v-2M814.58 1057.8v7M814.58 1327.2v-7M814.58 1327.2v4M814.58 1413v-4M827.04 1057.8v3.5M827.04 1327.2v-3.5M827.04 1327.2v2M827.04 1413v-2M839.49 1057.8v3.5M839.49 1327.2v-3.5M839.49 1327.2v2M839.49 1413v-2M851.95 1057.8v3.5M851.95 1327.2v-3.5M851.95 1327.2v2M851.95 1413v-2M864.4 1057.8v3.5M864.4 1327.2v-3.5M864.4 1327.2v2M864.4 1413v-2M876.85 1057.8v7M876.85 1327.2v-7M876.85 1327.2v4M876.85 1413v-4M889.31 1057.8v3.5M889.31 1327.2v-3.5M889.31 1327.2v2M889.31 1413v-2M901.76 1057.8v3.5M901.76 1327.2v-3.5M901.76 1327.2v2M901.76 1413v-2M914.22 1057.8v3.5M914.22 1327.2v-3.5M914.22 1327.2v2M914.22 1413v-2M926.67 1057.8v3.5M926.67 1327.2v-3.5M926.67 1327.2v2M926.67 1413v-2M939.12 1057.8v7M939.12 1327.2v-7M939.12 1327.2v4M939.12 1413v-4M951.58 1057.8v3.5M951.58 1327.2v-3.5M951.58 1327.2v2M951.58 1413v-2M964.03 1057.8v3.5M964.03 1327.2v-3.5M964.03 1327.2v2M964.03 1413v-2M976.48 1057.8v3.5M976.48 1327.2v-3.5M976.48 1327.2v2M976.48 1413v-2M988.94 1057.8v3.5M988.94 1327.2v-3.5M988.94 1327.2v2M988.94 1413v-2M1001.39 1057.8v7M1001.39 1327.2v-7M1001.39 1327.2v4M1001.39 1413v-4M1013.85 1057.8v3.5M1013.85 1327.2v-3.5M1013.85 1327.2v2M1013.85 1413v-2M1026.3 1057.8v3.5M1026.3 1327.2v-3.5M1026.3 1327.2v2M1026.3 1413v-2M1038.75 1057.8v3.5M1038.75 1327.2v-3.5M1038.75 1327.2v2M1038.75 1413v-2M1051.21 1057.8v3.5M1051.21 1327.2v-3.5M1051.21 1327.2v2M1051.21 1413v-2M1063.66 1057.8v7M1063.66 1327.2v-7M1063.66 1327.2v4M1063.66 1413v-4M1076.12 1057.8v3.5M1076.12 1327.2v-3.5M1076.12 1327.2v2M1076.12 1413v-2M1088.57 1057.8v3.5M1088.57 1327.2v-3.5M1088.57 1327.2v2M1088.57 1413v-2M1101.02 1057.8v3.5M1101.02 1327.2v-3.5M1101.02 1327.2v2M1101.02 1413v-2M1113.48 1057.8v3.5M1113.48 1327.2v-3.5M1113.48 1327.2v2M1113.48 1413v-2M1125.93 1057.8v7M1125.93 1327.2v-7M1125.93 1327.2v4M1125.93 1413v-4M1138.38 1057.8v3.5M1138.38 1327.2v-3.5M1138.38 1327.2v2M1138.38 1413v-2M1150.84 1057.8v3.5M1150.84 1327.2v-3.5M1150.84 1327.2v2M1150.84 1413v-2M1163.29 1057.8v3.5M1163.29 1327.2v-3.5M1163.29 1327.2v2M1163.29 1413v-2M1175.75 1057.8v3.5M1175.75 1327.2v-3.5M1175.75 1327.2v2M1175.75 1413v-2M702.5 1313.26h8M1188.2 1313.26h-8M702.5 1299.45h16M1188.2 1299.45h-16M702.5 1285.64h8M1188.2 1285.64h-8M702.5 1271.83h8M1188.2 1271.83h-8M702.5 1258.02h8M1188.2 1258.02h-8M702.5 1244.21h8M1188.2 1244.21h-8M702.5 1230.4h16M1188.2 1230.4h-16M702.5 1216.59h8M1188.2 1216.59h-8M702.5 1202.78h8M1188.2 1202.78h-8M702.5 1188.97h8M1188.2 1188.97h-8M702.5 1175.16h8M1188.2 1175.16h-8M702.5 1161.35h16M1188.2 1161.35h-16M702.5 1147.54h8M1188.2 1147.54h-8M702.5 1133.73h8M1188.2 1133.73h-8M702.5 1119.92h8M1188.2 1119.92h-8M702.5 1106.11h8M1188.2 1106.11h-8M702.5 1092.3h16M1188.2 1092.3h-16M702.5 1078.49h8M1188.2 1078.49h-8M702.5 1064.68h8M1188.2 1064.68h-8M702.5 1400.74h4.7M1188.2 1400.74h-4.7M702.5 1388.49h9.7M1188.2 1388.49h-9.7M702.5 1376.23h4.7M1188.2 1376.23h-4.7M702.5 1363.97h9.7M1188.2 1363.97h-9.7M702.5 1351.71h4.7M1188.2 1351.71h-4.7M702.5 1339.46h9.7M1188.2 1339.46h-9.7" stroke="#000" stroke-width="1.3" fill="none"/>
<text transform="translate(746.31 1431.5) scale(1 1.045)" font-size="21.6" font-family="'Liberation Sans', sans-serif" fill="#000" style="white-space:pre;font-kerning:none">5</text>
<text transform="translate(802.57 1431.5) scale(1 1.045)" font-size="21.6" font-family="'Liberation Sans', sans-serif" fill="#000" style="white-space:pre;font-kerning:none"> 0</text>
<path transform="translate(802.57 1431.5) scale(21.600 -22.572)" d="M.359 0V.703H.29C.266 .632 .205 .588 .101 .574V.503C.172 .511 .232 .535 .268 .566V0Z" fill="#000"/>
<text transform="translate(864.84 1431.5) scale(1 1.045)" font-size="21.6" font-family="'Liberation Sans', sans-serif" fill="#000" style="white-space:pre;font-kerning:none"> 5</text>
<path transform="translate(864.84 1431.5) scale(21.600 -22.572)" d="M.359 0V.703H.29C.266 .632 .205 .588 .101 .574V.503C.172 .511 .232 .535 .268 .566V0Z" fill="#000"/>
<text transform="translate(927.11 1431.5) scale(1 1.045)" font-size="21.6" font-family="'Liberation Sans', sans-serif" fill="#000" style="white-space:pre;font-kerning:none">20</text>
<text transform="translate(989.38 1431.5) scale(1 1.045)" font-size="21.6" font-family="'Liberation Sans', sans-serif" fill="#000" style="white-space:pre;font-kerning:none">25</text>
<text transform="translate(1051.65 1431.5) scale(1 1.045)" font-size="21.6" font-family="'Liberation Sans', sans-serif" fill="#000" style="white-space:pre;font-kerning:none">30</text>
<text transform="translate(1113.92 1431.5) scale(1 1.045)" font-size="21.6" font-family="'Liberation Sans', sans-serif" fill="#000" style="white-space:pre;font-kerning:none">35</text>
<text transform="translate(1176.19 1431.5) scale(1 1.045)" font-size="21.6" font-family="'Liberation Sans', sans-serif" fill="#000" style="white-space:pre;font-kerning:none">40</text>
<text transform="translate(661.12 1306.95) scale(1 1.045)" font-size="21.6" font-family="'Liberation Sans', sans-serif" fill="#000" style="white-space:pre;font-kerning:none">0.0 </text>
<path transform="translate(691.15 1306.95) scale(21.600 -22.572)" d="M.359 0V.703H.29C.266 .632 .205 .588 .101 .574V.503C.172 .511 .232 .535 .268 .566V0Z" fill="#000"/>
<text transform="translate(657.95 1237.9) scale(1 1.045)" font-size="21.6" font-family="'Liberation Sans', sans-serif" fill="#000" style="white-space:pre;font-kerning:none">0.02</text>
<text transform="translate(657.81 1168.85) scale(1 1.045)" font-size="21.6" font-family="'Liberation Sans', sans-serif" fill="#000" style="white-space:pre;font-kerning:none">0.03</text>
<text transform="translate(657.49 1099.8) scale(1 1.045)" font-size="21.6" font-family="'Liberation Sans', sans-serif" fill="#000" style="white-space:pre;font-kerning:none">0.04</text>
<text transform="translate(669.82 1420.5) scale(1 1.045)" font-size="21.6" font-family="'Liberation Sans', sans-serif" fill="#000" style="white-space:pre;font-kerning:none">0.6</text>
<text transform="translate(669.81 1395.99) scale(1 1.045)" font-size="21.6" font-family="'Liberation Sans', sans-serif" fill="#000" style="white-space:pre;font-kerning:none">0.8</text>
<text transform="translate(691.15 1372.37) scale(1 1.045)" font-size="21.6" font-family="'Liberation Sans', sans-serif" fill="#000" style="white-space:pre;font-kerning:none"> </text>
<path transform="translate(691.15 1372.37) scale(21.600 -22.572)" d="M.359 0V.703H.29C.266 .632 .205 .588 .101 .574V.503C.172 .511 .232 .535 .268 .566V0Z" fill="#000"/>
<text transform="translate(669.96 1346.96) scale(1 1.045)" font-size="21.6" font-family="'Liberation Sans', sans-serif" fill="#000" style="white-space:pre;font-kerning:none"> .2</text>
<path transform="translate(669.96 1346.96) scale(21.600 -22.572)" d="M.359 0V.703H.29C.266 .632 .205 .588 .101 .574V.503C.172 .511 .232 .535 .268 .566V0Z" fill="#000"/>
<text transform="translate(996.34 1467.3) scale(1 1.045)" font-size="21.4" font-family="'Liberation Sans', sans-serif" fill="#000" style="white-space:pre;font-kerning:none">Leading-jet p</text>
<text transform="translate(1120.08 1479.3) scale(1 1.045)" font-size="15.2" font-family="'Liberation Sans', sans-serif" fill="#000" style="white-space:pre;font-kerning:none">T</text>
<text transform="translate(1129.37 1467.3) scale(1 1.045)" font-size="21.4" font-family="'Liberation Sans', sans-serif" fill="#000" style="white-space:pre;font-kerning:none"> [GeV]</text>
<text transform="translate(642 1327.3) rotate(-90) scale(1 1.045)" font-size="21.45" text-anchor="end" font-family="'Liberation Sans', sans-serif">MC/Data</text>
<text transform="translate(639.2 1056) rotate(-90) scale(1 1.045)" font-size="21.5" text-anchor="end" font-family="'Liberation Sans', sans-serif">N(K<tspan font-size="15.5" dy="-9.2">0</tspan><tspan font-size="15.5" dx="-8.6" dy="21.1">S</tspan><tspan dy="-11.9">) / N(ch)</tspan></text>
<rect x="727.9" y="1071.3" width="82.5" height="12.6" fill="#cccccc"/>
<line x1="727.9" y1="1077.6" x2="810.4" y2="1077.6" stroke="#000" stroke-width="1.7"/>
<circle cx="769.1" cy="1077.6" r="5.8" fill="#000"/>
<line x1="727.9" y1="1095.4" x2="810.4" y2="1095.4" stroke="#0b46a8" stroke-width="3"/>
<line x1="727.9" y1="1113.3" x2="810.4" y2="1113.3" stroke="#66cc00" stroke-width="3.3" stroke-dasharray="3.3 3.13"/>
<line x1="727.9" y1="1131" x2="810.4" y2="1131" stroke="#d4174a" stroke-width="3.8" stroke-dasharray="1.45 1.75"/>
<text transform="translate(828.3 1081.3) scale(1 1.045)" font-size="16.9" font-family="'Liberation Sans', sans-serif" fill="#000" style="white-space:pre;font-kerning:none">Data</text>
<text transform="translate(828.3 1099.1) scale(1 1.045)" font-size="16.9" font-family="'Liberation Sans', sans-serif" fill="#000" style="white-space:pre;font-kerning:none">EPOS-LHC</text>
<text transform="translate(828.3 1116.8) scale(1 1.045)" font-size="16.9" font-family="'Liberation Sans', sans-serif" fill="#000" style="white-space:pre;font-kerning:none">PY8-A2</text>
<text transform="translate(828.3 1134.6) scale(1 1.045)" font-size="16.9" font-family="'Liberation Sans', sans-serif" fill="#000" style="white-space:pre;font-kerning:none">PY8-MONASH+CR</text>
<path d="M831.95 1278.75 L834.75 1290.85 L837.85 1272.45 L850.55 1272.45" stroke="#000" fill="none" stroke-width="1.1" stroke-linejoin="miter"/>
<path d="M832.25 1279.05 L834.75 1290.45" stroke="#000" fill="none" stroke-width="2"/>
<text transform="translate(840.55 1290.75) scale(1 1.045)" font-size="21.3" font-family="'Liberation Sans', sans-serif" fill="#000" style="white-space:pre;font-kerning:none">s= 3 TeV</text>
<path transform="translate(863.64 1290.75) scale(21.300 -22.258)" d="M.359 0V.703H.29C.266 .632 .205 .588 .101 .574V.503C.172 .511 .232 .535 .268 .566V0Z" fill="#000"/>
<text transform="translate(828.75 1313.95) scale(1 1.045)" font-size="21.3" font-family="'Liberation Sans', sans-serif" fill="#000" style="white-space:pre;font-kerning:none">67x 0</text>
<path transform="translate(863.09 1313.95) scale(21.300 -22.258)" d="M.359 0V.703H.29C.266 .632 .205 .588 .101 .574V.503C.172 .511 .232 .535 .268 .566V0Z" fill="#000"/>
<text transform="translate(886.78 1304.25) scale(1 1.045)" font-size="14.8" font-family="'Liberation Sans', sans-serif" fill="#000" style="white-space:pre;font-kerning:none">6</text>
<text transform="translate(895.02 1313.95) scale(1 1.045)" font-size="21.3" font-family="'Liberation Sans', sans-serif" fill="#000" style="white-space:pre;font-kerning:none"> Events</text>
<text transform="translate(980.95 1290.85) scale(1 1.045)" font-size="21.7" font-family="'Liberation Sans', sans-serif" font-weight="bold" font-style="italic" fill="#000" style="white-space:pre;font-kerning:none">ATLAS</text>
<text transform="translate(980.95 1313.95) scale(1 1.045)" font-size="21.65" font-family="'Liberation Sans', sans-serif" fill="#000" style="white-space:pre;font-kerning:none">Transverse Region</text>
<text x="907.8" y="1518.5" font-size="24" text-anchor="middle" font-family="'Liberation Serif', serif">(f)</text>
</svg>
</body></html>
